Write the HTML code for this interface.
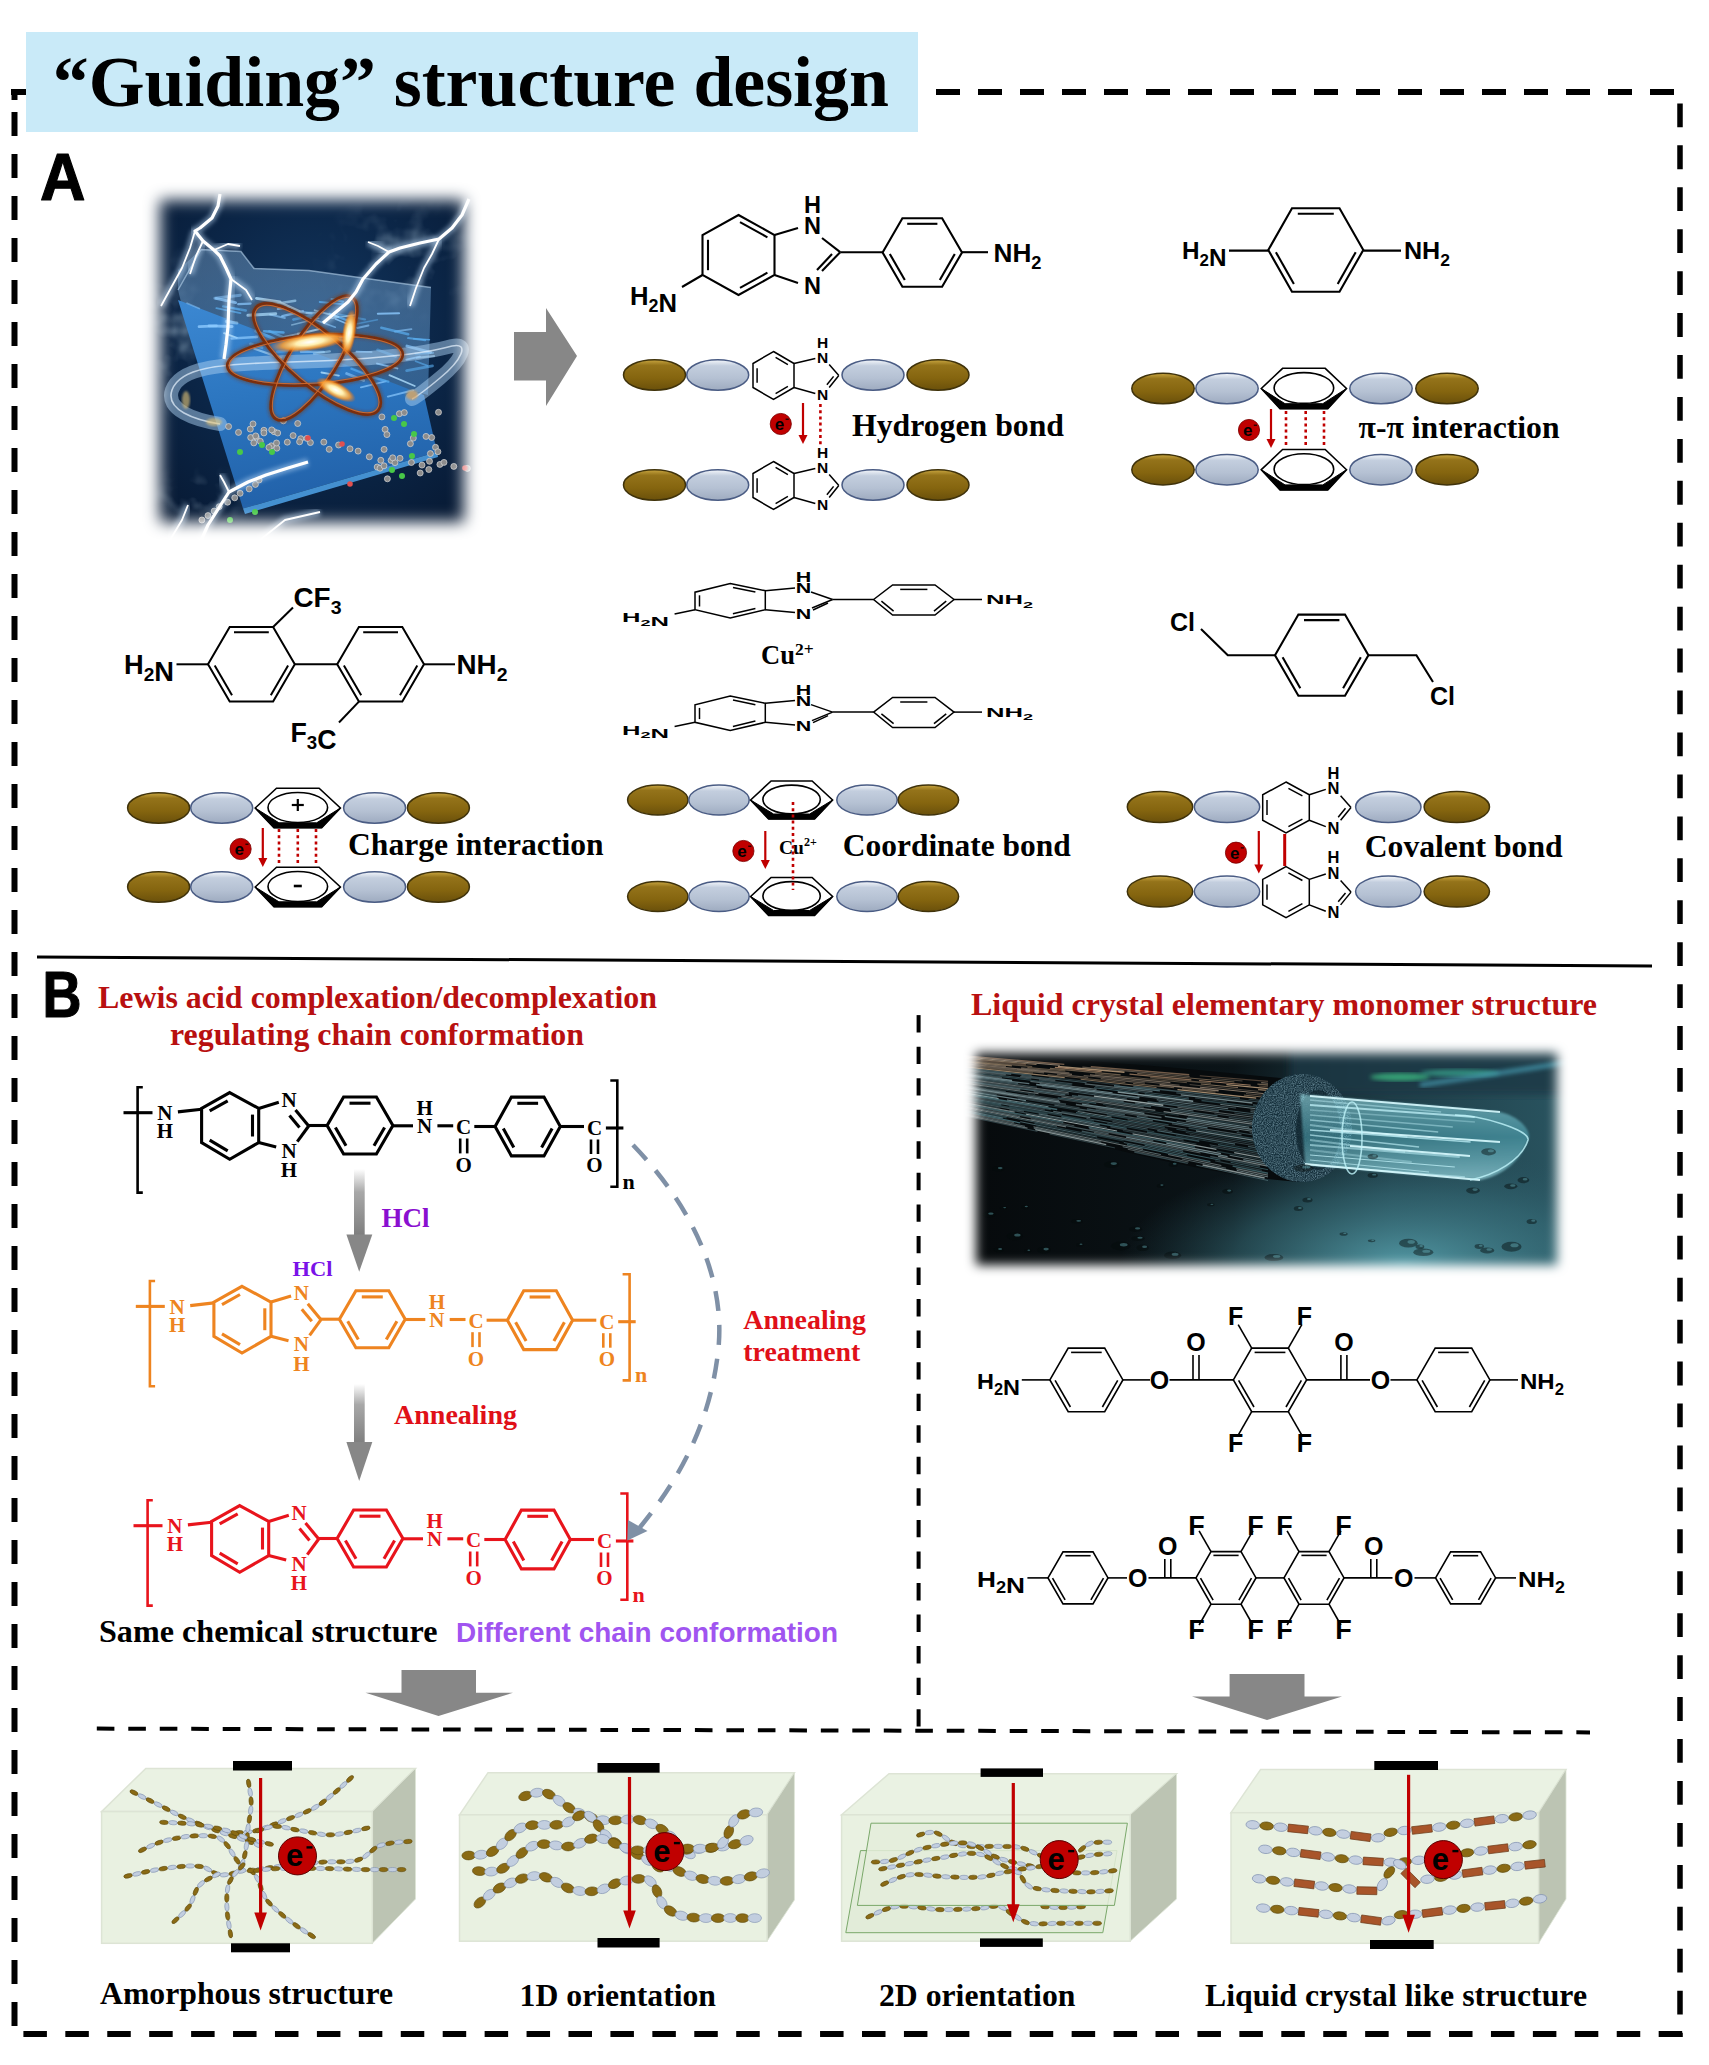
<!DOCTYPE html>
<html><head><meta charset="utf-8"><style>html,body{margin:0;padding:0;background:#fff;}svg{display:block;}</style></head>
<body><svg width="1709" height="2065" viewBox="0 0 1709 2065">
<defs>
<linearGradient id="gGold" x1="0" y1="0" x2="0" y2="1">
 <stop offset="0" stop-color="#c9a640"/><stop offset="0.18" stop-color="#94731a"/><stop offset="0.6" stop-color="#85650f"/><stop offset="1" stop-color="#6a500b"/>
</linearGradient>
<linearGradient id="gBlue" x1="0" y1="0" x2="0" y2="1">
 <stop offset="0" stop-color="#f4f7fb"/><stop offset="0.2" stop-color="#c3cede"/><stop offset="0.6" stop-color="#b5c1d3"/><stop offset="1" stop-color="#9eabc0"/>
</linearGradient>
<linearGradient id="gArrowV" x1="0" y1="0" x2="0" y2="1">
 <stop offset="0" stop-color="#ffffff"/><stop offset="0.35" stop-color="#a8a8a8"/><stop offset="1" stop-color="#7f7f7f"/>
</linearGradient>
<filter id="feather" x="-20%" y="-20%" width="140%" height="140%"><feGaussianBlur stdDeviation="9"/></filter>
<filter id="blur2"><feGaussianBlur stdDeviation="2"/></filter>
<filter id="blur1"><feGaussianBlur stdDeviation="1"/></filter>
<filter id="blur4"><feGaussianBlur stdDeviation="4"/></filter>
<filter id="glow" x="-50%" y="-50%" width="200%" height="200%"><feGaussianBlur stdDeviation="3"/></filter>
</defs>
<rect x="0" y="0" width="1709" height="2065" fill="#fff"/>
<line x1="936" y1="92" x2="1676" y2="92" stroke="#000" stroke-width="6" stroke-dasharray="24 18" stroke-dashoffset="0"/>
<line x1="11" y1="92" x2="27" y2="92" stroke="#000" stroke-width="6" />
<line x1="1680" y1="103.4" x2="1680" y2="2037" stroke="#000" stroke-width="5.5" stroke-dasharray="23.8 18.14"/>
<line x1="14.5" y1="112" x2="14.5" y2="2026" stroke="#000" stroke-width="6" stroke-dasharray="24 18"/>
<line x1="14.5" y1="89" x2="14.5" y2="100" stroke="#000" stroke-width="6" />
<line x1="23.4" y1="2034" x2="1684" y2="2034" stroke="#000" stroke-width="6" stroke-dasharray="23.5 18.43"/>
<rect x="26" y="32" width="892" height="100" fill="#c9eaf8"/>
<text x="52.8" y="106" font-family="'Liberation Serif', serif" font-size="71.5" font-weight="bold" fill="#000" text-anchor="start" textLength="836" lengthAdjust="spacingAndGlyphs" >“Guiding” structure design</text>
<text x="40" y="199.5" font-family="'Liberation Sans', sans-serif" font-size="66" font-weight="bold" fill="#000" text-anchor="start" textLength="45.5" lengthAdjust="spacingAndGlyphs" stroke="#000" stroke-width="1.2" stroke-linejoin="round">A</text>
<text x="42.5" y="1016.8" font-family="'Liberation Sans', sans-serif" font-size="64.5" font-weight="bold" fill="#000" text-anchor="start" textLength="39" lengthAdjust="spacingAndGlyphs" stroke="#000" stroke-width="1.2" stroke-linejoin="round">B</text>
<line x1="37" y1="957" x2="1652" y2="966" stroke="#000" stroke-width="3" />
<line x1="918.6" y1="1015.1" x2="918.6" y2="1727" stroke="#000" stroke-width="4" stroke-dasharray="17.4 14.15"/>
<line x1="96.8" y1="1728.6" x2="1590" y2="1732.4" stroke="#000" stroke-width="4" stroke-dasharray="17.6 13.88"/>
<defs>
<mask id="m1" maskUnits="userSpaceOnUse" x="130" y="170" width="370" height="400">
 <rect x="160" y="200" width="304" height="322" fill="#fff" filter="url(#m1f)"/>
</mask>
<filter id="m1f" x="-10%" y="-10%" width="120%" height="120%"><feGaussianBlur stdDeviation="7.5"/></filter>
<radialGradient id="bg1" cx="0.5" cy="0.4" r="0.75">
 <stop offset="0" stop-color="#133760"/><stop offset="0.5" stop-color="#0b2546"/><stop offset="1" stop-color="#06162e"/>
</radialGradient>
<linearGradient id="sheet1" x1="0" y1="0" x2="0.2" y2="1">
 <stop offset="0" stop-color="#3c88d2"/><stop offset="0.5" stop-color="#2c76c0"/><stop offset="1" stop-color="#2262aa"/>
</linearGradient>
<linearGradient id="back1" x1="0" y1="0" x2="0" y2="1">
 <stop offset="0" stop-color="#7aa4cc" stop-opacity="0.45"/><stop offset="1" stop-color="#4a86c0" stop-opacity="0.6"/>
</linearGradient>
<radialGradient id="hot" cx="0.5" cy="0.5" r="0.5">
 <stop offset="0" stop-color="#ffffff"/><stop offset="0.35" stop-color="#fff0b0"/><stop offset="0.7" stop-color="#ffa030" stop-opacity="0.85"/><stop offset="1" stop-color="#ff6a00" stop-opacity="0"/>
</radialGradient>
<filter id="glow3" x="-50%" y="-50%" width="200%" height="200%"><feGaussianBlur stdDeviation="2.2" result="b"/><feMerge><feMergeNode in="b"/><feMergeNode in="SourceGraphic"/></feMerge></filter>
<filter id="cloud1" x="0" y="0" width="100%" height="100%"><feTurbulence type="fractalNoise" baseFrequency="0.035" numOctaves="3" seed="9"/><feColorMatrix values="0 0 0 0 0.45  0 0 0 0 0.6  0 0 0 0 0.72  0 0 0 2.2 -1.05"/><feComposite in2="SourceGraphic" operator="in"/></filter>
</defs>
<g mask="url(#m1)">
<rect x="140" y="180" width="350" height="370" fill="url(#bg1)"/>
<defs><radialGradient id="cm1" cx="0.5" cy="0.5" r="0.5"><stop offset="0" stop-color="#fff"/><stop offset="1" stop-color="#000"/></radialGradient><mask id="cmask1" maskUnits="userSpaceOnUse" x="140" y="180" width="350" height="370"><rect x="140" y="180" width="350" height="370" fill="#000"/><ellipse cx="400" cy="260" rx="90" ry="70" fill="url(#cm1)"/><ellipse cx="175" cy="330" rx="40" ry="90" fill="url(#cm1)"/><ellipse cx="200" cy="500" rx="60" ry="40" fill="url(#cm1)"/></mask></defs>
<rect x="140" y="180" width="350" height="370" fill="#fff" filter="url(#cloud1)" opacity="0.6" mask="url(#cmask1)"/>
<path d="M178,290 L178,270 L201,249.5 L241,251.6 L254,268.5 L309,270.6 L431,287.4 L428,395 L188,330 Z" fill="url(#back1)"/>
<path d="M178,290 L201,249.5 L241,251.6 L254,268.5 L309,270.6 L431,287.4" fill="none" stroke="#b8d4ec" stroke-width="1.5" opacity="0.6"/>
<path d="M178,300 L424,395 L437,452 L243,508.6 Z" fill="url(#sheet1)"/>
<path d="M243,508.6 L437,452 L438,457 L245,514 Z" fill="#4a9ce0" opacity="0.9"/>
<line x1="406.7" y1="370.7" x2="432.5" y2="365.9" stroke="#5aaef0" stroke-width="2.8" opacity="0.6" stroke-linecap="round"/>
<line x1="209" y1="325.9" x2="232.1" y2="326.5" stroke="#8ccaff" stroke-width="2.9" opacity="0.8" stroke-linecap="round"/>
<line x1="214.8" y1="298.2" x2="240.3" y2="295.2" stroke="#8ccaff" stroke-width="2.9" opacity="0.5" stroke-linecap="round"/>
<line x1="224.1" y1="333.1" x2="236.9" y2="337.8" stroke="#b0e0ff" stroke-width="1.8" opacity="0.8" stroke-linecap="round"/>
<line x1="395" y1="331.5" x2="411.4" y2="329.1" stroke="#8ccaff" stroke-width="1.9" opacity="0.6" stroke-linecap="round"/>
<line x1="377.1" y1="363.6" x2="397.3" y2="368.4" stroke="#8ccaff" stroke-width="2" opacity="0.8" stroke-linecap="round"/>
<line x1="298" y1="333.4" x2="316.1" y2="337.6" stroke="#8ccaff" stroke-width="1.9" opacity="0.8" stroke-linecap="round"/>
<line x1="408.1" y1="338.1" x2="425.2" y2="340.2" stroke="#5aaef0" stroke-width="2" opacity="0.7" stroke-linecap="round"/>
<line x1="187.1" y1="303.2" x2="199.3" y2="308.5" stroke="#8ccaff" stroke-width="1.7" opacity="0.5" stroke-linecap="round"/>
<line x1="377.6" y1="349.8" x2="395.6" y2="356.6" stroke="#5aaef0" stroke-width="2.7" opacity="0.5" stroke-linecap="round"/>
<line x1="360.9" y1="387.3" x2="385.6" y2="381.3" stroke="#8ccaff" stroke-width="1.8" opacity="0.7" stroke-linecap="round"/>
<line x1="270.2" y1="314.6" x2="284.8" y2="318" stroke="#8ccaff" stroke-width="2" opacity="0.6" stroke-linecap="round"/>
<line x1="226.7" y1="306.8" x2="239.1" y2="309.5" stroke="#5aaef0" stroke-width="1.7" opacity="0.5" stroke-linecap="round"/>
<line x1="416.9" y1="357.8" x2="434.1" y2="356.1" stroke="#b0e0ff" stroke-width="2" opacity="0.6" stroke-linecap="round"/>
<line x1="338" y1="314.3" x2="365.1" y2="319.4" stroke="#5aaef0" stroke-width="2" opacity="0.5" stroke-linecap="round"/>
<line x1="415.6" y1="361.2" x2="427.2" y2="365.6" stroke="#5aaef0" stroke-width="1.7" opacity="0.6" stroke-linecap="round"/>
<line x1="254.3" y1="348.8" x2="280.7" y2="357.9" stroke="#b0e0ff" stroke-width="2.2" opacity="0.6" stroke-linecap="round"/>
<line x1="356.4" y1="351.7" x2="371.7" y2="352" stroke="#8ccaff" stroke-width="1.7" opacity="0.8" stroke-linecap="round"/>
<line x1="310" y1="318.1" x2="335.3" y2="327.2" stroke="#8ccaff" stroke-width="1.6" opacity="0.6" stroke-linecap="round"/>
<line x1="367.1" y1="375.8" x2="388.3" y2="381.6" stroke="#5aaef0" stroke-width="2.3" opacity="0.7" stroke-linecap="round"/>
<line x1="381.3" y1="327.7" x2="408.2" y2="334.2" stroke="#5aaef0" stroke-width="2.5" opacity="0.7" stroke-linecap="round"/>
<line x1="389.4" y1="375.1" x2="414.8" y2="386" stroke="#b0e0ff" stroke-width="1.7" opacity="0.8" stroke-linecap="round"/>
<line x1="231.7" y1="338.5" x2="257" y2="336.9" stroke="#8ccaff" stroke-width="2.6" opacity="0.7" stroke-linecap="round"/>
<line x1="321.5" y1="372.5" x2="338.8" y2="375.6" stroke="#b0e0ff" stroke-width="1.9" opacity="0.8" stroke-linecap="round"/>
<line x1="331.7" y1="318.2" x2="355.1" y2="315" stroke="#b0e0ff" stroke-width="1.6" opacity="0.6" stroke-linecap="round"/>
<line x1="238.2" y1="304.1" x2="250.6" y2="303.6" stroke="#8ccaff" stroke-width="2.2" opacity="0.7" stroke-linecap="round"/>
<line x1="282.6" y1="337.3" x2="304.1" y2="332.7" stroke="#8ccaff" stroke-width="1.9" opacity="0.8" stroke-linecap="round"/>
<line x1="250.5" y1="343.9" x2="261.9" y2="347.7" stroke="#5aaef0" stroke-width="2.9" opacity="0.7" stroke-linecap="round"/>
<line x1="255.8" y1="331.1" x2="273.5" y2="338.6" stroke="#5aaef0" stroke-width="2.9" opacity="0.8" stroke-linecap="round"/>
<line x1="335.9" y1="339.4" x2="348.3" y2="341.3" stroke="#b0e0ff" stroke-width="2.2" opacity="0.5" stroke-linecap="round"/>
<line x1="216.3" y1="308.2" x2="240.5" y2="313.1" stroke="#5aaef0" stroke-width="1.7" opacity="0.7" stroke-linecap="round"/>
<line x1="329.6" y1="313.8" x2="349.5" y2="321.3" stroke="#5aaef0" stroke-width="2.1" opacity="0.8" stroke-linecap="round"/>
<line x1="301" y1="351.7" x2="323.7" y2="351.9" stroke="#8ccaff" stroke-width="2.4" opacity="0.6" stroke-linecap="round"/>
<line x1="415.5" y1="353.6" x2="433" y2="352.9" stroke="#5aaef0" stroke-width="2.2" opacity="0.6" stroke-linecap="round"/>
<line x1="297.1" y1="311.7" x2="318.2" y2="312.7" stroke="#5aaef0" stroke-width="1.6" opacity="0.5" stroke-linecap="round"/>
<line x1="277.2" y1="351.8" x2="297.2" y2="350" stroke="#5aaef0" stroke-width="2.7" opacity="0.5" stroke-linecap="round"/>
<line x1="247.9" y1="315.3" x2="275.7" y2="313.7" stroke="#b0e0ff" stroke-width="3" opacity="0.7" stroke-linecap="round"/>
<line x1="387.9" y1="396.6" x2="413.2" y2="390.2" stroke="#8ccaff" stroke-width="2" opacity="0.7" stroke-linecap="round"/>
<line x1="264" y1="331.2" x2="283.5" y2="332.5" stroke="#5aaef0" stroke-width="2.5" opacity="0.8" stroke-linecap="round"/>
<line x1="216.1" y1="298.3" x2="235.6" y2="302.6" stroke="#8ccaff" stroke-width="2.8" opacity="0.7" stroke-linecap="round"/>
<line x1="351.4" y1="368.8" x2="368.8" y2="375.6" stroke="#5aaef0" stroke-width="2.2" opacity="0.7" stroke-linecap="round"/>
<line x1="256.4" y1="298.4" x2="280.1" y2="301.8" stroke="#b0e0ff" stroke-width="2.7" opacity="0.8" stroke-linecap="round"/>
<line x1="314" y1="353.7" x2="329.8" y2="351.3" stroke="#b0e0ff" stroke-width="2.3" opacity="0.5" stroke-linecap="round"/>
<line x1="357.2" y1="327.9" x2="368.4" y2="325.4" stroke="#8ccaff" stroke-width="2" opacity="0.6" stroke-linecap="round"/>
<line x1="299.4" y1="311.8" x2="311.4" y2="313.8" stroke="#8ccaff" stroke-width="2.6" opacity="0.5" stroke-linecap="round"/>
<line x1="282.3" y1="316.1" x2="302.9" y2="311.2" stroke="#8ccaff" stroke-width="2.5" opacity="0.7" stroke-linecap="round"/>
<line x1="331.6" y1="299.1" x2="342.9" y2="301.6" stroke="#5aaef0" stroke-width="2.2" opacity="0.8" stroke-linecap="round"/>
<line x1="272.9" y1="304.2" x2="295.2" y2="300.7" stroke="#b0e0ff" stroke-width="2.5" opacity="0.6" stroke-linecap="round"/>
<line x1="406.4" y1="359.6" x2="420" y2="356.6" stroke="#8ccaff" stroke-width="1.9" opacity="0.8" stroke-linecap="round"/>
<line x1="306.5" y1="313" x2="320.7" y2="312.9" stroke="#b0e0ff" stroke-width="2.1" opacity="0.5" stroke-linecap="round"/>
<line x1="319.7" y1="302" x2="345.1" y2="304.4" stroke="#5aaef0" stroke-width="1.9" opacity="0.8" stroke-linecap="round"/>
<line x1="297.9" y1="334.2" x2="321.5" y2="328.4" stroke="#b0e0ff" stroke-width="2.1" opacity="0.8" stroke-linecap="round"/>
<line x1="407" y1="346.1" x2="430.5" y2="352.4" stroke="#8ccaff" stroke-width="3" opacity="0.7" stroke-linecap="round"/>
<line x1="377.8" y1="313.7" x2="399.1" y2="313.3" stroke="#8ccaff" stroke-width="1.9" opacity="0.8" stroke-linecap="round"/>
<line x1="269.2" y1="331.1" x2="288.8" y2="339.6" stroke="#5aaef0" stroke-width="2.3" opacity="0.7" stroke-linecap="round"/>
<line x1="277.9" y1="308.9" x2="288.5" y2="307.6" stroke="#8ccaff" stroke-width="2.2" opacity="0.8" stroke-linecap="round"/>
<line x1="340.4" y1="337" x2="358.1" y2="336.1" stroke="#b0e0ff" stroke-width="2.9" opacity="0.6" stroke-linecap="round"/>
<line x1="293.5" y1="319.5" x2="314.8" y2="314.9" stroke="#5aaef0" stroke-width="2.8" opacity="0.6" stroke-linecap="round"/>
<line x1="314.7" y1="310.3" x2="338.6" y2="316.8" stroke="#b0e0ff" stroke-width="1.9" opacity="0.6" stroke-linecap="round"/>
<line x1="346.6" y1="373.5" x2="363.7" y2="380.6" stroke="#8ccaff" stroke-width="2.7" opacity="0.6" stroke-linecap="round"/>
<line x1="291.7" y1="324.9" x2="318.8" y2="318.3" stroke="#b0e0ff" stroke-width="1.5" opacity="0.5" stroke-linecap="round"/>
<line x1="413.8" y1="338.8" x2="429.4" y2="339.8" stroke="#5aaef0" stroke-width="1.6" opacity="0.8" stroke-linecap="round"/>
<line x1="226.3" y1="321.4" x2="236.9" y2="323.1" stroke="#b0e0ff" stroke-width="3" opacity="0.5" stroke-linecap="round"/>
<line x1="281.4" y1="303" x2="299.5" y2="311.3" stroke="#b0e0ff" stroke-width="2.3" opacity="0.8" stroke-linecap="round"/>
<line x1="353.4" y1="324.5" x2="377.4" y2="319.7" stroke="#5aaef0" stroke-width="1.6" opacity="0.5" stroke-linecap="round"/>
<line x1="199.1" y1="326.6" x2="216.4" y2="325.8" stroke="#8ccaff" stroke-width="2.8" opacity="0.8" stroke-linecap="round"/>
<line x1="335.5" y1="319.1" x2="348.7" y2="324.4" stroke="#8ccaff" stroke-width="1.6" opacity="0.8" stroke-linecap="round"/>
<line x1="223.1" y1="306.4" x2="245.8" y2="310.5" stroke="#5aaef0" stroke-width="2.3" opacity="0.6" stroke-linecap="round"/>
<path d="M220,424 C195,420 165,410 172,390 C180,368 215,364 290,362 C360,360 420,355 452,346 C470,342 462,360 440,378 C428,388 418,396 412,399" fill="none" stroke="#a8cdf0" stroke-width="14" opacity="0.5" stroke-linecap="round"/>
<path d="M220,424 C195,420 165,410 172,390 C180,368 215,364 290,362 C360,360 420,355 452,346 C470,342 462,360 440,378 C428,388 418,396 412,399" fill="none" stroke="#e8f4ff" stroke-width="1.6" opacity="0.7"/>
<ellipse cx="186" cy="400" rx="4" ry="9" fill="#e8c878" opacity="0.6" filter="url(#blur1)"/>
<ellipse cx="214" cy="422" rx="8" ry="4" fill="#e8c878" opacity="0.6" filter="url(#blur1)"/>
<ellipse cx="412" cy="395" rx="6" ry="5" fill="#e0a050" opacity="0.7" filter="url(#blur1)"/>
<circle cx="228.6" cy="426.5" r="3" fill="#8c8c8c" stroke="#d8d8d8" stroke-width="0.7"/>
<circle cx="238.5" cy="432.4" r="3" fill="#8c8c8c" stroke="#d8d8d8" stroke-width="0.7"/>
<circle cx="250.3" cy="429.1" r="3" fill="#8c8c8c" stroke="#d8d8d8" stroke-width="0.7"/>
<circle cx="256.2" cy="437.1" r="3" fill="#8c8c8c" stroke="#d8d8d8" stroke-width="0.7"/>
<circle cx="263.9" cy="430.3" r="3" fill="#8c8c8c" stroke="#d8d8d8" stroke-width="0.7"/>
<circle cx="274.1" cy="431.7" r="3" fill="#8c8c8c" stroke="#d8d8d8" stroke-width="0.7"/>
<circle cx="287.3" cy="442.2" r="3" fill="#8c8c8c" stroke="#d8d8d8" stroke-width="0.7"/>
<circle cx="293.1" cy="435.6" r="3" fill="#8c8c8c" stroke="#d8d8d8" stroke-width="0.7"/>
<circle cx="300.8" cy="438.7" r="3" fill="#8c8c8c" stroke="#d8d8d8" stroke-width="0.7"/>
<circle cx="310.4" cy="442.6" r="3" fill="#8c8c8c" stroke="#d8d8d8" stroke-width="0.7"/>
<circle cx="323.8" cy="442.1" r="3" fill="#8c8c8c" stroke="#d8d8d8" stroke-width="0.7"/>
<circle cx="329.2" cy="449.3" r="3" fill="#8c8c8c" stroke="#d8d8d8" stroke-width="0.7"/>
<circle cx="338.6" cy="445" r="3" fill="#8c8c8c" stroke="#d8d8d8" stroke-width="0.7"/>
<circle cx="350" cy="448.8" r="3" fill="#8c8c8c" stroke="#d8d8d8" stroke-width="0.7"/>
<circle cx="358.1" cy="451.1" r="3" fill="#8c8c8c" stroke="#d8d8d8" stroke-width="0.7"/>
<circle cx="369.3" cy="456.8" r="3" fill="#8c8c8c" stroke="#d8d8d8" stroke-width="0.7"/>
<circle cx="380.8" cy="460.3" r="3" fill="#8c8c8c" stroke="#d8d8d8" stroke-width="0.7"/>
<circle cx="391.1" cy="460.4" r="3" fill="#8c8c8c" stroke="#d8d8d8" stroke-width="0.7"/>
<circle cx="400" cy="458.3" r="3" fill="#8c8c8c" stroke="#d8d8d8" stroke-width="0.7"/>
<circle cx="411.4" cy="462.5" r="3" fill="#8c8c8c" stroke="#d8d8d8" stroke-width="0.7"/>
<circle cx="422" cy="465.1" r="3" fill="#8c8c8c" stroke="#d8d8d8" stroke-width="0.7"/>
<circle cx="429.5" cy="461.3" r="3" fill="#8c8c8c" stroke="#d8d8d8" stroke-width="0.7"/>
<circle cx="439.9" cy="464.4" r="3" fill="#8c8c8c" stroke="#d8d8d8" stroke-width="0.7"/>
<circle cx="444" cy="462.4" r="3" fill="#8c8c8c" stroke="#d8d8d8" stroke-width="0.7"/>
<circle cx="453.8" cy="466.4" r="3" fill="#8c8c8c" stroke="#d8d8d8" stroke-width="0.7"/>
<circle cx="467.4" cy="468.4" r="3" fill="#8c8c8c" stroke="#d8d8d8" stroke-width="0.7"/>
<circle cx="253.8" cy="442.9" r="3" fill="#8c8c8c" stroke="#d8d8d8" stroke-width="0.7"/>
<circle cx="283.4" cy="420.8" r="3" fill="#8c8c8c" stroke="#d8d8d8" stroke-width="0.7"/>
<circle cx="253" cy="423.9" r="3" fill="#8c8c8c" stroke="#d8d8d8" stroke-width="0.7"/>
<circle cx="271.4" cy="445.8" r="3" fill="#8c8c8c" stroke="#d8d8d8" stroke-width="0.7"/>
<circle cx="307" cy="438.4" r="3" fill="#8c8c8c" stroke="#d8d8d8" stroke-width="0.7"/>
<circle cx="263.9" cy="432.9" r="3" fill="#8c8c8c" stroke="#d8d8d8" stroke-width="0.7"/>
<circle cx="271.7" cy="429.9" r="3" fill="#8c8c8c" stroke="#d8d8d8" stroke-width="0.7"/>
<circle cx="250.7" cy="437.5" r="3" fill="#8c8c8c" stroke="#d8d8d8" stroke-width="0.7"/>
<circle cx="299.6" cy="441.8" r="3" fill="#8c8c8c" stroke="#d8d8d8" stroke-width="0.7"/>
<circle cx="255.7" cy="435.9" r="3" fill="#8c8c8c" stroke="#d8d8d8" stroke-width="0.7"/>
<circle cx="260.3" cy="441.3" r="3" fill="#8c8c8c" stroke="#d8d8d8" stroke-width="0.7"/>
<circle cx="276.8" cy="448.2" r="3" fill="#8c8c8c" stroke="#d8d8d8" stroke-width="0.7"/>
<circle cx="297.7" cy="423.5" r="3" fill="#8c8c8c" stroke="#d8d8d8" stroke-width="0.7"/>
<circle cx="269" cy="447.4" r="3" fill="#8c8c8c" stroke="#d8d8d8" stroke-width="0.7"/>
<circle cx="277.7" cy="433" r="3" fill="#8c8c8c" stroke="#d8d8d8" stroke-width="0.7"/>
<circle cx="276.5" cy="443" r="3" fill="#8c8c8c" stroke="#d8d8d8" stroke-width="0.7"/>
<circle cx="435.5" cy="447.3" r="3" fill="#8c8c8c" stroke="#d8d8d8" stroke-width="0.7"/>
<circle cx="437.9" cy="451.7" r="3" fill="#8c8c8c" stroke="#d8d8d8" stroke-width="0.7"/>
<circle cx="377.2" cy="467" r="3" fill="#8c8c8c" stroke="#d8d8d8" stroke-width="0.7"/>
<circle cx="399.4" cy="413.7" r="3" fill="#8c8c8c" stroke="#d8d8d8" stroke-width="0.7"/>
<circle cx="438.5" cy="412.3" r="3" fill="#8c8c8c" stroke="#d8d8d8" stroke-width="0.7"/>
<circle cx="410.4" cy="443.7" r="3" fill="#8c8c8c" stroke="#d8d8d8" stroke-width="0.7"/>
<circle cx="431.7" cy="437.5" r="3" fill="#8c8c8c" stroke="#d8d8d8" stroke-width="0.7"/>
<circle cx="385.1" cy="429.4" r="3" fill="#8c8c8c" stroke="#d8d8d8" stroke-width="0.7"/>
<circle cx="384.1" cy="449.4" r="3" fill="#8c8c8c" stroke="#d8d8d8" stroke-width="0.7"/>
<circle cx="395" cy="462.6" r="3" fill="#8c8c8c" stroke="#d8d8d8" stroke-width="0.7"/>
<circle cx="386.9" cy="434.6" r="3" fill="#8c8c8c" stroke="#d8d8d8" stroke-width="0.7"/>
<circle cx="387.4" cy="478.8" r="3" fill="#8c8c8c" stroke="#d8d8d8" stroke-width="0.7"/>
<circle cx="428.8" cy="469.5" r="3" fill="#8c8c8c" stroke="#d8d8d8" stroke-width="0.7"/>
<circle cx="413.3" cy="438.1" r="3" fill="#8c8c8c" stroke="#d8d8d8" stroke-width="0.7"/>
<circle cx="380" cy="468.2" r="3" fill="#8c8c8c" stroke="#d8d8d8" stroke-width="0.7"/>
<circle cx="404.3" cy="412.6" r="3" fill="#8c8c8c" stroke="#d8d8d8" stroke-width="0.7"/>
<circle cx="381.9" cy="416.9" r="3" fill="#8c8c8c" stroke="#d8d8d8" stroke-width="0.7"/>
<circle cx="420.2" cy="473" r="3" fill="#8c8c8c" stroke="#d8d8d8" stroke-width="0.7"/>
<circle cx="384" cy="465.8" r="3" fill="#8c8c8c" stroke="#d8d8d8" stroke-width="0.7"/>
<circle cx="392.7" cy="457.8" r="3" fill="#8c8c8c" stroke="#d8d8d8" stroke-width="0.7"/>
<circle cx="430.4" cy="453.6" r="3" fill="#8c8c8c" stroke="#d8d8d8" stroke-width="0.7"/>
<circle cx="426" cy="436.4" r="3" fill="#8c8c8c" stroke="#d8d8d8" stroke-width="0.7"/>
<circle cx="259.1" cy="480" r="3" fill="#8c8c8c" stroke="#d8d8d8" stroke-width="0.7"/>
<circle cx="255.4" cy="484.4" r="3" fill="#8c8c8c" stroke="#d8d8d8" stroke-width="0.7"/>
<circle cx="249.2" cy="488.9" r="3" fill="#8c8c8c" stroke="#d8d8d8" stroke-width="0.7"/>
<circle cx="240.1" cy="493.3" r="3" fill="#8c8c8c" stroke="#d8d8d8" stroke-width="0.7"/>
<circle cx="234.7" cy="497.8" r="3" fill="#8c8c8c" stroke="#d8d8d8" stroke-width="0.7"/>
<circle cx="227.6" cy="502.2" r="3" fill="#8c8c8c" stroke="#d8d8d8" stroke-width="0.7"/>
<circle cx="219.2" cy="506.7" r="3" fill="#8c8c8c" stroke="#d8d8d8" stroke-width="0.7"/>
<circle cx="214.2" cy="511.1" r="3" fill="#8c8c8c" stroke="#d8d8d8" stroke-width="0.7"/>
<circle cx="208" cy="515.6" r="3" fill="#8c8c8c" stroke="#d8d8d8" stroke-width="0.7"/>
<circle cx="201.9" cy="520" r="3" fill="#8c8c8c" stroke="#d8d8d8" stroke-width="0.7"/>
<circle cx="262" cy="445" r="3" fill="#48c848"/>
<circle cx="272" cy="452" r="3" fill="#48c848"/>
<circle cx="394" cy="418" r="3" fill="#48c848"/>
<circle cx="404" cy="424" r="3" fill="#48c848"/>
<circle cx="414" cy="434" r="3" fill="#48c848"/>
<circle cx="392" cy="470" r="3" fill="#48c848"/>
<circle cx="402" cy="476" r="3" fill="#48c848"/>
<circle cx="240" cy="452" r="3" fill="#48c848"/>
<circle cx="412" cy="456" r="3" fill="#48c848"/>
<circle cx="230" cy="520" r="3" fill="#48c848"/>
<circle cx="255" cy="512" r="3" fill="#48c848"/>
<circle cx="308" cy="438" r="2.8" fill="#e05050"/>
<circle cx="342" cy="444" r="2.8" fill="#e05050"/>
<circle cx="350" cy="484" r="2.8" fill="#e05050"/>
<circle cx="465" cy="468" r="2.8" fill="#e05050"/>
<g filter="url(#glow3)" fill="none" stroke="#7a2e0c" stroke-width="2.6">
<ellipse cx="315" cy="360" rx="88" ry="25" transform="rotate(-4 315 360)"/>
<ellipse cx="317" cy="359" rx="80" ry="27" transform="rotate(40 317 359)"/>
<ellipse cx="314" cy="358" rx="72" ry="24" transform="rotate(-58 314 358)"/>
</g>
<g fill="none" stroke="#d86a28" stroke-width="1" opacity="0.9">
<ellipse cx="315" cy="360" rx="86" ry="23" transform="rotate(-4 315 360)"/>
<ellipse cx="317" cy="359" rx="78" ry="25" transform="rotate(40 317 359)"/>
<ellipse cx="314" cy="358" rx="70" ry="22" transform="rotate(-58 314 358)"/>
</g>
<ellipse cx="310" cy="342" rx="40" ry="9" fill="url(#hot)" transform="rotate(-8 310 342)"/>
<ellipse cx="349" cy="333" rx="7" ry="24" fill="url(#hot)" transform="rotate(8 349 333)"/>
<ellipse cx="336" cy="390" rx="22" ry="8" fill="url(#hot)" transform="rotate(28 336 390)"/>
<polyline points="220,194 218,206 212,218 200,228 195,231 203,241 214,250 220,256 226,268 231,279 229,300 228,327 226,345 224,359" fill="none" stroke="#c8e4ff" stroke-width="8" opacity="0.45" filter="url(#blur2)"/>
<polyline points="195,231 190,248 182,268 172,286 161,306" fill="none" stroke="#c8e4ff" stroke-width="8" opacity="0.45" filter="url(#blur2)"/>
<polyline points="203,241 196,256 190,274" fill="none" stroke="#c8e4ff" stroke-width="8" opacity="0.45" filter="url(#blur2)"/>
<polyline points="214,250 228,244 240,246" fill="none" stroke="#c8e4ff" stroke-width="8" opacity="0.45" filter="url(#blur2)"/>
<polyline points="231,279 246,290 252,300" fill="none" stroke="#c8e4ff" stroke-width="8" opacity="0.45" filter="url(#blur2)"/>
<polyline points="469,199 462,215 452,228 439,239 420,243 400,248 389,252 376,264 363,279 356,292 348,302 336,312 323,323" fill="none" stroke="#c8e4ff" stroke-width="8" opacity="0.45" filter="url(#blur2)"/>
<polyline points="439,239 432,254 424,268 416,288 410,306" fill="none" stroke="#c8e4ff" stroke-width="8" opacity="0.45" filter="url(#blur2)"/>
<polyline points="389,252 378,246 368,242" fill="none" stroke="#c8e4ff" stroke-width="8" opacity="0.45" filter="url(#blur2)"/>
<polyline points="199,545 208,525 220,506 229,492 248,482 266,475 288,468 308,462" fill="none" stroke="#c8e4ff" stroke-width="8" opacity="0.45" filter="url(#blur2)"/>
<polyline points="229,492 224,482 220,475" fill="none" stroke="#c8e4ff" stroke-width="8" opacity="0.45" filter="url(#blur2)"/>
<polyline points="170,540 182,520 188,505" fill="none" stroke="#c8e4ff" stroke-width="8" opacity="0.45" filter="url(#blur2)"/>
<polyline points="260,540 285,520 320,512" fill="none" stroke="#c8e4ff" stroke-width="8" opacity="0.45" filter="url(#blur2)"/>
<polyline points="220,194 218,206 212,218 200,228 195,231 203,241 214,250 220,256 226,268 231,279 229,300 228,327 226,345 224,359" fill="none" stroke="#ffffff" stroke-width="3.2" stroke-linejoin="round"/>
<polyline points="195,231 190,248 182,268 172,286 161,306" fill="none" stroke="#ffffff" stroke-width="1.8" stroke-linejoin="round"/>
<polyline points="203,241 196,256 190,274" fill="none" stroke="#ffffff" stroke-width="1.8" stroke-linejoin="round"/>
<polyline points="214,250 228,244 240,246" fill="none" stroke="#ffffff" stroke-width="1.8" stroke-linejoin="round"/>
<polyline points="231,279 246,290 252,300" fill="none" stroke="#ffffff" stroke-width="1.8" stroke-linejoin="round"/>
<polyline points="469,199 462,215 452,228 439,239 420,243 400,248 389,252 376,264 363,279 356,292 348,302 336,312 323,323" fill="none" stroke="#ffffff" stroke-width="3.2" stroke-linejoin="round"/>
<polyline points="439,239 432,254 424,268 416,288 410,306" fill="none" stroke="#ffffff" stroke-width="1.8" stroke-linejoin="round"/>
<polyline points="389,252 378,246 368,242" fill="none" stroke="#ffffff" stroke-width="1.8" stroke-linejoin="round"/>
<polyline points="199,545 208,525 220,506 229,492 248,482 266,475 288,468 308,462" fill="none" stroke="#ffffff" stroke-width="3.2" stroke-linejoin="round"/>
<polyline points="229,492 224,482 220,475" fill="none" stroke="#ffffff" stroke-width="1.8" stroke-linejoin="round"/>
<polyline points="170,540 182,520 188,505" fill="none" stroke="#ffffff" stroke-width="1.8" stroke-linejoin="round"/>
<polyline points="260,540 285,520 320,512" fill="none" stroke="#ffffff" stroke-width="1.8" stroke-linejoin="round"/>
</g>
<polygon points="514,332 546,332 546,308 577,356 546,406 546,380.5 514,380.5" fill="#878787" stroke="none" stroke-width="0" stroke-linejoin="miter" />
<polygon points="738.5,215 774.5,235 774.5,275 738.5,295 702.5,275 702.5,235" fill="none" stroke="#000" stroke-width="2.1" stroke-linejoin="miter" />
<line x1="740" y1="222.1" x2="767.4" y2="237.3" stroke="#000" stroke-width="2.1" />
<line x1="767.4" y1="272.7" x2="740" y2="287.9" stroke="#000" stroke-width="2.1" />
<line x1="708" y1="270.2" x2="708" y2="239.8" stroke="#000" stroke-width="2.1" />
<line x1="774.5" y1="235" x2="798" y2="228" stroke="#000" stroke-width="2.1" />
<line x1="774.5" y1="275" x2="798" y2="283" stroke="#000" stroke-width="2.1" />
<line x1="822" y1="238" x2="840.2" y2="252.2" stroke="#000" stroke-width="2.1" />
<line x1="840.2" y1="252.2" x2="822" y2="271" stroke="#000" stroke-width="2.1" />
<line x1="832" y1="254" x2="817" y2="270" stroke="#000" stroke-width="2.1" />
<text x="812.5" y="234" font-family="'Liberation Sans', sans-serif" font-size="23.5" font-weight="bold" fill="#000" text-anchor="middle" >N</text>
<text x="812.5" y="294" font-family="'Liberation Sans', sans-serif" font-size="23.5" font-weight="bold" fill="#000" text-anchor="middle" >N</text>
<text x="812.5" y="212.5" font-family="'Liberation Sans', sans-serif" font-size="23.5" font-weight="bold" fill="#000" text-anchor="middle" >H</text>
<line x1="840.2" y1="252.2" x2="882.7" y2="252.2" stroke="#000" stroke-width="2.1" />
<polygon points="882.6,252.5 902.4,218.3 942.1,218.3 962,252.5 942.1,286.7 902.4,286.7" fill="none" stroke="#000" stroke-width="2.1" stroke-linejoin="miter" />
<line x1="907.2" y1="223.8" x2="937.4" y2="223.8" stroke="#000" stroke-width="2.1" />
<line x1="954.8" y1="253.9" x2="939.8" y2="279.9" stroke="#000" stroke-width="2.1" />
<line x1="904.8" y1="279.9" x2="889.8" y2="253.9" stroke="#000" stroke-width="2.1" />
<line x1="962" y1="252.2" x2="988" y2="252.2" stroke="#000" stroke-width="2.1" />
<text x="993.5" y="262" font-family="'Liberation Sans', sans-serif" font-size="25.5" font-weight="bold" fill="#000" text-anchor="start" textLength="48" lengthAdjust="spacingAndGlyphs" ><tspan>NH</tspan><tspan font-size="17.8" dy="7.1">2</tspan><tspan dy="-7.1"></tspan></text>
<line x1="682" y1="287" x2="702.5" y2="275" stroke="#000" stroke-width="2.1" />
<text x="630" y="304.5" font-family="'Liberation Sans', sans-serif" font-size="25.5" font-weight="bold" fill="#000" text-anchor="start" textLength="47" lengthAdjust="spacingAndGlyphs" ><tspan>H</tspan><tspan font-size="17.8" dy="7.1">2</tspan><tspan dy="-7.1"></tspan><tspan>N</tspan></text>
<polygon points="1268.3,250 1292,208.2 1339.5,208.2 1363.3,250 1339.5,291.8 1292,291.8" fill="none" stroke="#000" stroke-width="2.1" stroke-linejoin="miter" />
<line x1="1297.8" y1="213.7" x2="1333.8" y2="213.7" stroke="#000" stroke-width="2.1" />
<line x1="1355.7" y1="252.2" x2="1337.7" y2="284" stroke="#000" stroke-width="2.1" />
<line x1="1293.9" y1="284" x2="1275.9" y2="252.2" stroke="#000" stroke-width="2.1" />
<line x1="1229" y1="250.6" x2="1268.3" y2="250.6" stroke="#000" stroke-width="2.1" />
<line x1="1363.3" y1="250.6" x2="1401" y2="250.6" stroke="#000" stroke-width="2.1" />
<text x="1182" y="259" font-family="'Liberation Sans', sans-serif" font-size="24.5" font-weight="bold" fill="#000" text-anchor="start" textLength="44.5" lengthAdjust="spacingAndGlyphs" ><tspan>H</tspan><tspan font-size="17.1" dy="6.9">2</tspan><tspan dy="-6.9"></tspan><tspan>N</tspan></text>
<text x="1404" y="259" font-family="'Liberation Sans', sans-serif" font-size="24.5" font-weight="bold" fill="#000" text-anchor="start" textLength="46" lengthAdjust="spacingAndGlyphs" ><tspan>NH</tspan><tspan font-size="17.1" dy="6.9">2</tspan><tspan dy="-6.9"></tspan></text>
<ellipse cx="654.5" cy="375" rx="31" ry="15.2" fill="url(#gGold)" stroke="#3f320a" stroke-width="1.5"/>
<ellipse cx="717.7" cy="375" rx="31" ry="15.2" fill="url(#gBlue)" stroke="#4a5c84" stroke-width="1.5"/>
<ellipse cx="873" cy="375" rx="31" ry="15.2" fill="url(#gBlue)" stroke="#4a5c84" stroke-width="1.5"/>
<ellipse cx="938" cy="375" rx="31" ry="15.2" fill="url(#gGold)" stroke="#3f320a" stroke-width="1.5"/>
<polygon points="773.5,351.5 794,363.5 794,387.5 773.5,399.5 753,387.5 753,363.5" fill="none" stroke="#000" stroke-width="1.5" stroke-linejoin="miter" />
<line x1="775.6" y1="357.4" x2="787.9" y2="364.6" stroke="#000" stroke-width="1.5" />
<line x1="787.9" y1="386.4" x2="775.6" y2="393.6" stroke="#000" stroke-width="1.5" />
<line x1="757.1" y1="382.7" x2="757.1" y2="368.3" stroke="#000" stroke-width="1.5" />
<line x1="794" y1="363.5" x2="815.3" y2="358.5" stroke="#000" stroke-width="1.5" />
<line x1="794" y1="387.5" x2="815.3" y2="393.5" stroke="#000" stroke-width="1.5" />
<line x1="829.2" y1="364.5" x2="838.8" y2="375.5" stroke="#000" stroke-width="1.5" />
<line x1="838.8" y1="375.5" x2="829.2" y2="387.5" stroke="#000" stroke-width="1.5" />
<line x1="833.6" y1="376.4" x2="826.9" y2="384.8" stroke="#000" stroke-width="1.5" />
<text x="822.5" y="362.8" font-family="'Liberation Sans', sans-serif" font-size="15.5" font-weight="bold" fill="#000" text-anchor="middle" >N</text>
<text x="822.5" y="400.3" font-family="'Liberation Sans', sans-serif" font-size="15.5" font-weight="bold" fill="#000" text-anchor="middle" >N</text>
<text x="822.5" y="348.3" font-family="'Liberation Sans', sans-serif" font-size="15.5" font-weight="bold" fill="#000" text-anchor="middle" >H</text>
<ellipse cx="654.5" cy="485" rx="31" ry="15.2" fill="url(#gGold)" stroke="#3f320a" stroke-width="1.5"/>
<ellipse cx="717.7" cy="485" rx="31" ry="15.2" fill="url(#gBlue)" stroke="#4a5c84" stroke-width="1.5"/>
<ellipse cx="873" cy="485" rx="31" ry="15.2" fill="url(#gBlue)" stroke="#4a5c84" stroke-width="1.5"/>
<ellipse cx="938" cy="485" rx="31" ry="15.2" fill="url(#gGold)" stroke="#3f320a" stroke-width="1.5"/>
<polygon points="773.5,461.5 794,473.5 794,497.5 773.5,509.5 753,497.5 753,473.5" fill="none" stroke="#000" stroke-width="1.5" stroke-linejoin="miter" />
<line x1="775.6" y1="467.4" x2="787.9" y2="474.6" stroke="#000" stroke-width="1.5" />
<line x1="787.9" y1="496.4" x2="775.6" y2="503.6" stroke="#000" stroke-width="1.5" />
<line x1="757.1" y1="492.7" x2="757.1" y2="478.3" stroke="#000" stroke-width="1.5" />
<line x1="794" y1="473.5" x2="815.3" y2="468.5" stroke="#000" stroke-width="1.5" />
<line x1="794" y1="497.5" x2="815.3" y2="503.5" stroke="#000" stroke-width="1.5" />
<line x1="829.2" y1="474.5" x2="838.8" y2="485.5" stroke="#000" stroke-width="1.5" />
<line x1="838.8" y1="485.5" x2="829.2" y2="497.5" stroke="#000" stroke-width="1.5" />
<line x1="833.6" y1="486.4" x2="826.9" y2="494.8" stroke="#000" stroke-width="1.5" />
<text x="822.5" y="472.8" font-family="'Liberation Sans', sans-serif" font-size="15.5" font-weight="bold" fill="#000" text-anchor="middle" >N</text>
<text x="822.5" y="510.3" font-family="'Liberation Sans', sans-serif" font-size="15.5" font-weight="bold" fill="#000" text-anchor="middle" >N</text>
<text x="822.5" y="458.3" font-family="'Liberation Sans', sans-serif" font-size="15.5" font-weight="bold" fill="#000" text-anchor="middle" >H</text>
<circle cx="780.8" cy="424" r="10.6" fill="#c00000" stroke="#7a0000" stroke-width="0.8"/>
<text x="779.5" y="429.9" font-family="'Liberation Sans', sans-serif" font-size="17" font-weight="bold" fill="#000" text-anchor="middle" >e</text>
<line x1="785.6" y1="419.2" x2="788.8" y2="419.2" stroke="#000" stroke-width="1.1" />
<line x1="803" y1="403" x2="803" y2="436" stroke="#c00000" stroke-width="2.2" />
<polygon points="798.5,435 807.5,435 803,444" fill="#c00000" stroke="none" stroke-width="0" stroke-linejoin="miter" />
<line x1="820.4" y1="404" x2="820.4" y2="446" stroke="#c00000" stroke-width="2.6" stroke-dasharray="3 3.2"/>
<text x="852" y="436" font-family="'Liberation Serif', serif" font-size="31.6" font-weight="bold" fill="#000" text-anchor="start" textLength="212" lengthAdjust="spacingAndGlyphs" >Hydrogen bond</text>
<ellipse cx="1163" cy="388.5" rx="31.2" ry="15.2" fill="url(#gGold)" stroke="#3f320a" stroke-width="1.5"/>
<ellipse cx="1227" cy="388.5" rx="31.2" ry="15.2" fill="url(#gBlue)" stroke="#4a5c84" stroke-width="1.5"/>
<ellipse cx="1381" cy="388.5" rx="31.2" ry="15.2" fill="url(#gBlue)" stroke="#4a5c84" stroke-width="1.5"/>
<ellipse cx="1447" cy="388.5" rx="31.2" ry="15.2" fill="url(#gGold)" stroke="#3f320a" stroke-width="1.5"/>
<polygon points="1261.3,388.5 1282.6,368.3 1325.2,368.3 1346.5,388.5 1327.8,408.7 1280,408.7" fill="#fff" stroke="#000" stroke-width="1.6" stroke-linejoin="miter" />
<polygon points="1261.3,388.5 1280,408.7 1327.8,408.7 1346.5,388.5 1322.8,403.7 1285,403.7" fill="#000" stroke="#000" stroke-width="1" stroke-linejoin="miter" />
<ellipse cx="1303.9" cy="388" rx="29.8" ry="15.4" fill="#fff" stroke="#000" stroke-width="1.6"/>
<ellipse cx="1163" cy="469.7" rx="31.2" ry="15.2" fill="url(#gGold)" stroke="#3f320a" stroke-width="1.5"/>
<ellipse cx="1227" cy="469.7" rx="31.2" ry="15.2" fill="url(#gBlue)" stroke="#4a5c84" stroke-width="1.5"/>
<ellipse cx="1381" cy="469.7" rx="31.2" ry="15.2" fill="url(#gBlue)" stroke="#4a5c84" stroke-width="1.5"/>
<ellipse cx="1447" cy="469.7" rx="31.2" ry="15.2" fill="url(#gGold)" stroke="#3f320a" stroke-width="1.5"/>
<polygon points="1261.3,469.7 1282.6,449.5 1325.2,449.5 1346.5,469.7 1327.8,489.9 1280,489.9" fill="#fff" stroke="#000" stroke-width="1.6" stroke-linejoin="miter" />
<polygon points="1261.3,469.7 1280,489.9 1327.8,489.9 1346.5,469.7 1322.8,484.9 1285,484.9" fill="#000" stroke="#000" stroke-width="1" stroke-linejoin="miter" />
<ellipse cx="1303.9" cy="469.2" rx="29.8" ry="15.4" fill="#fff" stroke="#000" stroke-width="1.6"/>
<circle cx="1249" cy="430" r="10.6" fill="#c00000" stroke="#7a0000" stroke-width="0.8"/>
<text x="1247.7" y="435.9" font-family="'Liberation Sans', sans-serif" font-size="17" font-weight="bold" fill="#000" text-anchor="middle" >e</text>
<line x1="1253.8" y1="425.2" x2="1257" y2="425.2" stroke="#000" stroke-width="1.1" />
<line x1="1271" y1="409" x2="1271" y2="440" stroke="#c00000" stroke-width="2.2" />
<polygon points="1266.5,439 1275.5,439 1271,448" fill="#c00000" stroke="none" stroke-width="0" stroke-linejoin="miter" />
<line x1="1286" y1="411" x2="1286" y2="446" stroke="#c00000" stroke-width="2.6" stroke-dasharray="3 3.2"/>
<line x1="1305.7" y1="411" x2="1305.7" y2="446" stroke="#c00000" stroke-width="2.6" stroke-dasharray="3 3.2"/>
<line x1="1324" y1="411" x2="1324" y2="446" stroke="#c00000" stroke-width="2.6" stroke-dasharray="3 3.2"/>
<text x="1358.6" y="437.8" font-family="'Liberation Serif', serif" font-size="31.6" font-weight="bold" fill="#000" text-anchor="start" textLength="201" lengthAdjust="spacingAndGlyphs" >π-π interaction</text>
<polygon points="208,664.3 229.7,627 273.1,627 294.8,664.3 273.1,701.6 229.7,701.6" fill="none" stroke="#000" stroke-width="2" stroke-linejoin="miter" />
<line x1="234" y1="632.2" x2="268.8" y2="632.2" stroke="#000" stroke-width="2" />
<line x1="288.1" y1="665.4" x2="270.8" y2="695.3" stroke="#000" stroke-width="2" />
<line x1="232" y1="695.3" x2="214.7" y2="665.4" stroke="#000" stroke-width="2" />
<polygon points="337.2,664.3 358.9,627 402.3,627 424,664.3 402.3,701.6 358.9,701.6" fill="none" stroke="#000" stroke-width="2" stroke-linejoin="miter" />
<line x1="363.2" y1="632.2" x2="398" y2="632.2" stroke="#000" stroke-width="2" />
<line x1="417.3" y1="665.4" x2="400" y2="695.3" stroke="#000" stroke-width="2" />
<line x1="361.2" y1="695.3" x2="343.9" y2="665.4" stroke="#000" stroke-width="2" />
<line x1="294.8" y1="664.3" x2="337.2" y2="664.3" stroke="#000" stroke-width="2" />
<line x1="273.1" y1="627" x2="293" y2="607.5" stroke="#000" stroke-width="2" />
<line x1="358.9" y1="701.6" x2="339" y2="722.5" stroke="#000" stroke-width="2" />
<line x1="176.5" y1="664.3" x2="208" y2="664.3" stroke="#000" stroke-width="2" />
<line x1="424" y1="664.3" x2="455" y2="664.3" stroke="#000" stroke-width="2" />
<text x="293.5" y="606.5" font-family="'Liberation Sans', sans-serif" font-size="27" font-weight="bold" fill="#000" text-anchor="start" textLength="48" lengthAdjust="spacingAndGlyphs" ><tspan>CF</tspan><tspan font-size="18.9" dy="7.6">3</tspan><tspan dy="-7.6"></tspan></text>
<text x="290.5" y="741.5" font-family="'Liberation Sans', sans-serif" font-size="27" font-weight="bold" fill="#000" text-anchor="start" textLength="46" lengthAdjust="spacingAndGlyphs" ><tspan>F</tspan><tspan font-size="18.9" dy="7.6">3</tspan><tspan dy="-7.6"></tspan><tspan>C</tspan></text>
<text x="124" y="673.5" font-family="'Liberation Sans', sans-serif" font-size="27" font-weight="bold" fill="#000" text-anchor="start" textLength="50" lengthAdjust="spacingAndGlyphs" ><tspan>H</tspan><tspan font-size="18.9" dy="7.6">2</tspan><tspan dy="-7.6"></tspan><tspan>N</tspan></text>
<text x="456.5" y="673.5" font-family="'Liberation Sans', sans-serif" font-size="27" font-weight="bold" fill="#000" text-anchor="start" textLength="51" lengthAdjust="spacingAndGlyphs" ><tspan>NH</tspan><tspan font-size="18.9" dy="7.6">2</tspan><tspan dy="-7.6"></tspan></text>
<ellipse cx="158.6" cy="808" rx="31" ry="15.2" fill="url(#gGold)" stroke="#3f320a" stroke-width="1.5"/>
<ellipse cx="221.7" cy="808" rx="31" ry="15.2" fill="url(#gBlue)" stroke="#4a5c84" stroke-width="1.5"/>
<ellipse cx="374.6" cy="808" rx="31" ry="15.2" fill="url(#gBlue)" stroke="#4a5c84" stroke-width="1.5"/>
<ellipse cx="438.4" cy="808" rx="31" ry="15.2" fill="url(#gGold)" stroke="#3f320a" stroke-width="1.5"/>
<polygon points="255.2,808 276.5,788.2 319.1,788.2 340.4,808 321.7,827.8 273.9,827.8" fill="#fff" stroke="#000" stroke-width="1.6" stroke-linejoin="miter" />
<polygon points="255.2,808 273.9,827.8 321.7,827.8 340.4,808 316.7,822.8 278.9,822.8" fill="#000" stroke="#000" stroke-width="1" stroke-linejoin="miter" />
<ellipse cx="297.8" cy="807.5" rx="29.8" ry="15" fill="#fff" stroke="#000" stroke-width="1.6"/>
<line x1="291.8" y1="805" x2="303.8" y2="805" stroke="#000" stroke-width="2.2" />
<line x1="297.8" y1="799" x2="297.8" y2="811" stroke="#000" stroke-width="2.2" />
<ellipse cx="158.6" cy="887" rx="31" ry="15.2" fill="url(#gGold)" stroke="#3f320a" stroke-width="1.5"/>
<ellipse cx="221.7" cy="887" rx="31" ry="15.2" fill="url(#gBlue)" stroke="#4a5c84" stroke-width="1.5"/>
<ellipse cx="374.6" cy="887" rx="31" ry="15.2" fill="url(#gBlue)" stroke="#4a5c84" stroke-width="1.5"/>
<ellipse cx="438.4" cy="887" rx="31" ry="15.2" fill="url(#gGold)" stroke="#3f320a" stroke-width="1.5"/>
<polygon points="255.2,887 276.5,867.2 319.1,867.2 340.4,887 321.7,906.8 273.9,906.8" fill="#fff" stroke="#000" stroke-width="1.6" stroke-linejoin="miter" />
<polygon points="255.2,887 273.9,906.8 321.7,906.8 340.4,887 316.7,901.8 278.9,901.8" fill="#000" stroke="#000" stroke-width="1" stroke-linejoin="miter" />
<ellipse cx="297.8" cy="886.5" rx="29.8" ry="15" fill="#fff" stroke="#000" stroke-width="1.6"/>
<line x1="293.8" y1="886" x2="301.8" y2="886" stroke="#000" stroke-width="2.6" />
<circle cx="240.6" cy="849" r="10.6" fill="#c00000" stroke="#7a0000" stroke-width="0.8"/>
<text x="239.3" y="854.9" font-family="'Liberation Sans', sans-serif" font-size="17" font-weight="bold" fill="#000" text-anchor="middle" >e</text>
<line x1="245.4" y1="844.2" x2="248.5" y2="844.2" stroke="#000" stroke-width="1.1" />
<line x1="262.8" y1="828" x2="262.8" y2="859" stroke="#c00000" stroke-width="2.2" />
<polygon points="258.3,858 267.3,858 262.8,867" fill="#c00000" stroke="none" stroke-width="0" stroke-linejoin="miter" />
<line x1="279" y1="829" x2="279" y2="864" stroke="#c00000" stroke-width="2.6" stroke-dasharray="3 3.2"/>
<line x1="297.8" y1="829" x2="297.8" y2="864" stroke="#c00000" stroke-width="2.6" stroke-dasharray="3 3.2"/>
<line x1="316" y1="829" x2="316" y2="864" stroke="#c00000" stroke-width="2.6" stroke-dasharray="3 3.2"/>
<text x="348" y="855" font-family="'Liberation Serif', serif" font-size="31.6" font-weight="bold" fill="#000" text-anchor="start" textLength="255.6" lengthAdjust="spacingAndGlyphs" >Charge interaction</text>
<polygon points="730.2,583.4 765.3,590.7 765.3,609.7 730.2,618 695,609.7 695,592.2" fill="none" stroke="#000" stroke-width="1.5" stroke-linejoin="miter" />
<line x1="733" y1="587.5" x2="755.4" y2="592.1" stroke="#000" stroke-width="1.5" />
<line x1="755.4" y1="608.5" x2="732.9" y2="613.8" stroke="#000" stroke-width="1.5" />
<line x1="699.5" y1="606.5" x2="699.5" y2="595.3" stroke="#000" stroke-width="1.5" />
<line x1="765.3" y1="590.7" x2="795" y2="588" stroke="#000" stroke-width="1.5" />
<line x1="765.3" y1="609.7" x2="795" y2="612.5" stroke="#000" stroke-width="1.5" />
<line x1="811" y1="592" x2="832.6" y2="599.5" stroke="#000" stroke-width="1.5" />
<line x1="832.6" y1="599.5" x2="812" y2="608" stroke="#000" stroke-width="1.5" />
<line x1="828" y1="603" x2="813" y2="610" stroke="#000" stroke-width="1.5" />
<text x="803.4" y="593" font-family="'Liberation Sans', sans-serif" font-size="14" font-weight="bold" fill="#000" text-anchor="middle" textLength="15.5" lengthAdjust="spacingAndGlyphs" >N</text>
<text x="803.4" y="582" font-family="'Liberation Sans', sans-serif" font-size="14" font-weight="bold" fill="#000" text-anchor="middle" textLength="15.5" lengthAdjust="spacingAndGlyphs" >H</text>
<text x="803.4" y="618.5" font-family="'Liberation Sans', sans-serif" font-size="14" font-weight="bold" fill="#000" text-anchor="middle" textLength="15.5" lengthAdjust="spacingAndGlyphs" >N</text>
<line x1="832.6" y1="599.5" x2="873.6" y2="599.5" stroke="#000" stroke-width="1.5" />
<polygon points="873.6,599.5 892.6,584.9 935,584.9 954,599.5 935,615 892.6,615" fill="none" stroke="#000" stroke-width="1.5" stroke-linejoin="miter" />
<line x1="900.2" y1="589.4" x2="927.4" y2="589.4" stroke="#000" stroke-width="1.5" />
<line x1="946.2" y1="601.2" x2="934" y2="611.1" stroke="#000" stroke-width="1.5" />
<line x1="893.6" y1="611.1" x2="881.4" y2="601.2" stroke="#000" stroke-width="1.5" />
<line x1="954" y1="599.5" x2="982" y2="599.5" stroke="#000" stroke-width="1.5" />
<text x="986" y="604" font-family="'Liberation Sans', sans-serif" font-size="12.5" font-weight="bold" fill="#000" text-anchor="start" textLength="47" lengthAdjust="spacingAndGlyphs" ><tspan>NH</tspan><tspan font-size="8.8" dy="3.5">2</tspan><tspan dy="-3.5"></tspan></text>
<line x1="674.6" y1="614" x2="695" y2="609.7" stroke="#000" stroke-width="1.5" />
<text x="622" y="622" font-family="'Liberation Sans', sans-serif" font-size="12.5" font-weight="bold" fill="#000" text-anchor="start" textLength="47" lengthAdjust="spacingAndGlyphs" ><tspan>H</tspan><tspan font-size="8.8" dy="3.5">2</tspan><tspan dy="-3.5"></tspan><tspan>N</tspan></text>
<polygon points="730.2,696 765.3,703.3 765.3,722.3 730.2,730.6 695,722.3 695,704.8" fill="none" stroke="#000" stroke-width="1.5" stroke-linejoin="miter" />
<line x1="733" y1="700.1" x2="755.4" y2="704.7" stroke="#000" stroke-width="1.5" />
<line x1="755.4" y1="721.1" x2="732.9" y2="726.4" stroke="#000" stroke-width="1.5" />
<line x1="699.5" y1="719.1" x2="699.5" y2="707.9" stroke="#000" stroke-width="1.5" />
<line x1="765.3" y1="703.3" x2="795" y2="700.6" stroke="#000" stroke-width="1.5" />
<line x1="765.3" y1="722.3" x2="795" y2="725.1" stroke="#000" stroke-width="1.5" />
<line x1="811" y1="704.6" x2="832.6" y2="712.1" stroke="#000" stroke-width="1.5" />
<line x1="832.6" y1="712.1" x2="812" y2="720.6" stroke="#000" stroke-width="1.5" />
<line x1="828" y1="715.6" x2="813" y2="722.6" stroke="#000" stroke-width="1.5" />
<text x="803.4" y="705.6" font-family="'Liberation Sans', sans-serif" font-size="14" font-weight="bold" fill="#000" text-anchor="middle" textLength="15.5" lengthAdjust="spacingAndGlyphs" >N</text>
<text x="803.4" y="694.6" font-family="'Liberation Sans', sans-serif" font-size="14" font-weight="bold" fill="#000" text-anchor="middle" textLength="15.5" lengthAdjust="spacingAndGlyphs" >H</text>
<text x="803.4" y="731.1" font-family="'Liberation Sans', sans-serif" font-size="14" font-weight="bold" fill="#000" text-anchor="middle" textLength="15.5" lengthAdjust="spacingAndGlyphs" >N</text>
<line x1="832.6" y1="712.1" x2="873.6" y2="712.1" stroke="#000" stroke-width="1.5" />
<polygon points="873.6,712.1 892.6,697.5 935,697.5 954,712.1 935,727.6 892.6,727.6" fill="none" stroke="#000" stroke-width="1.5" stroke-linejoin="miter" />
<line x1="900.2" y1="702" x2="927.4" y2="702" stroke="#000" stroke-width="1.5" />
<line x1="946.2" y1="713.8" x2="934" y2="723.7" stroke="#000" stroke-width="1.5" />
<line x1="893.6" y1="723.7" x2="881.4" y2="713.8" stroke="#000" stroke-width="1.5" />
<line x1="954" y1="712.1" x2="982" y2="712.1" stroke="#000" stroke-width="1.5" />
<text x="986" y="716.6" font-family="'Liberation Sans', sans-serif" font-size="12.5" font-weight="bold" fill="#000" text-anchor="start" textLength="47" lengthAdjust="spacingAndGlyphs" ><tspan>NH</tspan><tspan font-size="8.8" dy="3.5">2</tspan><tspan dy="-3.5"></tspan></text>
<line x1="674.6" y1="726.6" x2="695" y2="722.3" stroke="#000" stroke-width="1.5" />
<text x="622" y="734.6" font-family="'Liberation Sans', sans-serif" font-size="12.5" font-weight="bold" fill="#000" text-anchor="start" textLength="47" lengthAdjust="spacingAndGlyphs" ><tspan>H</tspan><tspan font-size="8.8" dy="3.5">2</tspan><tspan dy="-3.5"></tspan><tspan>N</tspan></text>
<text x="761" y="663.5" font-family="'Liberation Serif', serif" font-size="26.5" font-weight="bold" fill="#000" text-anchor="start" >Cu<tspan font-size="17.5" dy="-9">2+</tspan></text>
<ellipse cx="657.8" cy="800" rx="30.2" ry="15" fill="url(#gGold)" stroke="#3f320a" stroke-width="1.5"/>
<ellipse cx="719" cy="800" rx="30.2" ry="15" fill="url(#gBlue)" stroke="#4a5c84" stroke-width="1.5"/>
<ellipse cx="867" cy="800" rx="30.2" ry="15" fill="url(#gBlue)" stroke="#4a5c84" stroke-width="1.5"/>
<ellipse cx="928.4" cy="800" rx="30.2" ry="15" fill="url(#gGold)" stroke="#3f320a" stroke-width="1.5"/>
<polygon points="750.6,800 771.1,781 812.1,781 832.6,800 814.6,819 768.6,819" fill="#fff" stroke="#000" stroke-width="1.6" stroke-linejoin="miter" />
<polygon points="750.6,800 768.6,819 814.6,819 832.6,800 809.6,814 773.6,814" fill="#000" stroke="#000" stroke-width="1" stroke-linejoin="miter" />
<ellipse cx="791.6" cy="799.5" rx="28.7" ry="14.4" fill="#fff" stroke="#000" stroke-width="1.6"/>
<ellipse cx="657.8" cy="896.5" rx="30.2" ry="15" fill="url(#gGold)" stroke="#3f320a" stroke-width="1.5"/>
<ellipse cx="719" cy="896.5" rx="30.2" ry="15" fill="url(#gBlue)" stroke="#4a5c84" stroke-width="1.5"/>
<ellipse cx="867" cy="896.5" rx="30.2" ry="15" fill="url(#gBlue)" stroke="#4a5c84" stroke-width="1.5"/>
<ellipse cx="928.4" cy="896.5" rx="30.2" ry="15" fill="url(#gGold)" stroke="#3f320a" stroke-width="1.5"/>
<polygon points="750.6,896.5 771.1,877.5 812.1,877.5 832.6,896.5 814.6,915.5 768.6,915.5" fill="#fff" stroke="#000" stroke-width="1.6" stroke-linejoin="miter" />
<polygon points="750.6,896.5 768.6,915.5 814.6,915.5 832.6,896.5 809.6,910.5 773.6,910.5" fill="#000" stroke="#000" stroke-width="1" stroke-linejoin="miter" />
<ellipse cx="791.6" cy="896" rx="28.7" ry="14.4" fill="#fff" stroke="#000" stroke-width="1.6"/>
<line x1="793" y1="802" x2="793" y2="890" stroke="#c00000" stroke-width="2.6" stroke-dasharray="3 3.2"/>
<circle cx="743.4" cy="851" r="10.6" fill="#c00000" stroke="#7a0000" stroke-width="0.8"/>
<text x="742.1" y="856.9" font-family="'Liberation Sans', sans-serif" font-size="17" font-weight="bold" fill="#000" text-anchor="middle" >e</text>
<line x1="748.2" y1="846.2" x2="751.4" y2="846.2" stroke="#000" stroke-width="1.1" />
<line x1="765.3" y1="831" x2="765.3" y2="861" stroke="#c00000" stroke-width="2.2" />
<polygon points="760.8,860 769.8,860 765.3,869" fill="#c00000" stroke="none" stroke-width="0" stroke-linejoin="miter" />
<text x="779" y="854" font-family="'Liberation Serif', serif" font-size="19.5" font-weight="bold" fill="#000" text-anchor="start" >Cu<tspan font-size="12" dy="-8">2+</tspan></text>
<text x="842.8" y="855.5" font-family="'Liberation Serif', serif" font-size="31.6" font-weight="bold" fill="#000" text-anchor="start" textLength="228" lengthAdjust="spacingAndGlyphs" >Coordinate bond</text>
<polygon points="1275,655.2 1298.4,614.6 1345,614.6 1368.4,655.2 1345,695.8 1298.4,695.8" fill="none" stroke="#000" stroke-width="2.1" stroke-linejoin="miter" />
<line x1="1304" y1="620.1" x2="1339.4" y2="620.1" stroke="#000" stroke-width="2.1" />
<line x1="1360.8" y1="657.3" x2="1343.1" y2="688.2" stroke="#000" stroke-width="2.1" />
<line x1="1300.3" y1="688.2" x2="1282.6" y2="657.3" stroke="#000" stroke-width="2.1" />
<polyline points="1275,655.2 1227.8,655.2 1201,629" fill="none" stroke="#000" stroke-width="2.1"/>
<polyline points="1368.4,655.2 1416.4,655.2 1433,682" fill="none" stroke="#000" stroke-width="2.1"/>
<text x="1170" y="631" font-family="'Liberation Sans', sans-serif" font-size="25" font-weight="bold" fill="#000" text-anchor="start" >Cl</text>
<text x="1430" y="705" font-family="'Liberation Sans', sans-serif" font-size="25" font-weight="bold" fill="#000" text-anchor="start" >Cl</text>
<ellipse cx="1160" cy="807" rx="32.7" ry="15.5" fill="url(#gGold)" stroke="#3f320a" stroke-width="1.5"/>
<ellipse cx="1227" cy="807" rx="32.7" ry="15.5" fill="url(#gBlue)" stroke="#4a5c84" stroke-width="1.5"/>
<ellipse cx="1388.3" cy="807" rx="32.7" ry="15.5" fill="url(#gBlue)" stroke="#4a5c84" stroke-width="1.5"/>
<ellipse cx="1456.8" cy="807" rx="32.7" ry="15.5" fill="url(#gGold)" stroke="#3f320a" stroke-width="1.5"/>
<polygon points="1286,782 1309.3,794.8 1309.3,820.2 1286,833 1262.7,820.2 1262.7,794.8" fill="none" stroke="#000" stroke-width="1.5" stroke-linejoin="miter" />
<line x1="1288.4" y1="788.3" x2="1302.4" y2="795.9" stroke="#000" stroke-width="1.5" />
<line x1="1302.4" y1="819.1" x2="1288.4" y2="826.7" stroke="#000" stroke-width="1.5" />
<line x1="1267" y1="815.1" x2="1267" y2="799.9" stroke="#000" stroke-width="1.5" />
<line x1="1309.3" y1="794.8" x2="1325.8" y2="789.4" stroke="#000" stroke-width="1.5" />
<line x1="1309.3" y1="820.2" x2="1325.8" y2="826.6" stroke="#000" stroke-width="1.5" />
<line x1="1340.6" y1="795.8" x2="1351" y2="807.5" stroke="#000" stroke-width="1.5" />
<line x1="1351" y1="807.5" x2="1340.6" y2="820.2" stroke="#000" stroke-width="1.5" />
<line x1="1345.5" y1="808.3" x2="1338.2" y2="817.2" stroke="#000" stroke-width="1.5" />
<text x="1333.4" y="794.1" font-family="'Liberation Sans', sans-serif" font-size="16.5" font-weight="bold" fill="#000" text-anchor="middle" >N</text>
<text x="1333.4" y="833.8" font-family="'Liberation Sans', sans-serif" font-size="16.5" font-weight="bold" fill="#000" text-anchor="middle" >N</text>
<text x="1333.4" y="778.5" font-family="'Liberation Sans', sans-serif" font-size="16.5" font-weight="bold" fill="#000" text-anchor="middle" >H</text>
<ellipse cx="1160" cy="891.6" rx="32.7" ry="15.5" fill="url(#gGold)" stroke="#3f320a" stroke-width="1.5"/>
<ellipse cx="1227" cy="891.6" rx="32.7" ry="15.5" fill="url(#gBlue)" stroke="#4a5c84" stroke-width="1.5"/>
<ellipse cx="1388.3" cy="891.6" rx="32.7" ry="15.5" fill="url(#gBlue)" stroke="#4a5c84" stroke-width="1.5"/>
<ellipse cx="1456.8" cy="891.6" rx="32.7" ry="15.5" fill="url(#gGold)" stroke="#3f320a" stroke-width="1.5"/>
<polygon points="1286,866.6 1309.3,879.4 1309.3,904.9 1286,917.6 1262.7,904.9 1262.7,879.4" fill="none" stroke="#000" stroke-width="1.5" stroke-linejoin="miter" />
<line x1="1288.4" y1="872.9" x2="1302.4" y2="880.5" stroke="#000" stroke-width="1.5" />
<line x1="1302.4" y1="903.7" x2="1288.4" y2="911.3" stroke="#000" stroke-width="1.5" />
<line x1="1267" y1="899.8" x2="1267" y2="884.5" stroke="#000" stroke-width="1.5" />
<line x1="1309.3" y1="879.4" x2="1325.8" y2="874" stroke="#000" stroke-width="1.5" />
<line x1="1309.3" y1="904.9" x2="1325.8" y2="911.2" stroke="#000" stroke-width="1.5" />
<line x1="1340.6" y1="880.4" x2="1351" y2="892.1" stroke="#000" stroke-width="1.5" />
<line x1="1351" y1="892.1" x2="1340.6" y2="904.9" stroke="#000" stroke-width="1.5" />
<line x1="1345.5" y1="892.9" x2="1338.2" y2="901.8" stroke="#000" stroke-width="1.5" />
<text x="1333.4" y="878.7" font-family="'Liberation Sans', sans-serif" font-size="16.5" font-weight="bold" fill="#000" text-anchor="middle" >N</text>
<text x="1333.4" y="918.4" font-family="'Liberation Sans', sans-serif" font-size="16.5" font-weight="bold" fill="#000" text-anchor="middle" >N</text>
<text x="1333.4" y="863.1" font-family="'Liberation Sans', sans-serif" font-size="16.5" font-weight="bold" fill="#000" text-anchor="middle" >H</text>
<line x1="1284.7" y1="834" x2="1284.7" y2="866" stroke="#c00000" stroke-width="3" />
<circle cx="1236" cy="852.7" r="10.6" fill="#c00000" stroke="#7a0000" stroke-width="0.8"/>
<text x="1234.7" y="858.6" font-family="'Liberation Sans', sans-serif" font-size="17" font-weight="bold" fill="#000" text-anchor="middle" >e</text>
<line x1="1240.8" y1="847.9" x2="1244" y2="847.9" stroke="#000" stroke-width="1.1" />
<line x1="1258.8" y1="831" x2="1258.8" y2="865.4" stroke="#c00000" stroke-width="2.2" />
<polygon points="1254.3,864.4 1263.3,864.4 1258.8,873.4" fill="#c00000" stroke="none" stroke-width="0" stroke-linejoin="miter" />
<text x="1364.7" y="856.7" font-family="'Liberation Serif', serif" font-size="31.6" font-weight="bold" fill="#000" text-anchor="start" textLength="198" lengthAdjust="spacingAndGlyphs" >Covalent bond</text>
<polyline points="142.8,1087.3 137.6,1087.3 137.6,1192.6 142.8,1192.6" fill="none" stroke="#000" stroke-width="2.6"/>
<line x1="123.5" y1="1112.7" x2="152.5" y2="1112.7" stroke="#000" stroke-width="3.1" />
<text x="164.8" y="1119.8" font-family="'Liberation Serif', serif" font-size="21" font-weight="bold" fill="#000" text-anchor="middle" >N</text>
<text x="164.8" y="1138.2" font-family="'Liberation Serif', serif" font-size="21" font-weight="bold" fill="#000" text-anchor="middle" >H</text>
<line x1="177.9" y1="1111.9" x2="201.6" y2="1109.2" stroke="#000" stroke-width="3.1" />
<polygon points="229.7,1092.6 258.7,1108.4 258.7,1142.6 229.7,1159.3 201.6,1142.6 201.6,1108.4" fill="none" stroke="#000" stroke-width="3.1" stroke-linejoin="miter" />
<line x1="252.5" y1="1114.6" x2="252.5" y2="1136.5" stroke="#000" stroke-width="3.1" />
<line x1="227.7" y1="1150.9" x2="209.7" y2="1140.2" stroke="#000" stroke-width="3.1" />
<line x1="209.7" y1="1110.9" x2="227.7" y2="1100.8" stroke="#000" stroke-width="3.1" />
<line x1="258.7" y1="1108.4" x2="278.8" y2="1102.2" stroke="#000" stroke-width="3.1" />
<line x1="258.7" y1="1142.6" x2="276.2" y2="1147" stroke="#000" stroke-width="3.1" />
<text x="289" y="1106.6" font-family="'Liberation Serif', serif" font-size="21" font-weight="bold" fill="#000" text-anchor="middle" >N</text>
<text x="289" y="1157.5" font-family="'Liberation Serif', serif" font-size="21" font-weight="bold" fill="#000" text-anchor="middle" >N</text>
<text x="289" y="1176.8" font-family="'Liberation Serif', serif" font-size="21" font-weight="bold" fill="#000" text-anchor="middle" >H</text>
<line x1="295.5" y1="1110" x2="308.7" y2="1126" stroke="#000" stroke-width="3.1" />
<line x1="308.7" y1="1126" x2="297.3" y2="1141.7" stroke="#000" stroke-width="3.1" />
<line x1="289.5" y1="1115.5" x2="299.5" y2="1127.5" stroke="#000" stroke-width="3.1" />
<line x1="308.7" y1="1125.5" x2="327.1" y2="1125.5" stroke="#000" stroke-width="3.1" />
<polygon points="327.1,1125.5 343.6,1097 376.4,1097 392.9,1125.5 376.4,1154 343.6,1154" fill="none" stroke="#000" stroke-width="3.1" stroke-linejoin="miter" />
<line x1="349.5" y1="1103.2" x2="370.5" y2="1103.2" stroke="#000" stroke-width="3.1" />
<line x1="384.6" y1="1127.5" x2="374" y2="1145.8" stroke="#000" stroke-width="3.1" />
<line x1="346" y1="1145.8" x2="335.4" y2="1127.5" stroke="#000" stroke-width="3.1" />
<line x1="392.9" y1="1125.8" x2="413" y2="1125.8" stroke="#000" stroke-width="3.1" />
<text x="424.6" y="1133.2" font-family="'Liberation Serif', serif" font-size="21" font-weight="bold" fill="#000" text-anchor="middle" >N</text>
<text x="424.6" y="1114.8" font-family="'Liberation Serif', serif" font-size="21" font-weight="bold" fill="#000" text-anchor="middle" >H</text>
<line x1="437.4" y1="1125.8" x2="453.2" y2="1125.8" stroke="#000" stroke-width="3.1" />
<text x="463.7" y="1134" font-family="'Liberation Serif', serif" font-size="21" font-weight="bold" fill="#000" text-anchor="middle" >C</text>
<text x="463.7" y="1171.8" font-family="'Liberation Serif', serif" font-size="21" font-weight="bold" fill="#000" text-anchor="middle" >O</text>
<line x1="460.2" y1="1138.5" x2="460.2" y2="1153.4" stroke="#000" stroke-width="2.6" />
<line x1="467.2" y1="1138.5" x2="467.2" y2="1153.4" stroke="#000" stroke-width="2.6" />
<line x1="474.3" y1="1126.5" x2="495.3" y2="1126.5" stroke="#000" stroke-width="3.1" />
<polygon points="495.1,1126.5 511.4,1097.1 544,1097.1 560.3,1126.5 544,1155.9 511.4,1155.9" fill="none" stroke="#000" stroke-width="3.1" stroke-linejoin="miter" />
<line x1="517.3" y1="1103.3" x2="538.1" y2="1103.3" stroke="#000" stroke-width="3.1" />
<line x1="552.1" y1="1128.6" x2="541.6" y2="1147.4" stroke="#000" stroke-width="3.1" />
<line x1="513.8" y1="1147.4" x2="503.3" y2="1128.6" stroke="#000" stroke-width="3.1" />
<line x1="560.2" y1="1126.5" x2="584" y2="1126.5" stroke="#000" stroke-width="3.1" />
<text x="594.5" y="1135" font-family="'Liberation Serif', serif" font-size="21" font-weight="bold" fill="#000" text-anchor="middle" >C</text>
<text x="594.5" y="1171.8" font-family="'Liberation Serif', serif" font-size="21" font-weight="bold" fill="#000" text-anchor="middle" >O</text>
<line x1="591" y1="1139.5" x2="591" y2="1154" stroke="#000" stroke-width="2.6" />
<line x1="598" y1="1139.5" x2="598" y2="1154" stroke="#000" stroke-width="2.6" />
<line x1="605.9" y1="1128" x2="623.4" y2="1128" stroke="#000" stroke-width="3.1" />
<polyline points="610.3,1080.5 617.3,1080.5 617.3,1186.7 610.3,1186.7" fill="none" stroke="#000" stroke-width="2.6"/>
<text x="622.6" y="1188.5" font-family="'Liberation Serif', serif" font-size="22" font-weight="bold" fill="#000" text-anchor="start" >n</text>
<polyline points="155.1,1281 149.9,1281 149.9,1386.3 155.1,1386.3" fill="none" stroke="#ee8420" stroke-width="2.6"/>
<line x1="135.8" y1="1306.4" x2="164.8" y2="1306.4" stroke="#ee8420" stroke-width="3.1" />
<text x="177.1" y="1313.5" font-family="'Liberation Serif', serif" font-size="21" font-weight="bold" fill="#ee8420" text-anchor="middle" >N</text>
<text x="177.1" y="1331.9" font-family="'Liberation Serif', serif" font-size="21" font-weight="bold" fill="#ee8420" text-anchor="middle" >H</text>
<line x1="190.2" y1="1305.6" x2="213.9" y2="1302.9" stroke="#ee8420" stroke-width="3.1" />
<polygon points="242,1286.3 271,1302.1 271,1336.3 242,1353 213.9,1336.3 213.9,1302.1" fill="none" stroke="#ee8420" stroke-width="3.1" stroke-linejoin="miter" />
<line x1="264.8" y1="1308.3" x2="264.8" y2="1330.2" stroke="#ee8420" stroke-width="3.1" />
<line x1="240" y1="1344.6" x2="222" y2="1333.9" stroke="#ee8420" stroke-width="3.1" />
<line x1="222" y1="1304.6" x2="240" y2="1294.5" stroke="#ee8420" stroke-width="3.1" />
<line x1="271" y1="1302.1" x2="291.1" y2="1295.9" stroke="#ee8420" stroke-width="3.1" />
<line x1="271" y1="1336.3" x2="288.5" y2="1340.7" stroke="#ee8420" stroke-width="3.1" />
<text x="301.3" y="1300.3" font-family="'Liberation Serif', serif" font-size="21" font-weight="bold" fill="#ee8420" text-anchor="middle" >N</text>
<text x="301.3" y="1351.2" font-family="'Liberation Serif', serif" font-size="21" font-weight="bold" fill="#ee8420" text-anchor="middle" >N</text>
<text x="301.3" y="1370.5" font-family="'Liberation Serif', serif" font-size="21" font-weight="bold" fill="#ee8420" text-anchor="middle" >H</text>
<line x1="307.8" y1="1303.7" x2="321" y2="1319.7" stroke="#ee8420" stroke-width="3.1" />
<line x1="321" y1="1319.7" x2="309.6" y2="1335.4" stroke="#ee8420" stroke-width="3.1" />
<line x1="301.8" y1="1309.2" x2="311.8" y2="1321.2" stroke="#ee8420" stroke-width="3.1" />
<line x1="321" y1="1319.2" x2="339.4" y2="1319.2" stroke="#ee8420" stroke-width="3.1" />
<polygon points="339.4,1319.2 355.9,1290.7 388.8,1290.7 405.2,1319.2 388.8,1347.7 355.9,1347.7" fill="none" stroke="#ee8420" stroke-width="3.1" stroke-linejoin="miter" />
<line x1="361.8" y1="1296.9" x2="382.8" y2="1296.9" stroke="#ee8420" stroke-width="3.1" />
<line x1="396.9" y1="1321.2" x2="386.3" y2="1339.5" stroke="#ee8420" stroke-width="3.1" />
<line x1="358.3" y1="1339.5" x2="347.7" y2="1321.2" stroke="#ee8420" stroke-width="3.1" />
<line x1="405.2" y1="1319.5" x2="425.3" y2="1319.5" stroke="#ee8420" stroke-width="3.1" />
<text x="436.9" y="1326.9" font-family="'Liberation Serif', serif" font-size="21" font-weight="bold" fill="#ee8420" text-anchor="middle" >N</text>
<text x="436.9" y="1308.5" font-family="'Liberation Serif', serif" font-size="21" font-weight="bold" fill="#ee8420" text-anchor="middle" >H</text>
<line x1="449.7" y1="1319.5" x2="465.5" y2="1319.5" stroke="#ee8420" stroke-width="3.1" />
<text x="476" y="1327.7" font-family="'Liberation Serif', serif" font-size="21" font-weight="bold" fill="#ee8420" text-anchor="middle" >C</text>
<text x="476" y="1365.5" font-family="'Liberation Serif', serif" font-size="21" font-weight="bold" fill="#ee8420" text-anchor="middle" >O</text>
<line x1="472.5" y1="1332.2" x2="472.5" y2="1347.1" stroke="#ee8420" stroke-width="2.6" />
<line x1="479.5" y1="1332.2" x2="479.5" y2="1347.1" stroke="#ee8420" stroke-width="2.6" />
<line x1="486.6" y1="1320.2" x2="507.6" y2="1320.2" stroke="#ee8420" stroke-width="3.1" />
<polygon points="507.4,1320.2 523.7,1290.8 556.3,1290.8 572.6,1320.2 556.3,1349.6 523.7,1349.6" fill="none" stroke="#ee8420" stroke-width="3.1" stroke-linejoin="miter" />
<line x1="529.6" y1="1297" x2="550.4" y2="1297" stroke="#ee8420" stroke-width="3.1" />
<line x1="564.4" y1="1322.3" x2="553.9" y2="1341.1" stroke="#ee8420" stroke-width="3.1" />
<line x1="526.1" y1="1341.1" x2="515.6" y2="1322.3" stroke="#ee8420" stroke-width="3.1" />
<line x1="572.5" y1="1320.2" x2="596.3" y2="1320.2" stroke="#ee8420" stroke-width="3.1" />
<text x="606.8" y="1328.7" font-family="'Liberation Serif', serif" font-size="21" font-weight="bold" fill="#ee8420" text-anchor="middle" >C</text>
<text x="606.8" y="1365.5" font-family="'Liberation Serif', serif" font-size="21" font-weight="bold" fill="#ee8420" text-anchor="middle" >O</text>
<line x1="603.3" y1="1333.2" x2="603.3" y2="1347.7" stroke="#ee8420" stroke-width="2.6" />
<line x1="610.3" y1="1333.2" x2="610.3" y2="1347.7" stroke="#ee8420" stroke-width="2.6" />
<line x1="618.2" y1="1321.7" x2="635.7" y2="1321.7" stroke="#ee8420" stroke-width="3.1" />
<polyline points="622.6,1274.2 629.6,1274.2 629.6,1380.4 622.6,1380.4" fill="none" stroke="#ee8420" stroke-width="2.6"/>
<text x="634.9" y="1382.2" font-family="'Liberation Serif', serif" font-size="22" font-weight="bold" fill="#ee8420" text-anchor="start" >n</text>
<polyline points="152.8,1500.3 147.6,1500.3 147.6,1605.6 152.8,1605.6" fill="none" stroke="#e8141c" stroke-width="2.6"/>
<line x1="133.5" y1="1525.7" x2="162.5" y2="1525.7" stroke="#e8141c" stroke-width="3.1" />
<text x="174.8" y="1532.8" font-family="'Liberation Serif', serif" font-size="21" font-weight="bold" fill="#e8141c" text-anchor="middle" >N</text>
<text x="174.8" y="1551.2" font-family="'Liberation Serif', serif" font-size="21" font-weight="bold" fill="#e8141c" text-anchor="middle" >H</text>
<line x1="187.9" y1="1524.9" x2="211.6" y2="1522.2" stroke="#e8141c" stroke-width="3.1" />
<polygon points="239.7,1505.6 268.7,1521.4 268.7,1555.6 239.7,1572.3 211.6,1555.6 211.6,1521.4" fill="none" stroke="#e8141c" stroke-width="3.1" stroke-linejoin="miter" />
<line x1="262.5" y1="1527.6" x2="262.5" y2="1549.5" stroke="#e8141c" stroke-width="3.1" />
<line x1="237.7" y1="1563.9" x2="219.7" y2="1553.2" stroke="#e8141c" stroke-width="3.1" />
<line x1="219.7" y1="1523.9" x2="237.7" y2="1513.8" stroke="#e8141c" stroke-width="3.1" />
<line x1="268.7" y1="1521.4" x2="288.8" y2="1515.2" stroke="#e8141c" stroke-width="3.1" />
<line x1="268.7" y1="1555.6" x2="286.2" y2="1560" stroke="#e8141c" stroke-width="3.1" />
<text x="299" y="1519.6" font-family="'Liberation Serif', serif" font-size="21" font-weight="bold" fill="#e8141c" text-anchor="middle" >N</text>
<text x="299" y="1570.5" font-family="'Liberation Serif', serif" font-size="21" font-weight="bold" fill="#e8141c" text-anchor="middle" >N</text>
<text x="299" y="1589.8" font-family="'Liberation Serif', serif" font-size="21" font-weight="bold" fill="#e8141c" text-anchor="middle" >H</text>
<line x1="305.5" y1="1523" x2="318.7" y2="1539" stroke="#e8141c" stroke-width="3.1" />
<line x1="318.7" y1="1539" x2="307.3" y2="1554.7" stroke="#e8141c" stroke-width="3.1" />
<line x1="299.5" y1="1528.5" x2="309.5" y2="1540.5" stroke="#e8141c" stroke-width="3.1" />
<line x1="318.7" y1="1538.5" x2="337.1" y2="1538.5" stroke="#e8141c" stroke-width="3.1" />
<polygon points="337.1,1538.5 353.6,1510 386.4,1510 402.9,1538.5 386.4,1567 353.6,1567" fill="none" stroke="#e8141c" stroke-width="3.1" stroke-linejoin="miter" />
<line x1="359.5" y1="1516.2" x2="380.5" y2="1516.2" stroke="#e8141c" stroke-width="3.1" />
<line x1="394.6" y1="1540.5" x2="384" y2="1558.8" stroke="#e8141c" stroke-width="3.1" />
<line x1="356" y1="1558.8" x2="345.4" y2="1540.5" stroke="#e8141c" stroke-width="3.1" />
<line x1="402.9" y1="1538.8" x2="423" y2="1538.8" stroke="#e8141c" stroke-width="3.1" />
<text x="434.6" y="1546.2" font-family="'Liberation Serif', serif" font-size="21" font-weight="bold" fill="#e8141c" text-anchor="middle" >N</text>
<text x="434.6" y="1527.8" font-family="'Liberation Serif', serif" font-size="21" font-weight="bold" fill="#e8141c" text-anchor="middle" >H</text>
<line x1="447.4" y1="1538.8" x2="463.2" y2="1538.8" stroke="#e8141c" stroke-width="3.1" />
<text x="473.7" y="1547" font-family="'Liberation Serif', serif" font-size="21" font-weight="bold" fill="#e8141c" text-anchor="middle" >C</text>
<text x="473.7" y="1584.8" font-family="'Liberation Serif', serif" font-size="21" font-weight="bold" fill="#e8141c" text-anchor="middle" >O</text>
<line x1="470.2" y1="1551.5" x2="470.2" y2="1566.4" stroke="#e8141c" stroke-width="2.6" />
<line x1="477.2" y1="1551.5" x2="477.2" y2="1566.4" stroke="#e8141c" stroke-width="2.6" />
<line x1="484.3" y1="1539.5" x2="505.3" y2="1539.5" stroke="#e8141c" stroke-width="3.1" />
<polygon points="505.1,1539.5 521.4,1510.1 554,1510.1 570.3,1539.5 554,1568.9 521.4,1568.9" fill="none" stroke="#e8141c" stroke-width="3.1" stroke-linejoin="miter" />
<line x1="527.3" y1="1516.3" x2="548.1" y2="1516.3" stroke="#e8141c" stroke-width="3.1" />
<line x1="562.1" y1="1541.6" x2="551.6" y2="1560.4" stroke="#e8141c" stroke-width="3.1" />
<line x1="523.8" y1="1560.4" x2="513.3" y2="1541.6" stroke="#e8141c" stroke-width="3.1" />
<line x1="570.2" y1="1539.5" x2="594" y2="1539.5" stroke="#e8141c" stroke-width="3.1" />
<text x="604.5" y="1548" font-family="'Liberation Serif', serif" font-size="21" font-weight="bold" fill="#e8141c" text-anchor="middle" >C</text>
<text x="604.5" y="1584.8" font-family="'Liberation Serif', serif" font-size="21" font-weight="bold" fill="#e8141c" text-anchor="middle" >O</text>
<line x1="601" y1="1552.5" x2="601" y2="1567" stroke="#e8141c" stroke-width="2.6" />
<line x1="608" y1="1552.5" x2="608" y2="1567" stroke="#e8141c" stroke-width="2.6" />
<line x1="615.9" y1="1541" x2="633.4" y2="1541" stroke="#e8141c" stroke-width="3.1" />
<polyline points="620.3,1493.5 627.3,1493.5 627.3,1599.7 620.3,1599.7" fill="none" stroke="#e8141c" stroke-width="2.6"/>
<text x="632.6" y="1601.5" font-family="'Liberation Serif', serif" font-size="22" font-weight="bold" fill="#e8141c" text-anchor="start" >n</text>
<text x="98" y="1008" font-family="'Liberation Serif', serif" font-size="32" font-weight="bold" fill="#b81010" text-anchor="start" textLength="559" lengthAdjust="spacingAndGlyphs" >Lewis acid complexation/decomplexation</text>
<text x="170" y="1045" font-family="'Liberation Serif', serif" font-size="32" font-weight="bold" fill="#b81010" text-anchor="start" textLength="414" lengthAdjust="spacingAndGlyphs" >regulating chain conformation</text>
<text x="971" y="1015" font-family="'Liberation Serif', serif" font-size="32" font-weight="bold" fill="#b81010" text-anchor="start" textLength="626" lengthAdjust="spacingAndGlyphs" >Liquid crystal elementary monomer structure</text>
<rect x="354" y="1169" width="10.7" height="66" fill="url(#gArrowV)"/>
<polygon points="346.4,1234.5 372.3,1234.5 359.2,1271.8" fill="#878787" stroke="none" stroke-width="0" stroke-linejoin="miter" />
<rect x="354" y="1384" width="10.7" height="59" fill="url(#gArrowV)"/>
<polygon points="346.4,1442 372.3,1442 359.2,1481" fill="#878787" stroke="none" stroke-width="0" stroke-linejoin="miter" />
<text x="381.4" y="1227" font-family="'Liberation Serif', serif" font-size="27.6" font-weight="bold" fill="#8a0fd0" text-anchor="start" textLength="48" lengthAdjust="spacingAndGlyphs" >HCl</text>
<text x="292.6" y="1275.6" font-family="'Liberation Serif', serif" font-size="22" font-weight="bold" fill="#7a12e8" text-anchor="start" textLength="40" lengthAdjust="spacingAndGlyphs" >HCl</text>
<text x="394" y="1423.5" font-family="'Liberation Serif', serif" font-size="28" font-weight="bold" fill="#e01018" text-anchor="start" textLength="123" lengthAdjust="spacingAndGlyphs" >Annealing</text>
<text x="743.3" y="1328.7" font-family="'Liberation Serif', serif" font-size="28" font-weight="bold" fill="#e01018" text-anchor="start" textLength="122.7" lengthAdjust="spacingAndGlyphs" >Annealing</text>
<text x="743.3" y="1361" font-family="'Liberation Serif', serif" font-size="28" font-weight="bold" fill="#e01018" text-anchor="start" textLength="117" lengthAdjust="spacingAndGlyphs" >treatment</text>
<path d="M633,1145 C 700,1215 728,1290 717,1360 C 708,1425 680,1480 636,1532" fill="none" stroke="#7f90a6" stroke-width="4.5" stroke-dasharray="20 14"/>
<polygon points="627.3,1540.5 628,1520 647.5,1531" fill="#7f90a6" stroke="none" stroke-width="0" stroke-linejoin="miter" />
<text x="99" y="1641.5" font-family="'Liberation Serif', serif" font-size="32" font-weight="bold" fill="#000" text-anchor="start" textLength="338.5" lengthAdjust="spacingAndGlyphs" >Same chemical structure</text>
<text x="456" y="1641.7" font-family="'Liberation Sans', sans-serif" font-size="27" font-weight="bold" fill="#a054f0" text-anchor="start" textLength="382" lengthAdjust="spacingAndGlyphs" >Different chain conformation</text>
<polygon points="401.5,1670 476,1670 476,1692.7 513,1692.7 438.5,1716 365.5,1692.7 401.5,1692.7" fill="#878787" stroke="none" stroke-width="0" stroke-linejoin="miter" />
<polygon points="1229.6,1674 1304.5,1674 1304.5,1696.6 1342,1696.6 1267,1720 1192,1696.6 1229.6,1696.6" fill="#878787" stroke="none" stroke-width="0" stroke-linejoin="miter" />
<text x="977" y="1388.5" font-family="'Liberation Sans', sans-serif" font-size="22.5" font-weight="bold" fill="#000" text-anchor="start" textLength="43" lengthAdjust="spacingAndGlyphs" ><tspan>H</tspan><tspan font-size="15.7" dy="6.3">2</tspan><tspan dy="-6.3"></tspan><tspan>N</tspan></text>
<line x1="1021.8" y1="1379.9" x2="1049.9" y2="1379.9" stroke="#000" stroke-width="1.6" />
<polygon points="1049.9,1379.9 1068.2,1348.1 1104.7,1348.1 1122.9,1379.9 1104.7,1411.7 1068.2,1411.7" fill="none" stroke="#000" stroke-width="1.6" stroke-linejoin="miter" />
<line x1="1071.1" y1="1352.4" x2="1101.7" y2="1352.4" stroke="#000" stroke-width="1.6" />
<line x1="1117.7" y1="1380.3" x2="1102.4" y2="1407" stroke="#000" stroke-width="1.6" />
<line x1="1070.4" y1="1407" x2="1055.1" y2="1380.3" stroke="#000" stroke-width="1.6" />
<line x1="1122.9" y1="1379.9" x2="1150" y2="1379.9" stroke="#000" stroke-width="1.6" />
<text x="1159.5" y="1388.8" font-family="'Liberation Sans', sans-serif" font-size="25" font-weight="bold" fill="#000" text-anchor="middle" >O</text>
<line x1="1169.5" y1="1379.9" x2="1233.4" y2="1379.9" stroke="#000" stroke-width="1.6" />
<line x1="1193" y1="1379.9" x2="1193" y2="1355" stroke="#000" stroke-width="1.6" />
<line x1="1199" y1="1379.9" x2="1199" y2="1355" stroke="#000" stroke-width="1.6" />
<text x="1196" y="1350.7" font-family="'Liberation Sans', sans-serif" font-size="25" font-weight="bold" fill="#000" text-anchor="middle" >O</text>
<polygon points="1233.4,1379.9 1251.7,1348.1 1288.3,1348.1 1306.6,1379.9 1288.3,1411.7 1251.7,1411.7" fill="none" stroke="#000" stroke-width="1.6" stroke-linejoin="miter" />
<line x1="1254.6" y1="1352.4" x2="1285.4" y2="1352.4" stroke="#000" stroke-width="1.6" />
<line x1="1301.4" y1="1380.3" x2="1286" y2="1407" stroke="#000" stroke-width="1.6" />
<line x1="1254" y1="1407" x2="1238.6" y2="1380.3" stroke="#000" stroke-width="1.6" />
<line x1="1251.7" y1="1348.1" x2="1238.2" y2="1324.7" stroke="#000" stroke-width="1.6" />
<text x="1235.7" y="1325" font-family="'Liberation Sans', sans-serif" font-size="25" font-weight="bold" fill="#000" text-anchor="middle" >F</text>
<line x1="1288.3" y1="1348.1" x2="1301.8" y2="1324.7" stroke="#000" stroke-width="1.6" />
<text x="1304.3" y="1325" font-family="'Liberation Sans', sans-serif" font-size="25" font-weight="bold" fill="#000" text-anchor="middle" >F</text>
<line x1="1251.7" y1="1411.7" x2="1238.2" y2="1435.1" stroke="#000" stroke-width="1.6" />
<text x="1235.7" y="1452" font-family="'Liberation Sans', sans-serif" font-size="25" font-weight="bold" fill="#000" text-anchor="middle" >F</text>
<line x1="1288.3" y1="1411.7" x2="1301.8" y2="1435.1" stroke="#000" stroke-width="1.6" />
<text x="1304.3" y="1452" font-family="'Liberation Sans', sans-serif" font-size="25" font-weight="bold" fill="#000" text-anchor="middle" >F</text>
<line x1="1306.4" y1="1379.9" x2="1370" y2="1379.9" stroke="#000" stroke-width="1.6" />
<line x1="1340.9" y1="1379.9" x2="1340.9" y2="1355" stroke="#000" stroke-width="1.6" />
<line x1="1346.9" y1="1379.9" x2="1346.9" y2="1355" stroke="#000" stroke-width="1.6" />
<text x="1343.9" y="1350.7" font-family="'Liberation Sans', sans-serif" font-size="25" font-weight="bold" fill="#000" text-anchor="middle" >O</text>
<text x="1380.4" y="1388.8" font-family="'Liberation Sans', sans-serif" font-size="25" font-weight="bold" fill="#000" text-anchor="middle" >O</text>
<line x1="1390.5" y1="1379.9" x2="1416.9" y2="1379.9" stroke="#000" stroke-width="1.6" />
<polygon points="1416.9,1379.9 1435.2,1348.1 1471.7,1348.1 1489.9,1379.9 1471.7,1411.7 1435.2,1411.7" fill="none" stroke="#000" stroke-width="1.6" stroke-linejoin="miter" />
<line x1="1438.1" y1="1352.4" x2="1468.7" y2="1352.4" stroke="#000" stroke-width="1.6" />
<line x1="1484.7" y1="1380.3" x2="1469.4" y2="1407" stroke="#000" stroke-width="1.6" />
<line x1="1437.4" y1="1407" x2="1422.1" y2="1380.3" stroke="#000" stroke-width="1.6" />
<line x1="1489.9" y1="1379.9" x2="1518" y2="1379.9" stroke="#000" stroke-width="1.6" />
<text x="1520" y="1388.5" font-family="'Liberation Sans', sans-serif" font-size="22.5" font-weight="bold" fill="#000" text-anchor="start" textLength="44" lengthAdjust="spacingAndGlyphs" ><tspan>NH</tspan><tspan font-size="15.7" dy="6.3">2</tspan><tspan dy="-6.3"></tspan></text>
<text x="977" y="1586.5" font-family="'Liberation Sans', sans-serif" font-size="22.5" font-weight="bold" fill="#000" text-anchor="start" textLength="48" lengthAdjust="spacingAndGlyphs" ><tspan>H</tspan><tspan font-size="15.7" dy="6.3">2</tspan><tspan dy="-6.3"></tspan><tspan>N</tspan></text>
<line x1="1027.4" y1="1577.9" x2="1048" y2="1577.9" stroke="#000" stroke-width="1.6" />
<polygon points="1048,1577.9 1063,1551.9 1093,1551.9 1108,1577.9 1093,1603.9 1063,1603.9" fill="none" stroke="#000" stroke-width="1.6" stroke-linejoin="miter" />
<line x1="1065.4" y1="1555.7" x2="1090.6" y2="1555.7" stroke="#000" stroke-width="1.6" />
<line x1="1103.5" y1="1578.1" x2="1090.9" y2="1599.9" stroke="#000" stroke-width="1.6" />
<line x1="1065.1" y1="1599.9" x2="1052.5" y2="1578.1" stroke="#000" stroke-width="1.6" />
<line x1="1108" y1="1577.9" x2="1127" y2="1577.9" stroke="#000" stroke-width="1.6" />
<text x="1137.8" y="1586.8" font-family="'Liberation Sans', sans-serif" font-size="25" font-weight="bold" fill="#000" text-anchor="middle" >O</text>
<line x1="1148.5" y1="1577.9" x2="1196" y2="1577.9" stroke="#000" stroke-width="1.6" />
<line x1="1164.8" y1="1577.9" x2="1164.8" y2="1559" stroke="#000" stroke-width="1.6" />
<line x1="1170.8" y1="1577.9" x2="1170.8" y2="1559" stroke="#000" stroke-width="1.6" />
<text x="1167.8" y="1555.4" font-family="'Liberation Sans', sans-serif" font-size="25" font-weight="bold" fill="#000" text-anchor="middle" >O</text>
<polygon points="1196,1577.9 1211,1551.6 1241,1551.6 1256,1577.9 1241,1604.2 1211,1604.2" fill="none" stroke="#000" stroke-width="1.6" stroke-linejoin="miter" />
<line x1="1213.4" y1="1555.4" x2="1238.6" y2="1555.4" stroke="#000" stroke-width="1.6" />
<line x1="1251.5" y1="1578.1" x2="1238.9" y2="1600.2" stroke="#000" stroke-width="1.6" />
<line x1="1213.1" y1="1600.2" x2="1200.5" y2="1578.1" stroke="#000" stroke-width="1.6" />
<polygon points="1284,1577.9 1299,1551.6 1329,1551.6 1344,1577.9 1329,1604.2 1299,1604.2" fill="none" stroke="#000" stroke-width="1.6" stroke-linejoin="miter" />
<line x1="1301.4" y1="1555.4" x2="1326.6" y2="1555.4" stroke="#000" stroke-width="1.6" />
<line x1="1339.5" y1="1578.1" x2="1326.9" y2="1600.2" stroke="#000" stroke-width="1.6" />
<line x1="1301.1" y1="1600.2" x2="1288.5" y2="1578.1" stroke="#000" stroke-width="1.6" />
<line x1="1256" y1="1577.9" x2="1284" y2="1577.9" stroke="#000" stroke-width="1.6" />
<line x1="1211" y1="1551.6" x2="1199.1" y2="1530.8" stroke="#000" stroke-width="1.6" />
<text x="1196.6" y="1534.7" font-family="'Liberation Sans', sans-serif" font-size="27" font-weight="bold" fill="#000" text-anchor="middle" >F</text>
<line x1="1241" y1="1551.6" x2="1252.9" y2="1530.8" stroke="#000" stroke-width="1.6" />
<text x="1255.4" y="1534.7" font-family="'Liberation Sans', sans-serif" font-size="27" font-weight="bold" fill="#000" text-anchor="middle" >F</text>
<line x1="1211" y1="1604.2" x2="1199.1" y2="1625" stroke="#000" stroke-width="1.6" />
<text x="1196.6" y="1638.5" font-family="'Liberation Sans', sans-serif" font-size="27" font-weight="bold" fill="#000" text-anchor="middle" >F</text>
<line x1="1241" y1="1604.2" x2="1252.9" y2="1625" stroke="#000" stroke-width="1.6" />
<text x="1255.4" y="1638.5" font-family="'Liberation Sans', sans-serif" font-size="27" font-weight="bold" fill="#000" text-anchor="middle" >F</text>
<line x1="1299" y1="1551.6" x2="1287.1" y2="1530.8" stroke="#000" stroke-width="1.6" />
<text x="1284.6" y="1534.7" font-family="'Liberation Sans', sans-serif" font-size="27" font-weight="bold" fill="#000" text-anchor="middle" >F</text>
<line x1="1329" y1="1551.6" x2="1340.9" y2="1530.8" stroke="#000" stroke-width="1.6" />
<text x="1343.4" y="1534.7" font-family="'Liberation Sans', sans-serif" font-size="27" font-weight="bold" fill="#000" text-anchor="middle" >F</text>
<line x1="1299" y1="1604.2" x2="1287.1" y2="1625" stroke="#000" stroke-width="1.6" />
<text x="1284.6" y="1638.5" font-family="'Liberation Sans', sans-serif" font-size="27" font-weight="bold" fill="#000" text-anchor="middle" >F</text>
<line x1="1329" y1="1604.2" x2="1340.9" y2="1625" stroke="#000" stroke-width="1.6" />
<text x="1343.4" y="1638.5" font-family="'Liberation Sans', sans-serif" font-size="27" font-weight="bold" fill="#000" text-anchor="middle" >F</text>
<line x1="1343.9" y1="1577.9" x2="1392.5" y2="1577.9" stroke="#000" stroke-width="1.6" />
<line x1="1370.8" y1="1577.9" x2="1370.8" y2="1559" stroke="#000" stroke-width="1.6" />
<line x1="1376.8" y1="1577.9" x2="1376.8" y2="1559" stroke="#000" stroke-width="1.6" />
<text x="1373.8" y="1555.4" font-family="'Liberation Sans', sans-serif" font-size="25" font-weight="bold" fill="#000" text-anchor="middle" >O</text>
<text x="1403.7" y="1586.8" font-family="'Liberation Sans', sans-serif" font-size="25" font-weight="bold" fill="#000" text-anchor="middle" >O</text>
<line x1="1414.5" y1="1577.9" x2="1435.6" y2="1577.9" stroke="#000" stroke-width="1.6" />
<polygon points="1435.6,1577.9 1450.6,1551.9 1480.6,1551.9 1495.6,1577.9 1480.6,1603.9 1450.6,1603.9" fill="none" stroke="#000" stroke-width="1.6" stroke-linejoin="miter" />
<line x1="1453" y1="1555.7" x2="1478.2" y2="1555.7" stroke="#000" stroke-width="1.6" />
<line x1="1491.1" y1="1578.1" x2="1478.5" y2="1599.9" stroke="#000" stroke-width="1.6" />
<line x1="1452.7" y1="1599.9" x2="1440.1" y2="1578.1" stroke="#000" stroke-width="1.6" />
<line x1="1495.5" y1="1577.9" x2="1516" y2="1577.9" stroke="#000" stroke-width="1.6" />
<text x="1518" y="1586.5" font-family="'Liberation Sans', sans-serif" font-size="22.5" font-weight="bold" fill="#000" text-anchor="start" textLength="47" lengthAdjust="spacingAndGlyphs" ><tspan>NH</tspan><tspan font-size="15.7" dy="6.3">2</tspan><tspan dy="-6.3"></tspan></text>
<defs>
<mask id="m2" maskUnits="userSpaceOnUse" x="940" y="1020" width="650" height="280">
 <rect x="976" y="1053" width="581" height="212" fill="#fff" filter="url(#m2f)"/>
</mask>
<filter id="m2f" x="-10%" y="-20%" width="120%" height="140%"><feGaussianBlur stdDeviation="5.5"/></filter>
<linearGradient id="bg2h" x1="0" y1="0" x2="1" y2="0">
 <stop offset="0" stop-color="#06090b"/><stop offset="0.45" stop-color="#0b1418"/><stop offset="0.7" stop-color="#1f3e48"/><stop offset="1" stop-color="#2a5662"/>
</linearGradient>
<radialGradient id="floor2" cx="0.72" cy="0.9" r="0.45">
 <stop offset="0" stop-color="#5aa6b2" stop-opacity="0.85"/><stop offset="0.6" stop-color="#3a7480" stop-opacity="0.5"/><stop offset="1" stop-color="#2a5662" stop-opacity="0"/>
</radialGradient>
<linearGradient id="tube2" x1="0" y1="0" x2="0" y2="1">
 <stop offset="0" stop-color="#a8f0f8" stop-opacity="0.8"/><stop offset="0.5" stop-color="#60c8d8" stop-opacity="0.6"/><stop offset="1" stop-color="#b0f0f8" stop-opacity="0.85"/>
</linearGradient>
<filter id="speck"><feTurbulence type="fractalNoise" baseFrequency="0.9" numOctaves="2" seed="4"/><feColorMatrix values="0 0 0 0 0.25  0 0 0 0 0.42  0 0 0 0 0.5  0 0 0 1.6 -0.5"/><feComposite in2="SourceGraphic" operator="in"/></filter>
</defs>
<g mask="url(#m2)">
<rect x="950" y="1030" width="630" height="260" fill="url(#bg2h)"/>
<rect x="950" y="1030" width="630" height="260" fill="url(#floor2)"/>
<rect x="1290" y="1045" width="290" height="50" fill="#1c3844" opacity="0.8" filter="url(#blur4)"/>
<ellipse cx="1400" cy="1077" rx="30" ry="4" fill="#40c888" opacity="0.7" filter="url(#blur2)"/>
<ellipse cx="1460" cy="1073" rx="40" ry="3.5" fill="#40c0a0" opacity="0.6" filter="url(#blur2)"/>
<path d="M1420,1085 C1470,1078 1520,1070 1570,1062" stroke="#4fb0c8" stroke-width="5" fill="none" opacity="0.6" filter="url(#blur2)"/>
<path d="M965,1055 C1080,1058 1200,1070 1300,1080 L1300,1182 C1200,1175 1080,1140 965,1112 Z" fill="#070b0d"/>
<line x1="965" y1="1056" x2="1064.3" y2="1064.3" stroke="#b89070" stroke-width="1.3" opacity="0.6"/>
<line x1="1090.8" y1="1066.6" x2="1189.2" y2="1074.8" stroke="#b89070" stroke-width="1.4" opacity="0.6"/>
<line x1="1199.8" y1="1075.7" x2="1268" y2="1081.4" stroke="#b89070" stroke-width="1.1" opacity="0.4"/>
<line x1="965" y1="1057.1" x2="1059.8" y2="1065.3" stroke="#d8bca0" stroke-width="0.8" opacity="0.8"/>
<line x1="1082.4" y1="1067.2" x2="1189.6" y2="1076.5" stroke="#d8bca0" stroke-width="1.2" opacity="0.4"/>
<line x1="1211.3" y1="1078.3" x2="1242.5" y2="1081" stroke="#d8bca0" stroke-width="0.8" opacity="0.4"/>
<line x1="1261.2" y1="1082.6" x2="1268" y2="1083.2" stroke="#d8bca0" stroke-width="1.1" opacity="0.5"/>
<line x1="965" y1="1058.2" x2="1036.5" y2="1064.5" stroke="#c9a985" stroke-width="1.1" opacity="0.6"/>
<line x1="1057.9" y1="1066.4" x2="1124.5" y2="1072.3" stroke="#c9a985" stroke-width="1.5" opacity="0.8"/>
<line x1="1137.2" y1="1073.4" x2="1234.4" y2="1082" stroke="#c9a985" stroke-width="1" opacity="0.5"/>
<line x1="1257.4" y1="1084.1" x2="1268" y2="1085" stroke="#c9a985" stroke-width="1.3" opacity="0.5"/>
<line x1="965" y1="1059.3" x2="1025.9" y2="1064.8" stroke="#b89070" stroke-width="1.4" opacity="0.4"/>
<line x1="1054.9" y1="1067.4" x2="1101.7" y2="1071.7" stroke="#b89070" stroke-width="1.1" opacity="0.8"/>
<line x1="1129.5" y1="1074.2" x2="1191.3" y2="1079.8" stroke="#b89070" stroke-width="1.2" opacity="0.7"/>
<line x1="1199.1" y1="1080.6" x2="1250.7" y2="1085.2" stroke="#b89070" stroke-width="1" opacity="0.8"/>
<line x1="1258.8" y1="1086" x2="1268" y2="1086.8" stroke="#b89070" stroke-width="1" opacity="0.4"/>
<line x1="965" y1="1060.4" x2="1032.2" y2="1066.6" stroke="#c9a985" stroke-width="1.3" opacity="0.4"/>
<line x1="1049.9" y1="1068.3" x2="1120.6" y2="1074.9" stroke="#c9a985" stroke-width="1.3" opacity="0.5"/>
<line x1="1150.2" y1="1077.6" x2="1210.9" y2="1083.3" stroke="#c9a985" stroke-width="1.5" opacity="0.4"/>
<line x1="1226.4" y1="1084.7" x2="1268" y2="1088.6" stroke="#c9a985" stroke-width="1.2" opacity="0.8"/>
<line x1="965" y1="1061.5" x2="1011.9" y2="1065.9" stroke="#c9a985" stroke-width="1.4" opacity="0.6"/>
<line x1="1027.3" y1="1067.4" x2="1065.3" y2="1071" stroke="#c9a985" stroke-width="0.9" opacity="0.5"/>
<line x1="1095.1" y1="1073.9" x2="1186.9" y2="1082.7" stroke="#c9a985" stroke-width="1" opacity="0.4"/>
<line x1="1200.8" y1="1084" x2="1238" y2="1087.6" stroke="#c9a985" stroke-width="1" opacity="0.6"/>
<line x1="1258" y1="1089.5" x2="1268" y2="1090.4" stroke="#c9a985" stroke-width="1.5" opacity="0.6"/>
<line x1="965" y1="1062.5" x2="1005.9" y2="1066.5" stroke="#d8bca0" stroke-width="1.2" opacity="0.5"/>
<line x1="1021.1" y1="1068" x2="1069.4" y2="1072.8" stroke="#d8bca0" stroke-width="1.3" opacity="0.4"/>
<line x1="1090" y1="1074.8" x2="1170.4" y2="1082.7" stroke="#d8bca0" stroke-width="1.3" opacity="0.5"/>
<line x1="1189.7" y1="1084.6" x2="1258.3" y2="1091.3" stroke="#d8bca0" stroke-width="0.8" opacity="0.4"/>
<line x1="965" y1="1063.6" x2="1072" y2="1074.4" stroke="#d8bca0" stroke-width="1.3" opacity="0.5"/>
<line x1="1083.7" y1="1075.5" x2="1179.6" y2="1085.2" stroke="#d8bca0" stroke-width="1" opacity="0.4"/>
<line x1="1199.9" y1="1087.2" x2="1268" y2="1094" stroke="#d8bca0" stroke-width="1" opacity="0.6"/>
<line x1="965" y1="1064.7" x2="1044.1" y2="1072.9" stroke="#d8bca0" stroke-width="1.4" opacity="0.4"/>
<line x1="1056.9" y1="1074.2" x2="1088.2" y2="1077.4" stroke="#d8bca0" stroke-width="1.1" opacity="0.4"/>
<line x1="1100.7" y1="1078.7" x2="1144.8" y2="1083.2" stroke="#d8bca0" stroke-width="1.2" opacity="0.4"/>
<line x1="1159.6" y1="1084.7" x2="1218.6" y2="1090.8" stroke="#d8bca0" stroke-width="1.5" opacity="0.6"/>
<line x1="1246" y1="1093.6" x2="1268" y2="1095.8" stroke="#d8bca0" stroke-width="0.9" opacity="0.4"/>
<line x1="965" y1="1065.8" x2="1033" y2="1073" stroke="#c9a985" stroke-width="1" opacity="0.4"/>
<line x1="1047.6" y1="1074.5" x2="1125.4" y2="1082.7" stroke="#c9a985" stroke-width="0.8" opacity="0.5"/>
<line x1="1133.2" y1="1083.5" x2="1174.2" y2="1087.8" stroke="#c9a985" stroke-width="1.1" opacity="0.5"/>
<line x1="1181.9" y1="1088.6" x2="1215.5" y2="1092.1" stroke="#c9a985" stroke-width="1.3" opacity="0.4"/>
<line x1="1243.9" y1="1095.1" x2="1268" y2="1097.6" stroke="#c9a985" stroke-width="0.9" opacity="0.6"/>
<line x1="965" y1="1066.9" x2="1064.7" y2="1077.6" stroke="#c9a985" stroke-width="1.4" opacity="0.7"/>
<line x1="1080.7" y1="1079.3" x2="1156.5" y2="1087.5" stroke="#c9a985" stroke-width="1.1" opacity="0.6"/>
<line x1="1177.5" y1="1089.7" x2="1256.2" y2="1098.2" stroke="#c9a985" stroke-width="1.2" opacity="0.8"/>
<line x1="1264.2" y1="1099" x2="1268" y2="1099.4" stroke="#c9a985" stroke-width="1.1" opacity="0.7"/>
<line x1="965" y1="1068" x2="1031.6" y2="1075.3" stroke="#5f8088" stroke-width="1.2" opacity="0.6"/>
<line x1="1048.7" y1="1077.2" x2="1119.9" y2="1085" stroke="#5f8088" stroke-width="0.9" opacity="0.4"/>
<line x1="1133.3" y1="1086.5" x2="1239.9" y2="1098.2" stroke="#5f8088" stroke-width="1.3" opacity="0.6"/>
<line x1="1248.6" y1="1099.1" x2="1268" y2="1101.2" stroke="#5f8088" stroke-width="1.1" opacity="0.4"/>
<line x1="965" y1="1069.1" x2="1011.2" y2="1074.3" stroke="#5f8088" stroke-width="1.4" opacity="0.6"/>
<line x1="1021.3" y1="1075.4" x2="1086.6" y2="1082.7" stroke="#5f8088" stroke-width="1" opacity="0.6"/>
<line x1="1114" y1="1085.8" x2="1159.9" y2="1090.9" stroke="#5f8088" stroke-width="1.4" opacity="0.8"/>
<line x1="1176.3" y1="1092.8" x2="1268" y2="1103" stroke="#5f8088" stroke-width="1.2" opacity="0.5"/>
<line x1="965" y1="1070.2" x2="1005.8" y2="1074.8" stroke="#9ab4b8" stroke-width="1.4" opacity="0.4"/>
<line x1="1020.2" y1="1076.5" x2="1055.3" y2="1080.5" stroke="#9ab4b8" stroke-width="1.4" opacity="0.4"/>
<line x1="1084.8" y1="1083.9" x2="1152.5" y2="1091.6" stroke="#9ab4b8" stroke-width="1.4" opacity="0.5"/>
<line x1="1180.8" y1="1094.9" x2="1252.4" y2="1103" stroke="#9ab4b8" stroke-width="1.3" opacity="0.7"/>
<line x1="965" y1="1071.3" x2="1031.2" y2="1079" stroke="#5f8088" stroke-width="0.8" opacity="0.7"/>
<line x1="1039" y1="1079.9" x2="1072.3" y2="1083.8" stroke="#5f8088" stroke-width="1.2" opacity="0.5"/>
<line x1="1095.3" y1="1086.5" x2="1188.6" y2="1097.4" stroke="#5f8088" stroke-width="0.9" opacity="0.6"/>
<line x1="1195.1" y1="1098.1" x2="1227.1" y2="1101.9" stroke="#5f8088" stroke-width="1" opacity="0.4"/>
<line x1="1253" y1="1104.9" x2="1268" y2="1106.6" stroke="#5f8088" stroke-width="1.1" opacity="0.6"/>
<line x1="965" y1="1072.4" x2="1071.7" y2="1085.1" stroke="#4f7a82" stroke-width="0.9" opacity="0.6"/>
<line x1="1094.1" y1="1087.7" x2="1138.4" y2="1093" stroke="#4f7a82" stroke-width="1.1" opacity="0.7"/>
<line x1="1144.7" y1="1093.8" x2="1189" y2="1099" stroke="#4f7a82" stroke-width="1" opacity="0.7"/>
<line x1="1201.5" y1="1100.5" x2="1268" y2="1108.4" stroke="#4f7a82" stroke-width="1.3" opacity="0.5"/>
<line x1="965" y1="1073.5" x2="1002" y2="1077.9" stroke="#9ab4b8" stroke-width="1.3" opacity="0.4"/>
<line x1="1030.4" y1="1081.4" x2="1096.6" y2="1089.4" stroke="#9ab4b8" stroke-width="1.4" opacity="0.5"/>
<line x1="1117.7" y1="1092" x2="1193.2" y2="1101.2" stroke="#9ab4b8" stroke-width="1.4" opacity="0.8"/>
<line x1="1220.3" y1="1104.4" x2="1268" y2="1110.2" stroke="#9ab4b8" stroke-width="0.9" opacity="0.7"/>
<line x1="965" y1="1074.5" x2="1012.1" y2="1080.4" stroke="#7d9aa0" stroke-width="1.5" opacity="0.8"/>
<line x1="1039.7" y1="1083.8" x2="1112.6" y2="1092.8" stroke="#7d9aa0" stroke-width="1" opacity="0.8"/>
<line x1="1137.6" y1="1095.9" x2="1236.1" y2="1108.1" stroke="#7d9aa0" stroke-width="0.9" opacity="0.5"/>
<line x1="1250.4" y1="1109.9" x2="1268" y2="1112" stroke="#7d9aa0" stroke-width="1.1" opacity="0.4"/>
<line x1="965" y1="1075.6" x2="1029.3" y2="1083.7" stroke="#7d9aa0" stroke-width="1.2" opacity="0.7"/>
<line x1="1036.2" y1="1084.6" x2="1139.4" y2="1097.6" stroke="#7d9aa0" stroke-width="1.5" opacity="0.8"/>
<line x1="1156.7" y1="1099.8" x2="1228.2" y2="1108.8" stroke="#7d9aa0" stroke-width="1.1" opacity="0.7"/>
<line x1="1250.5" y1="1111.6" x2="1268" y2="1113.8" stroke="#7d9aa0" stroke-width="1.3" opacity="0.5"/>
<line x1="965" y1="1076.7" x2="1018.2" y2="1083.6" stroke="#5f8088" stroke-width="1.2" opacity="0.6"/>
<line x1="1041.7" y1="1086.6" x2="1139.2" y2="1099.1" stroke="#5f8088" stroke-width="1" opacity="0.5"/>
<line x1="1158.6" y1="1101.6" x2="1256.3" y2="1114.1" stroke="#5f8088" stroke-width="0.9" opacity="0.7"/>
<line x1="965" y1="1077.8" x2="1036.9" y2="1087.2" stroke="#5f8088" stroke-width="0.9" opacity="0.6"/>
<line x1="1056.7" y1="1089.8" x2="1126.9" y2="1099" stroke="#5f8088" stroke-width="0.8" opacity="0.8"/>
<line x1="1147.5" y1="1101.7" x2="1218.8" y2="1111" stroke="#5f8088" stroke-width="1.4" opacity="0.6"/>
<line x1="1234.4" y1="1113" x2="1268" y2="1117.4" stroke="#5f8088" stroke-width="0.8" opacity="0.6"/>
<line x1="965" y1="1078.9" x2="1068.7" y2="1092.7" stroke="#b8c8c8" stroke-width="1.1" opacity="0.5"/>
<line x1="1093.9" y1="1096.1" x2="1163.3" y2="1105.3" stroke="#b8c8c8" stroke-width="1.4" opacity="0.8"/>
<line x1="1177.5" y1="1107.2" x2="1268" y2="1119.2" stroke="#b8c8c8" stroke-width="0.9" opacity="0.5"/>
<line x1="965" y1="1080" x2="1069" y2="1094.1" stroke="#7d9aa0" stroke-width="1.3" opacity="0.4"/>
<line x1="1078.1" y1="1095.3" x2="1123.7" y2="1101.5" stroke="#7d9aa0" stroke-width="1.3" opacity="0.5"/>
<line x1="1135.1" y1="1103" x2="1193.5" y2="1111" stroke="#7d9aa0" stroke-width="0.9" opacity="0.7"/>
<line x1="1214.4" y1="1113.8" x2="1254.2" y2="1119.2" stroke="#7d9aa0" stroke-width="1" opacity="0.4"/>
<line x1="965" y1="1081.1" x2="1065.3" y2="1094.9" stroke="#5f8088" stroke-width="1.2" opacity="0.7"/>
<line x1="1071.9" y1="1095.8" x2="1151.1" y2="1106.7" stroke="#5f8088" stroke-width="1.4" opacity="0.6"/>
<line x1="1170" y1="1109.4" x2="1217.5" y2="1115.9" stroke="#5f8088" stroke-width="1.2" opacity="0.6"/>
<line x1="1228.7" y1="1117.4" x2="1268" y2="1122.9" stroke="#5f8088" stroke-width="1.2" opacity="0.5"/>
<line x1="965" y1="1082.2" x2="1020.3" y2="1089.9" stroke="#9ab4b8" stroke-width="1.4" opacity="0.4"/>
<line x1="1033.8" y1="1091.8" x2="1143.7" y2="1107.2" stroke="#9ab4b8" stroke-width="0.9" opacity="0.5"/>
<line x1="1171" y1="1111.1" x2="1259.1" y2="1123.4" stroke="#9ab4b8" stroke-width="0.9" opacity="0.7"/>
<line x1="965" y1="1083.3" x2="1038.5" y2="1093.7" stroke="#b8c8c8" stroke-width="0.9" opacity="0.6"/>
<line x1="1061.4" y1="1097" x2="1155.3" y2="1110.4" stroke="#b8c8c8" stroke-width="1.2" opacity="0.5"/>
<line x1="1163.6" y1="1111.6" x2="1259.3" y2="1125.2" stroke="#b8c8c8" stroke-width="1.3" opacity="0.6"/>
<line x1="965" y1="1084.4" x2="1035.2" y2="1094.5" stroke="#4f7a82" stroke-width="0.9" opacity="0.4"/>
<line x1="1057.7" y1="1097.8" x2="1096.2" y2="1103.4" stroke="#4f7a82" stroke-width="1.2" opacity="0.6"/>
<line x1="1103.1" y1="1104.4" x2="1178.6" y2="1115.3" stroke="#4f7a82" stroke-width="0.9" opacity="0.4"/>
<line x1="1188.1" y1="1116.7" x2="1268" y2="1128.3" stroke="#4f7a82" stroke-width="1.4" opacity="0.4"/>
<line x1="965" y1="1085.5" x2="1005.8" y2="1091.5" stroke="#7d9aa0" stroke-width="0.9" opacity="0.4"/>
<line x1="1028.1" y1="1094.7" x2="1089.4" y2="1103.8" stroke="#7d9aa0" stroke-width="1" opacity="0.4"/>
<line x1="1105.6" y1="1106.2" x2="1165.5" y2="1115" stroke="#7d9aa0" stroke-width="0.8" opacity="0.4"/>
<line x1="1186.7" y1="1118.1" x2="1249.3" y2="1127.3" stroke="#7d9aa0" stroke-width="1.1" opacity="0.8"/>
<line x1="1263.9" y1="1129.5" x2="1268" y2="1130.1" stroke="#7d9aa0" stroke-width="1.4" opacity="0.5"/>
<line x1="965" y1="1086.5" x2="1059.1" y2="1100.6" stroke="#7d9aa0" stroke-width="1.4" opacity="0.6"/>
<line x1="1082" y1="1104.1" x2="1144.4" y2="1113.4" stroke="#7d9aa0" stroke-width="1.2" opacity="0.8"/>
<line x1="1164.8" y1="1116.4" x2="1259.2" y2="1130.5" stroke="#7d9aa0" stroke-width="1.4" opacity="0.7"/>
<line x1="965" y1="1087.6" x2="1060.2" y2="1102.1" stroke="#9ab4b8" stroke-width="1.4" opacity="0.7"/>
<line x1="1075.9" y1="1104.5" x2="1161.5" y2="1117.5" stroke="#9ab4b8" stroke-width="1.3" opacity="0.5"/>
<line x1="1185.9" y1="1121.2" x2="1268" y2="1133.7" stroke="#9ab4b8" stroke-width="1" opacity="0.6"/>
<line x1="965" y1="1088.7" x2="1066" y2="1104.3" stroke="#7d9aa0" stroke-width="1.4" opacity="0.4"/>
<line x1="1095.8" y1="1108.9" x2="1147.7" y2="1116.9" stroke="#7d9aa0" stroke-width="1" opacity="0.4"/>
<line x1="1176.7" y1="1121.4" x2="1239.2" y2="1131" stroke="#7d9aa0" stroke-width="0.9" opacity="0.6"/>
<line x1="1249.6" y1="1132.6" x2="1268" y2="1135.5" stroke="#7d9aa0" stroke-width="0.9" opacity="0.5"/>
<line x1="965" y1="1089.8" x2="996.8" y2="1094.8" stroke="#5f8088" stroke-width="1.3" opacity="0.5"/>
<line x1="1017.6" y1="1098.1" x2="1079.7" y2="1107.8" stroke="#5f8088" stroke-width="0.9" opacity="0.5"/>
<line x1="1086.9" y1="1108.9" x2="1124.8" y2="1114.8" stroke="#5f8088" stroke-width="1.4" opacity="0.6"/>
<line x1="1136.8" y1="1116.7" x2="1207.5" y2="1127.8" stroke="#5f8088" stroke-width="1.2" opacity="0.8"/>
<line x1="1236.7" y1="1132.4" x2="1268" y2="1137.3" stroke="#5f8088" stroke-width="0.9" opacity="0.6"/>
<line x1="965" y1="1090.9" x2="1025.9" y2="1100.6" stroke="#7d9aa0" stroke-width="1.1" opacity="0.8"/>
<line x1="1054.4" y1="1105.1" x2="1152.9" y2="1120.8" stroke="#7d9aa0" stroke-width="1.2" opacity="0.5"/>
<line x1="1171.9" y1="1123.8" x2="1241.5" y2="1134.9" stroke="#7d9aa0" stroke-width="1.1" opacity="0.5"/>
<line x1="1254.3" y1="1136.9" x2="1268" y2="1139.1" stroke="#7d9aa0" stroke-width="1" opacity="0.8"/>
<line x1="965" y1="1092" x2="997.1" y2="1097.2" stroke="#4f7a82" stroke-width="1.2" opacity="0.6"/>
<line x1="1021.7" y1="1101.1" x2="1084.4" y2="1111.3" stroke="#4f7a82" stroke-width="0.8" opacity="0.5"/>
<line x1="1106.8" y1="1114.9" x2="1168.6" y2="1124.8" stroke="#4f7a82" stroke-width="1.3" opacity="0.5"/>
<line x1="1188.6" y1="1128.1" x2="1268" y2="1140.9" stroke="#4f7a82" stroke-width="1.3" opacity="0.5"/>
<line x1="965" y1="1093.1" x2="998.6" y2="1098.6" stroke="#9ab4b8" stroke-width="1.4" opacity="0.8"/>
<line x1="1007" y1="1100" x2="1048.5" y2="1106.8" stroke="#9ab4b8" stroke-width="1" opacity="0.7"/>
<line x1="1077.6" y1="1111.5" x2="1111.6" y2="1117.1" stroke="#9ab4b8" stroke-width="0.9" opacity="0.7"/>
<line x1="1127.6" y1="1119.7" x2="1186.2" y2="1129.3" stroke="#9ab4b8" stroke-width="1.1" opacity="0.4"/>
<line x1="1195.9" y1="1130.9" x2="1259.2" y2="1141.2" stroke="#9ab4b8" stroke-width="1.2" opacity="0.7"/>
<line x1="965" y1="1094.2" x2="1057.2" y2="1109.5" stroke="#4f7a82" stroke-width="1.5" opacity="0.8"/>
<line x1="1076" y1="1112.6" x2="1164.7" y2="1127.3" stroke="#4f7a82" stroke-width="0.9" opacity="0.8"/>
<line x1="1176.4" y1="1129.3" x2="1268" y2="1144.5" stroke="#4f7a82" stroke-width="1.1" opacity="0.5"/>
<line x1="965" y1="1095.3" x2="1050.9" y2="1109.7" stroke="#5f8088" stroke-width="1" opacity="0.5"/>
<line x1="1061.5" y1="1111.5" x2="1167.6" y2="1129.4" stroke="#5f8088" stroke-width="1.3" opacity="0.4"/>
<line x1="1185.7" y1="1132.4" x2="1268" y2="1146.3" stroke="#5f8088" stroke-width="0.8" opacity="0.5"/>
<line x1="965" y1="1096.4" x2="1044.9" y2="1110" stroke="#7d9aa0" stroke-width="1.2" opacity="0.4"/>
<line x1="1053.3" y1="1111.4" x2="1090.2" y2="1117.7" stroke="#7d9aa0" stroke-width="1.2" opacity="0.6"/>
<line x1="1112.5" y1="1121.5" x2="1172.3" y2="1131.7" stroke="#7d9aa0" stroke-width="0.9" opacity="0.5"/>
<line x1="1189.8" y1="1134.7" x2="1268" y2="1148.1" stroke="#7d9aa0" stroke-width="0.9" opacity="0.4"/>
<line x1="965" y1="1097.5" x2="1062" y2="1114.2" stroke="#5f8088" stroke-width="1.1" opacity="0.7"/>
<line x1="1086.5" y1="1118.5" x2="1147.7" y2="1129.1" stroke="#5f8088" stroke-width="0.9" opacity="0.7"/>
<line x1="1157.3" y1="1130.7" x2="1235.1" y2="1144.2" stroke="#5f8088" stroke-width="1.3" opacity="0.7"/>
<line x1="1248" y1="1146.4" x2="1268" y2="1149.9" stroke="#5f8088" stroke-width="1.2" opacity="0.6"/>
<line x1="965" y1="1098.5" x2="1001.3" y2="1104.9" stroke="#4f7a82" stroke-width="1.2" opacity="0.6"/>
<line x1="1009.3" y1="1106.3" x2="1094.1" y2="1121.2" stroke="#4f7a82" stroke-width="1.3" opacity="0.4"/>
<line x1="1107.3" y1="1123.5" x2="1154.3" y2="1131.7" stroke="#4f7a82" stroke-width="0.9" opacity="0.5"/>
<line x1="1176.2" y1="1135.6" x2="1264.2" y2="1151" stroke="#4f7a82" stroke-width="1" opacity="0.4"/>
<line x1="965" y1="1099.6" x2="1047.6" y2="1114.3" stroke="#4f7a82" stroke-width="1.4" opacity="0.5"/>
<line x1="1061.4" y1="1116.8" x2="1126.7" y2="1128.4" stroke="#4f7a82" stroke-width="1.4" opacity="0.7"/>
<line x1="1147" y1="1132" x2="1199.3" y2="1141.3" stroke="#4f7a82" stroke-width="1.5" opacity="0.6"/>
<line x1="1218" y1="1144.6" x2="1265.7" y2="1153.1" stroke="#4f7a82" stroke-width="1.3" opacity="0.6"/>
<line x1="965" y1="1100.7" x2="1023.9" y2="1111.3" stroke="#7d9aa0" stroke-width="1.1" opacity="0.5"/>
<line x1="1038.7" y1="1114" x2="1099.7" y2="1125" stroke="#7d9aa0" stroke-width="1.2" opacity="0.7"/>
<line x1="1110.4" y1="1126.9" x2="1183.6" y2="1140.1" stroke="#7d9aa0" stroke-width="1.2" opacity="0.4"/>
<line x1="1209.7" y1="1144.8" x2="1268" y2="1155.3" stroke="#7d9aa0" stroke-width="1" opacity="0.4"/>
<line x1="965" y1="1101.8" x2="999.6" y2="1108.1" stroke="#5f8088" stroke-width="1" opacity="0.4"/>
<line x1="1009.4" y1="1109.9" x2="1106.8" y2="1127.7" stroke="#5f8088" stroke-width="1.2" opacity="0.5"/>
<line x1="1122.9" y1="1130.6" x2="1196.5" y2="1144.1" stroke="#5f8088" stroke-width="1" opacity="0.4"/>
<line x1="1210.6" y1="1146.6" x2="1265.7" y2="1156.7" stroke="#5f8088" stroke-width="1.3" opacity="0.4"/>
<line x1="965" y1="1102.9" x2="1014.6" y2="1112.1" stroke="#b8c8c8" stroke-width="1.3" opacity="0.6"/>
<line x1="1025.9" y1="1114.2" x2="1117.1" y2="1131" stroke="#b8c8c8" stroke-width="1" opacity="0.8"/>
<line x1="1132.6" y1="1133.9" x2="1216.4" y2="1149.3" stroke="#b8c8c8" stroke-width="1.2" opacity="0.7"/>
<line x1="1234.2" y1="1152.6" x2="1268" y2="1158.9" stroke="#b8c8c8" stroke-width="1.1" opacity="0.7"/>
<line x1="965" y1="1104" x2="1063.3" y2="1122.4" stroke="#4f7a82" stroke-width="1.4" opacity="0.7"/>
<line x1="1088.6" y1="1127.1" x2="1195.2" y2="1147.1" stroke="#4f7a82" stroke-width="1.2" opacity="0.7"/>
<line x1="1216.6" y1="1151.1" x2="1268" y2="1160.7" stroke="#4f7a82" stroke-width="1.1" opacity="0.4"/>
<line x1="965" y1="1105.1" x2="1074.3" y2="1125.8" stroke="#9ab4b8" stroke-width="0.9" opacity="0.4"/>
<line x1="1089.3" y1="1128.6" x2="1153.3" y2="1140.8" stroke="#9ab4b8" stroke-width="1.5" opacity="0.4"/>
<line x1="1166.3" y1="1143.2" x2="1221" y2="1153.6" stroke="#9ab4b8" stroke-width="1.3" opacity="0.7"/>
<line x1="1229.7" y1="1155.2" x2="1268" y2="1162.5" stroke="#9ab4b8" stroke-width="1.1" opacity="0.6"/>
<line x1="965" y1="1106.2" x2="1020" y2="1116.7" stroke="#7d9aa0" stroke-width="1.1" opacity="0.6"/>
<line x1="1030.7" y1="1118.8" x2="1108.7" y2="1133.8" stroke="#7d9aa0" stroke-width="1.2" opacity="0.5"/>
<line x1="1126.1" y1="1137.1" x2="1227.6" y2="1156.6" stroke="#7d9aa0" stroke-width="1.4" opacity="0.8"/>
<line x1="1243.3" y1="1159.6" x2="1268" y2="1164.3" stroke="#7d9aa0" stroke-width="1.2" opacity="0.7"/>
<line x1="965" y1="1107.3" x2="1066" y2="1126.9" stroke="#b8c8c8" stroke-width="1" opacity="0.6"/>
<line x1="1093.9" y1="1132.3" x2="1200.5" y2="1153" stroke="#b8c8c8" stroke-width="1" opacity="0.4"/>
<line x1="1218.1" y1="1156.4" x2="1268" y2="1166.1" stroke="#b8c8c8" stroke-width="1.1" opacity="0.6"/>
<line x1="965" y1="1108.4" x2="1056.9" y2="1126.4" stroke="#5f8088" stroke-width="0.8" opacity="0.8"/>
<line x1="1081.8" y1="1131.3" x2="1183.2" y2="1151.2" stroke="#5f8088" stroke-width="1.4" opacity="0.6"/>
<line x1="1210.2" y1="1156.5" x2="1259.9" y2="1166.3" stroke="#5f8088" stroke-width="1.4" opacity="0.5"/>
<line x1="965" y1="1109.5" x2="1006.6" y2="1117.7" stroke="#4f7a82" stroke-width="1.4" opacity="0.4"/>
<line x1="1034.4" y1="1123.2" x2="1123.7" y2="1141" stroke="#4f7a82" stroke-width="1.2" opacity="0.4"/>
<line x1="1144.6" y1="1145.2" x2="1220.3" y2="1160.2" stroke="#4f7a82" stroke-width="0.9" opacity="0.8"/>
<line x1="1230.6" y1="1162.3" x2="1268" y2="1169.7" stroke="#4f7a82" stroke-width="1" opacity="0.6"/>
<line x1="965" y1="1110.5" x2="1002.8" y2="1118.1" stroke="#5f8088" stroke-width="1.1" opacity="0.8"/>
<line x1="1020.3" y1="1121.7" x2="1097.2" y2="1137.1" stroke="#5f8088" stroke-width="1" opacity="0.7"/>
<line x1="1123.8" y1="1142.5" x2="1187.2" y2="1155.2" stroke="#5f8088" stroke-width="0.9" opacity="0.7"/>
<line x1="1215.2" y1="1160.9" x2="1261.8" y2="1170.3" stroke="#5f8088" stroke-width="1.2" opacity="0.4"/>
<line x1="965" y1="1111.6" x2="1020.3" y2="1122.9" stroke="#4f7a82" stroke-width="1.2" opacity="0.8"/>
<line x1="1036" y1="1126.1" x2="1119.4" y2="1143.1" stroke="#4f7a82" stroke-width="0.9" opacity="0.4"/>
<line x1="1127" y1="1144.6" x2="1210.4" y2="1161.6" stroke="#4f7a82" stroke-width="1.3" opacity="0.7"/>
<line x1="1232.6" y1="1166.1" x2="1268" y2="1173.3" stroke="#4f7a82" stroke-width="1.4" opacity="0.7"/>
<line x1="965" y1="1112.7" x2="1014" y2="1122.8" stroke="#b8c8c8" stroke-width="1.1" opacity="0.4"/>
<line x1="1033.5" y1="1126.8" x2="1142.9" y2="1149.3" stroke="#b8c8c8" stroke-width="0.9" opacity="0.6"/>
<line x1="1168.1" y1="1154.5" x2="1221.3" y2="1165.5" stroke="#b8c8c8" stroke-width="1.2" opacity="0.5"/>
<line x1="1236.3" y1="1168.6" x2="1268" y2="1175.1" stroke="#b8c8c8" stroke-width="1.3" opacity="0.5"/>
<line x1="965" y1="1113.8" x2="1025.1" y2="1126.3" stroke="#9ab4b8" stroke-width="1" opacity="0.5"/>
<line x1="1033.8" y1="1128.1" x2="1101.3" y2="1142.2" stroke="#9ab4b8" stroke-width="1.1" opacity="0.5"/>
<line x1="1122.7" y1="1146.7" x2="1160.9" y2="1154.6" stroke="#9ab4b8" stroke-width="0.9" opacity="0.6"/>
<line x1="1181.8" y1="1159" x2="1226.1" y2="1168.2" stroke="#9ab4b8" stroke-width="0.8" opacity="0.6"/>
<line x1="1236.8" y1="1170.4" x2="1268" y2="1176.9" stroke="#9ab4b8" stroke-width="0.8" opacity="0.8"/>
<line x1="965" y1="1114.9" x2="1027.5" y2="1128.1" stroke="#b8c8c8" stroke-width="1.4" opacity="0.5"/>
<line x1="1035.3" y1="1129.7" x2="1106.2" y2="1144.6" stroke="#b8c8c8" stroke-width="1.3" opacity="0.7"/>
<line x1="1127.8" y1="1149.2" x2="1188.6" y2="1162" stroke="#b8c8c8" stroke-width="1.1" opacity="0.4"/>
<line x1="1202.6" y1="1164.9" x2="1264.6" y2="1178" stroke="#b8c8c8" stroke-width="1.5" opacity="0.7"/>
<line x1="965" y1="1116" x2="1037.4" y2="1131.4" stroke="#5f8088" stroke-width="0.9" opacity="0.5"/>
<line x1="1049.6" y1="1134" x2="1114.9" y2="1147.9" stroke="#5f8088" stroke-width="0.9" opacity="0.5"/>
<line x1="1134.3" y1="1152" x2="1187.8" y2="1163.4" stroke="#5f8088" stroke-width="1.3" opacity="0.5"/>
<line x1="1196.3" y1="1165.2" x2="1268" y2="1180.5" stroke="#5f8088" stroke-width="1" opacity="0.6"/>
<ellipse cx="1302" cy="1128" rx="50" ry="54" fill="#16303c"/>
<ellipse cx="1302" cy="1128" rx="50" ry="54" fill="#fff" filter="url(#speck)" opacity="0.75"/>
<ellipse cx="1318" cy="1130" rx="22" ry="40" fill="#102630" opacity="0.8"/>
<path d="M1300,1094 L1500,1112 C1525,1118 1532,1135 1528,1140 C1520,1160 1505,1175 1480,1180 L1305,1165 Z" fill="url(#tube2)" opacity="0.7" filter="url(#blur1)"/>
<line x1="1310" y1="1100" x2="1441.1" y2="1112" stroke="#c8f8ff" stroke-width="1.5" opacity="0.4"/>
<line x1="1310" y1="1105" x2="1474.7" y2="1117" stroke="#c8f8ff" stroke-width="2" opacity="0.7"/>
<line x1="1310" y1="1110" x2="1474.9" y2="1122" stroke="#c8f8ff" stroke-width="1.5" opacity="0.3"/>
<line x1="1310" y1="1115" x2="1452.8" y2="1127" stroke="#c8f8ff" stroke-width="1.7" opacity="0.4"/>
<line x1="1310" y1="1120" x2="1438.2" y2="1132" stroke="#c8f8ff" stroke-width="1.3" opacity="0.5"/>
<line x1="1310" y1="1125" x2="1407.3" y2="1137" stroke="#c8f8ff" stroke-width="1.8" opacity="0.4"/>
<line x1="1310" y1="1130" x2="1470.6" y2="1142" stroke="#c8f8ff" stroke-width="1.3" opacity="0.7"/>
<line x1="1310" y1="1135" x2="1419.1" y2="1147" stroke="#c8f8ff" stroke-width="1.5" opacity="0.6"/>
<line x1="1310" y1="1140" x2="1405.1" y2="1152" stroke="#c8f8ff" stroke-width="1.9" opacity="0.4"/>
<line x1="1310" y1="1145" x2="1459.7" y2="1157" stroke="#c8f8ff" stroke-width="1.9" opacity="0.5"/>
<line x1="1310" y1="1150" x2="1411.7" y2="1162" stroke="#c8f8ff" stroke-width="1.9" opacity="0.3"/>
<line x1="1310" y1="1155" x2="1454.8" y2="1167" stroke="#c8f8ff" stroke-width="1.2" opacity="0.7"/>
<line x1="1310" y1="1160" x2="1429" y2="1172" stroke="#c8f8ff" stroke-width="1" opacity="0.6"/>
<line x1="1310" y1="1165" x2="1464.9" y2="1177" stroke="#c8f8ff" stroke-width="1.3" opacity="0.5"/>
<g/>
<path d="M1310,1096 L1500,1112 M1305,1164 L1480,1180 M1330,1130 L1500,1142 M1350,1146 L1470,1156" stroke="#d8fbff" stroke-width="2.2" fill="none" opacity="0.9"/>
<ellipse cx="1352" cy="1138" rx="10" ry="36" fill="none" stroke="#bff4fa" stroke-width="1.6" opacity="0.8"/>
<path d="M1455,1115 C1480,1115 1530,1130 1528,1140 C1522,1160 1495,1175 1470,1180" fill="none" stroke="#bff4fa" stroke-width="1.6" opacity="0.8"/>
<ellipse cx="1423.3" cy="1252.3" rx="10" ry="3.8" fill="#050a0c" opacity="0.45"/>
<ellipse cx="1426.3" cy="1251.2" rx="4" ry="1.5" fill="#7ad0dc" opacity="0.35"/>
<ellipse cx="1408.4" cy="1243.2" rx="9.3" ry="4.4" fill="#050a0c" opacity="0.45"/>
<ellipse cx="1411.2" cy="1241.9" rx="3.7" ry="1.8" fill="#7ad0dc" opacity="0.35"/>
<ellipse cx="1343.6" cy="1234" rx="4.1" ry="1.8" fill="#050a0c" opacity="0.45"/>
<ellipse cx="1344.8" cy="1233.4" rx="1.6" ry="0.7" fill="#7ad0dc" opacity="0.35"/>
<ellipse cx="1003.5" cy="1208.1" rx="3.8" ry="1.7" fill="#050a0c" opacity="0.45"/>
<ellipse cx="1004.7" cy="1207.6" rx="1.5" ry="0.7" fill="#7ad0dc" opacity="0.35"/>
<ellipse cx="1173.3" cy="1164.5" rx="4.7" ry="2.5" fill="#050a0c" opacity="0.45"/>
<ellipse cx="1174.7" cy="1163.7" rx="1.9" ry="1" fill="#7ad0dc" opacity="0.35"/>
<ellipse cx="1014.9" cy="1236.2" rx="8.1" ry="4.1" fill="#050a0c" opacity="0.45"/>
<ellipse cx="1017.4" cy="1235" rx="3.2" ry="1.6" fill="#7ad0dc" opacity="0.35"/>
<ellipse cx="1210.8" cy="1204.7" rx="3.7" ry="1.6" fill="#050a0c" opacity="0.45"/>
<ellipse cx="1211.9" cy="1204.3" rx="1.5" ry="0.6" fill="#7ad0dc" opacity="0.35"/>
<ellipse cx="1487.2" cy="1250.4" rx="7" ry="3" fill="#050a0c" opacity="0.45"/>
<ellipse cx="1489.2" cy="1249.5" rx="2.8" ry="1.2" fill="#7ad0dc" opacity="0.35"/>
<ellipse cx="1142.7" cy="1247.8" rx="6.2" ry="3.3" fill="#050a0c" opacity="0.45"/>
<ellipse cx="1144.6" cy="1246.8" rx="2.5" ry="1.3" fill="#7ad0dc" opacity="0.35"/>
<ellipse cx="1371.6" cy="1240.8" rx="3.8" ry="1.4" fill="#050a0c" opacity="0.45"/>
<ellipse cx="1372.7" cy="1240.3" rx="1.5" ry="0.6" fill="#7ad0dc" opacity="0.35"/>
<ellipse cx="1510.8" cy="1186.3" rx="6.6" ry="2.9" fill="#050a0c" opacity="0.45"/>
<ellipse cx="1512.8" cy="1185.5" rx="2.7" ry="1.2" fill="#7ad0dc" opacity="0.35"/>
<ellipse cx="998.6" cy="1249.8" rx="5.1" ry="2.4" fill="#050a0c" opacity="0.45"/>
<ellipse cx="1000.1" cy="1249.1" rx="2" ry="1" fill="#7ad0dc" opacity="0.35"/>
<ellipse cx="1227.6" cy="1191.4" rx="5.3" ry="2.7" fill="#050a0c" opacity="0.45"/>
<ellipse cx="1229.2" cy="1190.6" rx="2.1" ry="1.1" fill="#7ad0dc" opacity="0.35"/>
<ellipse cx="1479.3" cy="1246.5" rx="4.7" ry="2.4" fill="#050a0c" opacity="0.45"/>
<ellipse cx="1480.7" cy="1245.7" rx="1.9" ry="1" fill="#7ad0dc" opacity="0.35"/>
<ellipse cx="1120.7" cy="1246" rx="9.8" ry="4.4" fill="#050a0c" opacity="0.45"/>
<ellipse cx="1123.7" cy="1244.7" rx="3.9" ry="1.7" fill="#7ad0dc" opacity="0.35"/>
<ellipse cx="1044" cy="1250.1" rx="6.8" ry="3.3" fill="#050a0c" opacity="0.45"/>
<ellipse cx="1046.1" cy="1249.1" rx="2.7" ry="1.3" fill="#7ad0dc" opacity="0.35"/>
<ellipse cx="1511.5" cy="1246.8" rx="10" ry="5" fill="#050a0c" opacity="0.45"/>
<ellipse cx="1514.5" cy="1245.3" rx="4" ry="2" fill="#7ad0dc" opacity="0.35"/>
<ellipse cx="1473" cy="1190.6" rx="6.8" ry="3.2" fill="#050a0c" opacity="0.45"/>
<ellipse cx="1475.1" cy="1189.6" rx="2.7" ry="1.3" fill="#7ad0dc" opacity="0.35"/>
<ellipse cx="1076.9" cy="1221.4" rx="6" ry="2.2" fill="#050a0c" opacity="0.45"/>
<ellipse cx="1078.7" cy="1220.8" rx="2.4" ry="0.9" fill="#7ad0dc" opacity="0.35"/>
<ellipse cx="1025.2" cy="1207.2" rx="3.9" ry="2.1" fill="#050a0c" opacity="0.45"/>
<ellipse cx="1026.3" cy="1206.5" rx="1.6" ry="0.8" fill="#7ad0dc" opacity="0.35"/>
<ellipse cx="1307.5" cy="1199.9" rx="5.1" ry="2.5" fill="#050a0c" opacity="0.45"/>
<ellipse cx="1309" cy="1199.1" rx="2" ry="1" fill="#7ad0dc" opacity="0.35"/>
<ellipse cx="998.4" cy="1168.9" rx="6.1" ry="2.7" fill="#050a0c" opacity="0.45"/>
<ellipse cx="1000.2" cy="1168.1" rx="2.4" ry="1.1" fill="#7ad0dc" opacity="0.35"/>
<ellipse cx="1372.7" cy="1175.4" rx="5.1" ry="2.3" fill="#050a0c" opacity="0.45"/>
<ellipse cx="1374.2" cy="1174.7" rx="2.1" ry="0.9" fill="#7ad0dc" opacity="0.35"/>
<ellipse cx="1160.7" cy="1185.7" rx="4" ry="2" fill="#050a0c" opacity="0.45"/>
<ellipse cx="1161.9" cy="1185.1" rx="1.6" ry="0.8" fill="#7ad0dc" opacity="0.35"/>
<ellipse cx="1419.9" cy="1246.7" rx="4.4" ry="2.3" fill="#050a0c" opacity="0.45"/>
<ellipse cx="1421.2" cy="1246" rx="1.8" ry="0.9" fill="#7ad0dc" opacity="0.35"/>
<ellipse cx="1372.8" cy="1156.5" rx="5.2" ry="2.7" fill="#050a0c" opacity="0.45"/>
<ellipse cx="1374.4" cy="1155.7" rx="2.1" ry="1.1" fill="#7ad0dc" opacity="0.35"/>
<ellipse cx="1488.6" cy="1151.8" rx="7.4" ry="3.6" fill="#050a0c" opacity="0.45"/>
<ellipse cx="1490.9" cy="1150.7" rx="3" ry="1.5" fill="#7ad0dc" opacity="0.35"/>
<ellipse cx="1298.5" cy="1208.6" rx="4.7" ry="2.5" fill="#050a0c" opacity="0.45"/>
<ellipse cx="1299.9" cy="1207.9" rx="1.9" ry="1" fill="#7ad0dc" opacity="0.35"/>
<ellipse cx="1531.7" cy="1221.5" rx="5.1" ry="2.6" fill="#050a0c" opacity="0.45"/>
<ellipse cx="1533.3" cy="1220.7" rx="2.1" ry="1.1" fill="#7ad0dc" opacity="0.35"/>
<ellipse cx="1523.4" cy="1180.1" rx="5.9" ry="3.1" fill="#050a0c" opacity="0.45"/>
<ellipse cx="1525.1" cy="1179.2" rx="2.4" ry="1.2" fill="#7ad0dc" opacity="0.35"/>
<ellipse cx="1172.6" cy="1255.3" rx="8.5" ry="3.7" fill="#050a0c" opacity="0.45"/>
<ellipse cx="1175.1" cy="1254.2" rx="3.4" ry="1.5" fill="#7ad0dc" opacity="0.35"/>
<ellipse cx="1079.9" cy="1244.8" rx="3.8" ry="1.9" fill="#050a0c" opacity="0.45"/>
<ellipse cx="1081" cy="1244.2" rx="1.5" ry="0.8" fill="#7ad0dc" opacity="0.35"/>
<ellipse cx="1135.6" cy="1229.2" rx="6.5" ry="2.7" fill="#050a0c" opacity="0.45"/>
<ellipse cx="1137.6" cy="1228.4" rx="2.6" ry="1.1" fill="#7ad0dc" opacity="0.35"/>
<ellipse cx="1138" cy="1238.4" rx="6.7" ry="2.5" fill="#050a0c" opacity="0.45"/>
<ellipse cx="1140" cy="1237.7" rx="2.7" ry="1" fill="#7ad0dc" opacity="0.35"/>
<ellipse cx="1273.9" cy="1257.5" rx="9.3" ry="3.6" fill="#050a0c" opacity="0.45"/>
<ellipse cx="1276.7" cy="1256.4" rx="3.7" ry="1.4" fill="#7ad0dc" opacity="0.35"/>
<ellipse cx="1111.5" cy="1164.6" rx="7.7" ry="3.4" fill="#050a0c" opacity="0.45"/>
<ellipse cx="1113.8" cy="1163.6" rx="3.1" ry="1.4" fill="#7ad0dc" opacity="0.35"/>
<ellipse cx="1027.7" cy="1250.9" rx="3.5" ry="1.9" fill="#050a0c" opacity="0.45"/>
<ellipse cx="1028.8" cy="1250.3" rx="1.4" ry="0.7" fill="#7ad0dc" opacity="0.35"/>
<ellipse cx="988.9" cy="1214.5" rx="6.8" ry="2.9" fill="#050a0c" opacity="0.45"/>
<ellipse cx="990.9" cy="1213.6" rx="2.7" ry="1.2" fill="#7ad0dc" opacity="0.35"/>
<ellipse cx="1303.4" cy="1168.1" rx="9.9" ry="3.8" fill="#050a0c" opacity="0.45"/>
<ellipse cx="1306.4" cy="1166.9" rx="4" ry="1.5" fill="#7ad0dc" opacity="0.35"/>
</g>
<polygon points="101.6,1811.6 145.8,1768.4 415.5,1768.4 372.3,1811.6" fill="#eaf2e3" stroke="#dde4d5" stroke-width="1.5"/>
<polygon points="372.3,1811.6 415.5,1768.4 415.5,1899 372.3,1943.3" fill="#bcc4b3" stroke="#dde4d5" stroke-width="0.8"/>
<rect x="101.6" y="1811.6" width="270.7" height="131.7" fill="#e9f1e1" stroke="#dde4d5" stroke-width="1.5"/>
<ellipse cx="134" cy="1792.6" rx="4.4" ry="2.1" fill="#8a6a14" stroke="#5e4a0e" stroke-width="0.6" transform="rotate(26.6 134 1792.6)"/>
<ellipse cx="142.1" cy="1796.6" rx="4.4" ry="2.1" fill="#c2cedf" stroke="#7f90b0" stroke-width="0.6" transform="rotate(26.6 142.1 1796.6)"/>
<ellipse cx="150.1" cy="1800.6" rx="4.4" ry="2.1" fill="#8a6a14" stroke="#5e4a0e" stroke-width="0.6" transform="rotate(26.6 150.1 1800.6)"/>
<ellipse cx="158.2" cy="1804.6" rx="4.4" ry="2.1" fill="#c2cedf" stroke="#7f90b0" stroke-width="0.6" transform="rotate(26.6 158.2 1804.6)"/>
<ellipse cx="166.2" cy="1808.7" rx="4.4" ry="2.1" fill="#8a6a14" stroke="#5e4a0e" stroke-width="0.6" transform="rotate(27.5 166.2 1808.7)"/>
<ellipse cx="174.2" cy="1812.9" rx="4.4" ry="2.1" fill="#c2cedf" stroke="#7f90b0" stroke-width="0.6" transform="rotate(27.1 174.2 1812.9)"/>
<ellipse cx="182.3" cy="1816.8" rx="4.4" ry="2.1" fill="#8a6a14" stroke="#5e4a0e" stroke-width="0.6" transform="rotate(24.4 182.3 1816.8)"/>
<ellipse cx="190.5" cy="1820.4" rx="4.4" ry="2.1" fill="#c2cedf" stroke="#7f90b0" stroke-width="0.6" transform="rotate(23.1 190.5 1820.4)"/>
<ellipse cx="198.9" cy="1823.8" rx="4.4" ry="2.1" fill="#8a6a14" stroke="#5e4a0e" stroke-width="0.6" transform="rotate(21.8 198.9 1823.8)"/>
<ellipse cx="207.2" cy="1827.1" rx="4.4" ry="2.1" fill="#c2cedf" stroke="#7f90b0" stroke-width="0.6" transform="rotate(20.9 207.2 1827.1)"/>
<ellipse cx="215.7" cy="1830.3" rx="4.4" ry="2.1" fill="#8a6a14" stroke="#5e4a0e" stroke-width="0.6" transform="rotate(20.4 215.7 1830.3)"/>
<ellipse cx="224.2" cy="1833.3" rx="4.4" ry="2.1" fill="#c2cedf" stroke="#7f90b0" stroke-width="0.6" transform="rotate(18.6 224.2 1833.3)"/>
<ellipse cx="232.7" cy="1836.1" rx="4.4" ry="2.1" fill="#8a6a14" stroke="#5e4a0e" stroke-width="0.6" transform="rotate(17.7 232.7 1836.1)"/>
<ellipse cx="241.3" cy="1838.9" rx="4.4" ry="2.1" fill="#c2cedf" stroke="#7f90b0" stroke-width="0.6" transform="rotate(18.9 241.3 1838.9)"/>
<ellipse cx="249.7" cy="1842" rx="4.4" ry="2.1" fill="#8a6a14" stroke="#5e4a0e" stroke-width="0.6" transform="rotate(20.6 249.7 1842)"/>
<ellipse cx="258.1" cy="1845.2" rx="4.4" ry="2.1" fill="#c2cedf" stroke="#7f90b0" stroke-width="0.6" transform="rotate(20.8 258.1 1845.2)"/>
<ellipse cx="350" cy="1778.9" rx="4.4" ry="2.1" fill="#8a6a14" stroke="#5e4a0e" stroke-width="0.6" transform="rotate(136.9 350 1778.9)"/>
<ellipse cx="343.4" cy="1785" rx="4.4" ry="2.1" fill="#c2cedf" stroke="#7f90b0" stroke-width="0.6" transform="rotate(137.5 343.4 1785)"/>
<ellipse cx="336.7" cy="1791" rx="4.4" ry="2.1" fill="#8a6a14" stroke="#5e4a0e" stroke-width="0.6" transform="rotate(139.4 336.7 1791)"/>
<ellipse cx="329.8" cy="1796.7" rx="4.4" ry="2.1" fill="#c2cedf" stroke="#7f90b0" stroke-width="0.6" transform="rotate(141.2 329.8 1796.7)"/>
<ellipse cx="322.7" cy="1802.3" rx="4.4" ry="2.1" fill="#8a6a14" stroke="#5e4a0e" stroke-width="0.6" transform="rotate(143.1 322.7 1802.3)"/>
<ellipse cx="315.2" cy="1807.3" rx="4.4" ry="2.1" fill="#c2cedf" stroke="#7f90b0" stroke-width="0.6" transform="rotate(149.7 315.2 1807.3)"/>
<ellipse cx="307.2" cy="1811.4" rx="4.4" ry="2.1" fill="#8a6a14" stroke="#5e4a0e" stroke-width="0.6" transform="rotate(155.6 307.2 1811.4)"/>
<ellipse cx="298.9" cy="1814.9" rx="4.4" ry="2.1" fill="#c2cedf" stroke="#7f90b0" stroke-width="0.6" transform="rotate(158.1 298.9 1814.9)"/>
<ellipse cx="290.5" cy="1818.1" rx="4.4" ry="2.1" fill="#8a6a14" stroke="#5e4a0e" stroke-width="0.6" transform="rotate(159.7 290.5 1818.1)"/>
<ellipse cx="282.1" cy="1821.2" rx="4.4" ry="2.1" fill="#c2cedf" stroke="#7f90b0" stroke-width="0.6" transform="rotate(159.3 282.1 1821.2)"/>
<ellipse cx="273.7" cy="1824.5" rx="4.4" ry="2.1" fill="#8a6a14" stroke="#5e4a0e" stroke-width="0.6" transform="rotate(158.3 273.7 1824.5)"/>
<ellipse cx="265.3" cy="1827.7" rx="4.4" ry="2.1" fill="#c2cedf" stroke="#7f90b0" stroke-width="0.6" transform="rotate(159.4 265.3 1827.7)"/>
<ellipse cx="256.7" cy="1830.5" rx="4.4" ry="2.1" fill="#8a6a14" stroke="#5e4a0e" stroke-width="0.6" transform="rotate(164.9 256.7 1830.5)"/>
<ellipse cx="247.9" cy="1832" rx="4.4" ry="2.1" fill="#c2cedf" stroke="#7f90b0" stroke-width="0.6" transform="rotate(173.9 247.9 1832)"/>
<ellipse cx="238.9" cy="1832.6" rx="4.4" ry="2.1" fill="#8a6a14" stroke="#5e4a0e" stroke-width="0.6" transform="rotate(176.4 238.9 1832.6)"/>
<ellipse cx="248.7" cy="1783.4" rx="4.4" ry="2.1" fill="#8a6a14" stroke="#5e4a0e" stroke-width="0.6" transform="rotate(80 248.7 1783.4)"/>
<ellipse cx="250.2" cy="1792.3" rx="4.4" ry="2.1" fill="#c2cedf" stroke="#7f90b0" stroke-width="0.6" transform="rotate(82.4 250.2 1792.3)"/>
<ellipse cx="251.1" cy="1801.2" rx="4.4" ry="2.1" fill="#8a6a14" stroke="#5e4a0e" stroke-width="0.6" transform="rotate(88.3 251.1 1801.2)"/>
<ellipse cx="250.7" cy="1810.2" rx="4.4" ry="2.1" fill="#c2cedf" stroke="#7f90b0" stroke-width="0.6" transform="rotate(96 250.7 1810.2)"/>
<ellipse cx="249.4" cy="1819.1" rx="4.4" ry="2.1" fill="#8a6a14" stroke="#5e4a0e" stroke-width="0.6" transform="rotate(99.4 249.4 1819.1)"/>
<ellipse cx="248" cy="1828" rx="4.4" ry="2.1" fill="#c2cedf" stroke="#7f90b0" stroke-width="0.6" transform="rotate(97.3 248 1828)"/>
<ellipse cx="247.2" cy="1837" rx="4.4" ry="2.1" fill="#8a6a14" stroke="#5e4a0e" stroke-width="0.6" transform="rotate(94.6 247.2 1837)"/>
<ellipse cx="246.4" cy="1845.9" rx="4.4" ry="2.1" fill="#c2cedf" stroke="#7f90b0" stroke-width="0.6" transform="rotate(97.2 246.4 1845.9)"/>
<ellipse cx="244.8" cy="1854.8" rx="4.4" ry="2.1" fill="#8a6a14" stroke="#5e4a0e" stroke-width="0.6" transform="rotate(103.2 244.8 1854.8)"/>
<ellipse cx="242.5" cy="1863.5" rx="4.4" ry="2.1" fill="#c2cedf" stroke="#7f90b0" stroke-width="0.6" transform="rotate(105.8 242.5 1863.5)"/>
<ellipse cx="164" cy="1822.4" rx="4.4" ry="2.1" fill="#8a6a14" stroke="#5e4a0e" stroke-width="0.6" transform="rotate(2.3 164 1822.4)"/>
<ellipse cx="173" cy="1822.7" rx="4.4" ry="2.1" fill="#c2cedf" stroke="#7f90b0" stroke-width="0.6" transform="rotate(2.4 173 1822.7)"/>
<ellipse cx="182" cy="1823.2" rx="4.4" ry="2.1" fill="#8a6a14" stroke="#5e4a0e" stroke-width="0.6" transform="rotate(3.3 182 1823.2)"/>
<ellipse cx="191" cy="1823.8" rx="4.4" ry="2.1" fill="#c2cedf" stroke="#7f90b0" stroke-width="0.6" transform="rotate(4.9 191 1823.8)"/>
<ellipse cx="199.9" cy="1824.9" rx="4.4" ry="2.1" fill="#8a6a14" stroke="#5e4a0e" stroke-width="0.6" transform="rotate(8.6 199.9 1824.9)"/>
<ellipse cx="208.8" cy="1826.4" rx="4.4" ry="2.1" fill="#c2cedf" stroke="#7f90b0" stroke-width="0.6" transform="rotate(11.2 208.8 1826.4)"/>
<ellipse cx="217.6" cy="1828.3" rx="4.4" ry="2.1" fill="#8a6a14" stroke="#5e4a0e" stroke-width="0.6" transform="rotate(12.7 217.6 1828.3)"/>
<ellipse cx="226.3" cy="1830.4" rx="4.4" ry="2.1" fill="#c2cedf" stroke="#7f90b0" stroke-width="0.6" transform="rotate(14.7 226.3 1830.4)"/>
<ellipse cx="234.9" cy="1833.2" rx="4.4" ry="2.1" fill="#8a6a14" stroke="#5e4a0e" stroke-width="0.6" transform="rotate(21.2 234.9 1833.2)"/>
<ellipse cx="243.2" cy="1836.6" rx="4.4" ry="2.1" fill="#c2cedf" stroke="#7f90b0" stroke-width="0.6" transform="rotate(22 243.2 1836.6)"/>
<ellipse cx="251.7" cy="1839.5" rx="4.4" ry="2.1" fill="#8a6a14" stroke="#5e4a0e" stroke-width="0.6" transform="rotate(16.3 251.7 1839.5)"/>
<ellipse cx="260.4" cy="1841.8" rx="4.4" ry="2.1" fill="#c2cedf" stroke="#7f90b0" stroke-width="0.6" transform="rotate(14 260.4 1841.8)"/>
<ellipse cx="269.2" cy="1843.9" rx="4.4" ry="2.1" fill="#8a6a14" stroke="#5e4a0e" stroke-width="0.6" transform="rotate(13.1 269.2 1843.9)"/>
<ellipse cx="142.5" cy="1849.8" rx="4.4" ry="2.1" fill="#8a6a14" stroke="#5e4a0e" stroke-width="0.6" transform="rotate(-25.3 142.5 1849.8)"/>
<ellipse cx="150.7" cy="1846" rx="4.4" ry="2.1" fill="#c2cedf" stroke="#7f90b0" stroke-width="0.6" transform="rotate(-23.9 150.7 1846)"/>
<ellipse cx="159.1" cy="1842.6" rx="4.4" ry="2.1" fill="#8a6a14" stroke="#5e4a0e" stroke-width="0.6" transform="rotate(-19.5 159.1 1842.6)"/>
<ellipse cx="167.7" cy="1840.1" rx="4.4" ry="2.1" fill="#c2cedf" stroke="#7f90b0" stroke-width="0.6" transform="rotate(-13.6 167.7 1840.1)"/>
<ellipse cx="176.5" cy="1838.2" rx="4.4" ry="2.1" fill="#8a6a14" stroke="#5e4a0e" stroke-width="0.6" transform="rotate(-10.2 176.5 1838.2)"/>
<ellipse cx="185.4" cy="1836.7" rx="4.4" ry="2.1" fill="#c2cedf" stroke="#7f90b0" stroke-width="0.6" transform="rotate(-7.9 185.4 1836.7)"/>
<ellipse cx="194.3" cy="1835.9" rx="4.4" ry="2.1" fill="#8a6a14" stroke="#5e4a0e" stroke-width="0.6" transform="rotate(-3.2 194.3 1835.9)"/>
<ellipse cx="203.3" cy="1835.7" rx="4.4" ry="2.1" fill="#c2cedf" stroke="#7f90b0" stroke-width="0.6" transform="rotate(-0.2 203.3 1835.7)"/>
<ellipse cx="212.3" cy="1836.3" rx="4.4" ry="2.1" fill="#8a6a14" stroke="#5e4a0e" stroke-width="0.6" transform="rotate(10 212.3 1836.3)"/>
<ellipse cx="220.8" cy="1839.1" rx="4.4" ry="2.1" fill="#c2cedf" stroke="#7f90b0" stroke-width="0.6" transform="rotate(33.7 220.8 1839.1)"/>
<ellipse cx="227.2" cy="1845.3" rx="4.4" ry="2.1" fill="#8a6a14" stroke="#5e4a0e" stroke-width="0.6" transform="rotate(52.2 227.2 1845.3)"/>
<ellipse cx="232.1" cy="1852.8" rx="4.4" ry="2.1" fill="#c2cedf" stroke="#7f90b0" stroke-width="0.6" transform="rotate(59.1 232.1 1852.8)"/>
<ellipse cx="237" cy="1860.4" rx="4.4" ry="2.1" fill="#8a6a14" stroke="#5e4a0e" stroke-width="0.6" transform="rotate(56.7 237 1860.4)"/>
<ellipse cx="241.5" cy="1868.2" rx="4.4" ry="2.1" fill="#c2cedf" stroke="#7f90b0" stroke-width="0.6" transform="rotate(60.1 241.5 1868.2)"/>
<ellipse cx="128.1" cy="1875.9" rx="4.4" ry="2.1" fill="#8a6a14" stroke="#5e4a0e" stroke-width="0.6" transform="rotate(-13 128.1 1875.9)"/>
<ellipse cx="136.9" cy="1873.9" rx="4.4" ry="2.1" fill="#c2cedf" stroke="#7f90b0" stroke-width="0.6" transform="rotate(-13.1 136.9 1873.9)"/>
<ellipse cx="145.6" cy="1871.9" rx="4.4" ry="2.1" fill="#8a6a14" stroke="#5e4a0e" stroke-width="0.6" transform="rotate(-12.5 145.6 1871.9)"/>
<ellipse cx="154.5" cy="1870.1" rx="4.4" ry="2.1" fill="#c2cedf" stroke="#7f90b0" stroke-width="0.6" transform="rotate(-11.3 154.5 1870.1)"/>
<ellipse cx="163.3" cy="1868.6" rx="4.4" ry="2.1" fill="#8a6a14" stroke="#5e4a0e" stroke-width="0.6" transform="rotate(-8.8 163.3 1868.6)"/>
<ellipse cx="172.2" cy="1867.4" rx="4.4" ry="2.1" fill="#c2cedf" stroke="#7f90b0" stroke-width="0.6" transform="rotate(-6.4 172.2 1867.4)"/>
<ellipse cx="181.2" cy="1866.5" rx="4.4" ry="2.1" fill="#8a6a14" stroke="#5e4a0e" stroke-width="0.6" transform="rotate(-4.6 181.2 1866.5)"/>
<ellipse cx="190.2" cy="1866" rx="4.4" ry="2.1" fill="#c2cedf" stroke="#7f90b0" stroke-width="0.6" transform="rotate(-0.2 190.2 1866)"/>
<ellipse cx="199.2" cy="1866.4" rx="4.4" ry="2.1" fill="#8a6a14" stroke="#5e4a0e" stroke-width="0.6" transform="rotate(4.7 199.2 1866.4)"/>
<ellipse cx="207.7" cy="1869" rx="4.4" ry="2.1" fill="#c2cedf" stroke="#7f90b0" stroke-width="0.6" transform="rotate(27.5 207.7 1869)"/>
<ellipse cx="215.6" cy="1873.4" rx="4.4" ry="2.1" fill="#8a6a14" stroke="#5e4a0e" stroke-width="0.6" transform="rotate(25 215.6 1873.4)"/>
<ellipse cx="224.3" cy="1874.8" rx="4.4" ry="2.1" fill="#c2cedf" stroke="#7f90b0" stroke-width="0.6" transform="rotate(-3.9 224.3 1874.8)"/>
<ellipse cx="233.2" cy="1873.3" rx="4.4" ry="2.1" fill="#8a6a14" stroke="#5e4a0e" stroke-width="0.6" transform="rotate(-12.7 233.2 1873.3)"/>
<ellipse cx="241.9" cy="1871" rx="4.4" ry="2.1" fill="#c2cedf" stroke="#7f90b0" stroke-width="0.6" transform="rotate(-14.6 241.9 1871)"/>
<ellipse cx="175.5" cy="1920.2" rx="4.4" ry="2.1" fill="#8a6a14" stroke="#5e4a0e" stroke-width="0.6" transform="rotate(-42 175.5 1920.2)"/>
<ellipse cx="182.1" cy="1914.1" rx="4.4" ry="2.1" fill="#c2cedf" stroke="#7f90b0" stroke-width="0.6" transform="rotate(-44.8 182.1 1914.1)"/>
<ellipse cx="188.2" cy="1907.5" rx="4.4" ry="2.1" fill="#8a6a14" stroke="#5e4a0e" stroke-width="0.6" transform="rotate(-52.1 188.2 1907.5)"/>
<ellipse cx="192.5" cy="1899.6" rx="4.4" ry="2.1" fill="#c2cedf" stroke="#7f90b0" stroke-width="0.6" transform="rotate(-68.9 192.5 1899.6)"/>
<ellipse cx="195.8" cy="1891.3" rx="4.4" ry="2.1" fill="#8a6a14" stroke="#5e4a0e" stroke-width="0.6" transform="rotate(-66.9 195.8 1891.3)"/>
<ellipse cx="201" cy="1884" rx="4.4" ry="2.1" fill="#c2cedf" stroke="#7f90b0" stroke-width="0.6" transform="rotate(-43.1 201 1884)"/>
<ellipse cx="208.4" cy="1879" rx="4.4" ry="2.1" fill="#8a6a14" stroke="#5e4a0e" stroke-width="0.6" transform="rotate(-28.6 208.4 1879)"/>
<ellipse cx="216.4" cy="1874.9" rx="4.4" ry="2.1" fill="#c2cedf" stroke="#7f90b0" stroke-width="0.6" transform="rotate(-26.1 216.4 1874.9)"/>
<ellipse cx="230.4" cy="1933.6" rx="4.4" ry="2.1" fill="#8a6a14" stroke="#5e4a0e" stroke-width="0.6" transform="rotate(-99.9 230.4 1933.6)"/>
<ellipse cx="228.9" cy="1924.7" rx="4.4" ry="2.1" fill="#c2cedf" stroke="#7f90b0" stroke-width="0.6" transform="rotate(-99 228.9 1924.7)"/>
<ellipse cx="227.6" cy="1915.8" rx="4.4" ry="2.1" fill="#8a6a14" stroke="#5e4a0e" stroke-width="0.6" transform="rotate(-97.2 227.6 1915.8)"/>
<ellipse cx="226.9" cy="1906.8" rx="4.4" ry="2.1" fill="#c2cedf" stroke="#7f90b0" stroke-width="0.6" transform="rotate(-91.9 226.9 1906.8)"/>
<ellipse cx="226.8" cy="1897.8" rx="4.4" ry="2.1" fill="#8a6a14" stroke="#5e4a0e" stroke-width="0.6" transform="rotate(-89 226.8 1897.8)"/>
<ellipse cx="227.6" cy="1888.9" rx="4.4" ry="2.1" fill="#c2cedf" stroke="#7f90b0" stroke-width="0.6" transform="rotate(-80.3 227.6 1888.9)"/>
<ellipse cx="230.4" cy="1880.4" rx="4.4" ry="2.1" fill="#8a6a14" stroke="#5e4a0e" stroke-width="0.6" transform="rotate(-60.8 230.4 1880.4)"/>
<ellipse cx="235.6" cy="1873.1" rx="4.4" ry="2.1" fill="#c2cedf" stroke="#7f90b0" stroke-width="0.6" transform="rotate(-48.3 235.6 1873.1)"/>
<ellipse cx="241.7" cy="1866.4" rx="4.4" ry="2.1" fill="#8a6a14" stroke="#5e4a0e" stroke-width="0.6" transform="rotate(-50.4 241.7 1866.4)"/>
<ellipse cx="311.6" cy="1935.6" rx="4.4" ry="2.1" fill="#8a6a14" stroke="#5e4a0e" stroke-width="0.6" transform="rotate(-147.8 311.6 1935.6)"/>
<ellipse cx="304" cy="1930.8" rx="4.4" ry="2.1" fill="#c2cedf" stroke="#7f90b0" stroke-width="0.6" transform="rotate(-147 304 1930.8)"/>
<ellipse cx="296.5" cy="1925.8" rx="4.4" ry="2.1" fill="#8a6a14" stroke="#5e4a0e" stroke-width="0.6" transform="rotate(-145.6 296.5 1925.8)"/>
<ellipse cx="289.2" cy="1920.5" rx="4.4" ry="2.1" fill="#c2cedf" stroke="#7f90b0" stroke-width="0.6" transform="rotate(-141.9 289.2 1920.5)"/>
<ellipse cx="282.2" cy="1914.9" rx="4.4" ry="2.1" fill="#8a6a14" stroke="#5e4a0e" stroke-width="0.6" transform="rotate(-140.5 282.2 1914.9)"/>
<ellipse cx="275.4" cy="1909" rx="4.4" ry="2.1" fill="#c2cedf" stroke="#7f90b0" stroke-width="0.6" transform="rotate(-138.3 275.4 1909)"/>
<ellipse cx="269" cy="1902.6" rx="4.4" ry="2.1" fill="#8a6a14" stroke="#5e4a0e" stroke-width="0.6" transform="rotate(-132.2 269 1902.6)"/>
<ellipse cx="264" cy="1895.2" rx="4.4" ry="2.1" fill="#c2cedf" stroke="#7f90b0" stroke-width="0.6" transform="rotate(-115.2 264 1895.2)"/>
<ellipse cx="260.6" cy="1886.9" rx="4.4" ry="2.1" fill="#8a6a14" stroke="#5e4a0e" stroke-width="0.6" transform="rotate(-109.4 260.6 1886.9)"/>
<ellipse cx="257.3" cy="1878.5" rx="4.4" ry="2.1" fill="#c2cedf" stroke="#7f90b0" stroke-width="0.6" transform="rotate(-118.8 257.3 1878.5)"/>
<ellipse cx="251.8" cy="1871.4" rx="4.4" ry="2.1" fill="#8a6a14" stroke="#5e4a0e" stroke-width="0.6" transform="rotate(-135.4 251.8 1871.4)"/>
<ellipse cx="407.8" cy="1841.5" rx="4.4" ry="2.1" fill="#8a6a14" stroke="#5e4a0e" stroke-width="0.6" transform="rotate(175.8 407.8 1841.5)"/>
<ellipse cx="398.8" cy="1842.2" rx="4.4" ry="2.1" fill="#c2cedf" stroke="#7f90b0" stroke-width="0.6" transform="rotate(175.1 398.8 1842.2)"/>
<ellipse cx="389.9" cy="1843.3" rx="4.4" ry="2.1" fill="#8a6a14" stroke="#5e4a0e" stroke-width="0.6" transform="rotate(170.7 389.9 1843.3)"/>
<ellipse cx="381.1" cy="1845.2" rx="4.4" ry="2.1" fill="#c2cedf" stroke="#7f90b0" stroke-width="0.6" transform="rotate(163.7 381.1 1845.2)"/>
<ellipse cx="373.3" cy="1849.6" rx="4.4" ry="2.1" fill="#8a6a14" stroke="#5e4a0e" stroke-width="0.6" transform="rotate(141 373.3 1849.6)"/>
<ellipse cx="366.4" cy="1855.3" rx="4.4" ry="2.1" fill="#c2cedf" stroke="#7f90b0" stroke-width="0.6" transform="rotate(142.3 366.4 1855.3)"/>
<ellipse cx="358.6" cy="1859.7" rx="4.4" ry="2.1" fill="#8a6a14" stroke="#5e4a0e" stroke-width="0.6" transform="rotate(160.1 358.6 1859.7)"/>
<ellipse cx="349.8" cy="1861.4" rx="4.4" ry="2.1" fill="#c2cedf" stroke="#7f90b0" stroke-width="0.6" transform="rotate(174.9 349.8 1861.4)"/>
<ellipse cx="340.8" cy="1861.8" rx="4.4" ry="2.1" fill="#8a6a14" stroke="#5e4a0e" stroke-width="0.6" transform="rotate(179.9 340.8 1861.8)"/>
<ellipse cx="331.8" cy="1861.8" rx="4.4" ry="2.1" fill="#c2cedf" stroke="#7f90b0" stroke-width="0.6" transform="rotate(179.5 331.8 1861.8)"/>
<ellipse cx="322.8" cy="1862.1" rx="4.4" ry="2.1" fill="#8a6a14" stroke="#5e4a0e" stroke-width="0.6" transform="rotate(176.5 322.8 1862.1)"/>
<ellipse cx="313.8" cy="1862.9" rx="4.4" ry="2.1" fill="#c2cedf" stroke="#7f90b0" stroke-width="0.6" transform="rotate(175 313.8 1862.9)"/>
<ellipse cx="304.9" cy="1863.7" rx="4.4" ry="2.1" fill="#8a6a14" stroke="#5e4a0e" stroke-width="0.6" transform="rotate(174.5 304.9 1863.7)"/>
<ellipse cx="295.9" cy="1864.6" rx="4.4" ry="2.1" fill="#c2cedf" stroke="#7f90b0" stroke-width="0.6" transform="rotate(174.2 295.9 1864.6)"/>
<ellipse cx="287" cy="1865.6" rx="4.4" ry="2.1" fill="#8a6a14" stroke="#5e4a0e" stroke-width="0.6" transform="rotate(173.6 287 1865.6)"/>
<ellipse cx="278" cy="1866.6" rx="4.4" ry="2.1" fill="#c2cedf" stroke="#7f90b0" stroke-width="0.6" transform="rotate(173 278 1866.6)"/>
<ellipse cx="269.1" cy="1867.8" rx="4.4" ry="2.1" fill="#8a6a14" stroke="#5e4a0e" stroke-width="0.6" transform="rotate(172.1 269.1 1867.8)"/>
<ellipse cx="260.2" cy="1869.1" rx="4.4" ry="2.1" fill="#c2cedf" stroke="#7f90b0" stroke-width="0.6" transform="rotate(171.4 260.2 1869.1)"/>
<ellipse cx="251.3" cy="1870.4" rx="4.4" ry="2.1" fill="#8a6a14" stroke="#5e4a0e" stroke-width="0.6" transform="rotate(171.6 251.3 1870.4)"/>
<ellipse cx="401.5" cy="1869.6" rx="4.4" ry="2.1" fill="#8a6a14" stroke="#5e4a0e" stroke-width="0.6" transform="rotate(179.8 401.5 1869.6)"/>
<ellipse cx="392.5" cy="1869.6" rx="4.4" ry="2.1" fill="#c2cedf" stroke="#7f90b0" stroke-width="0.6" transform="rotate(179.8 392.5 1869.6)"/>
<ellipse cx="383.5" cy="1869.6" rx="4.4" ry="2.1" fill="#8a6a14" stroke="#5e4a0e" stroke-width="0.6" transform="rotate(179.9 383.5 1869.6)"/>
<ellipse cx="374.5" cy="1869.6" rx="4.4" ry="2.1" fill="#c2cedf" stroke="#7f90b0" stroke-width="0.6" transform="rotate(-179.9 374.5 1869.6)"/>
<ellipse cx="365.5" cy="1869.6" rx="4.4" ry="2.1" fill="#8a6a14" stroke="#5e4a0e" stroke-width="0.6" transform="rotate(-179.4 365.5 1869.6)"/>
<ellipse cx="356.5" cy="1869.4" rx="4.4" ry="2.1" fill="#c2cedf" stroke="#7f90b0" stroke-width="0.6" transform="rotate(-178.7 356.5 1869.4)"/>
<ellipse cx="347.5" cy="1869.2" rx="4.4" ry="2.1" fill="#8a6a14" stroke="#5e4a0e" stroke-width="0.6" transform="rotate(-178.3 347.5 1869.2)"/>
<ellipse cx="338.5" cy="1868.9" rx="4.4" ry="2.1" fill="#c2cedf" stroke="#7f90b0" stroke-width="0.6" transform="rotate(-178.3 338.5 1868.9)"/>
<ellipse cx="329.5" cy="1868.6" rx="4.4" ry="2.1" fill="#8a6a14" stroke="#5e4a0e" stroke-width="0.6" transform="rotate(-178.7 329.5 1868.6)"/>
<ellipse cx="320.5" cy="1868.5" rx="4.4" ry="2.1" fill="#c2cedf" stroke="#7f90b0" stroke-width="0.6" transform="rotate(-179.3 320.5 1868.5)"/>
<ellipse cx="311.5" cy="1868.4" rx="4.4" ry="2.1" fill="#8a6a14" stroke="#5e4a0e" stroke-width="0.6" transform="rotate(-179.5 311.5 1868.4)"/>
<ellipse cx="302.5" cy="1868.3" rx="4.4" ry="2.1" fill="#c2cedf" stroke="#7f90b0" stroke-width="0.6" transform="rotate(-179.7 302.5 1868.3)"/>
<ellipse cx="293.5" cy="1868.3" rx="4.4" ry="2.1" fill="#8a6a14" stroke="#5e4a0e" stroke-width="0.6" transform="rotate(179.8 293.5 1868.3)"/>
<ellipse cx="284.5" cy="1868.4" rx="4.4" ry="2.1" fill="#c2cedf" stroke="#7f90b0" stroke-width="0.6" transform="rotate(179.1 284.5 1868.4)"/>
<ellipse cx="275.5" cy="1868.7" rx="4.4" ry="2.1" fill="#8a6a14" stroke="#5e4a0e" stroke-width="0.6" transform="rotate(176.7 275.5 1868.7)"/>
<ellipse cx="266.5" cy="1869.3" rx="4.4" ry="2.1" fill="#c2cedf" stroke="#7f90b0" stroke-width="0.6" transform="rotate(174.5 266.5 1869.3)"/>
<ellipse cx="257.6" cy="1870.3" rx="4.4" ry="2.1" fill="#8a6a14" stroke="#5e4a0e" stroke-width="0.6" transform="rotate(173.7 257.6 1870.3)"/>
<ellipse cx="365.8" cy="1828.4" rx="4.4" ry="2.1" fill="#8a6a14" stroke="#5e4a0e" stroke-width="0.6" transform="rotate(166.8 365.8 1828.4)"/>
<ellipse cx="357" cy="1830.5" rx="4.4" ry="2.1" fill="#c2cedf" stroke="#7f90b0" stroke-width="0.6" transform="rotate(167.1 357 1830.5)"/>
<ellipse cx="348.2" cy="1832.4" rx="4.4" ry="2.1" fill="#8a6a14" stroke="#5e4a0e" stroke-width="0.6" transform="rotate(168.8 348.2 1832.4)"/>
<ellipse cx="339.4" cy="1834" rx="4.4" ry="2.1" fill="#c2cedf" stroke="#7f90b0" stroke-width="0.6" transform="rotate(172.3 339.4 1834)"/>
<ellipse cx="330.4" cy="1834.8" rx="4.4" ry="2.1" fill="#8a6a14" stroke="#5e4a0e" stroke-width="0.6" transform="rotate(179.2 330.4 1834.8)"/>
<ellipse cx="321.4" cy="1834.3" rx="4.4" ry="2.1" fill="#c2cedf" stroke="#7f90b0" stroke-width="0.6" transform="rotate(-172.3 321.4 1834.3)"/>
<ellipse cx="312.6" cy="1832.8" rx="4.4" ry="2.1" fill="#8a6a14" stroke="#5e4a0e" stroke-width="0.6" transform="rotate(-169.3 312.6 1832.8)"/>
<ellipse cx="303.7" cy="1831.1" rx="4.4" ry="2.1" fill="#c2cedf" stroke="#7f90b0" stroke-width="0.6" transform="rotate(-169.3 303.7 1831.1)"/>
<ellipse cx="294.9" cy="1829.6" rx="4.4" ry="2.1" fill="#8a6a14" stroke="#5e4a0e" stroke-width="0.6" transform="rotate(-168.5 294.9 1829.6)"/>
<ellipse cx="286.1" cy="1827.7" rx="4.4" ry="2.1" fill="#c2cedf" stroke="#7f90b0" stroke-width="0.6" transform="rotate(-168.7 286.1 1827.7)"/>
<ellipse cx="277.2" cy="1826.4" rx="4.4" ry="2.1" fill="#8a6a14" stroke="#5e4a0e" stroke-width="0.6" transform="rotate(-177.9 277.2 1826.4)"/>
<ellipse cx="268.2" cy="1827.4" rx="4.4" ry="2.1" fill="#c2cedf" stroke="#7f90b0" stroke-width="0.6" transform="rotate(165.5 268.2 1827.4)"/>
<ellipse cx="259.7" cy="1830.2" rx="4.4" ry="2.1" fill="#8a6a14" stroke="#5e4a0e" stroke-width="0.6" transform="rotate(160.6 259.7 1830.2)"/>
<rect x="233" y="1761" width="59" height="9.5" fill="#000"/>
<rect x="231" y="1943.3" width="59" height="9" fill="#000"/>
<line x1="260.6" y1="1778" x2="260.6" y2="1914.6" stroke="#c00000" stroke-width="3.2" />
<polygon points="254.3,1912.6 266.9,1912.6 260.6,1930.6" fill="#c00000" stroke="none" stroke-width="0" stroke-linejoin="miter" />
<circle cx="297.5" cy="1855.9" r="19" fill="#c00000" stroke="#5a0000" stroke-width="1"/>
<text x="294.5" y="1865.9" font-family="'Liberation Sans', sans-serif" font-size="31" font-weight="bold" fill="#000" text-anchor="middle" >e</text>
<line x1="306.5" y1="1847.4" x2="312.5" y2="1847.4" stroke="#000" stroke-width="2.4" />
<text x="100" y="2004" font-family="'Liberation Serif', serif" font-size="32" font-weight="bold" fill="#000" text-anchor="start" textLength="293" lengthAdjust="spacingAndGlyphs" >Amorphous structure</text>
<polygon points="459.5,1814.8 488,1772.7 794.4,1772.7 767,1814.8" fill="#eaf2e3" stroke="#dde4d5" stroke-width="1.5"/>
<polygon points="767,1814.8 794.4,1772.7 794.4,1900 767,1941.2" fill="#bcc4b3" stroke="#dde4d5" stroke-width="0.8"/>
<rect x="459.5" y="1814.8" width="307.5" height="126.4" fill="#e9f1e1" stroke="#dde4d5" stroke-width="1.5"/>
<ellipse cx="525.3" cy="1796" rx="6.8" ry="4.4" fill="#8a6a14" stroke="#5e4a0e" stroke-width="0.6" transform="rotate(-19.6 525.3 1796)"/>
<ellipse cx="537" cy="1792.7" rx="6.8" ry="4.4" fill="#c2cedf" stroke="#7f90b0" stroke-width="0.6" transform="rotate(-7.7 537 1792.7)"/>
<ellipse cx="548.9" cy="1794.2" rx="6.8" ry="4.4" fill="#8a6a14" stroke="#5e4a0e" stroke-width="0.6" transform="rotate(24.9 548.9 1794.2)"/>
<ellipse cx="559.1" cy="1800.8" rx="6.8" ry="4.4" fill="#c2cedf" stroke="#7f90b0" stroke-width="0.6" transform="rotate(36.9 559.1 1800.8)"/>
<ellipse cx="569.1" cy="1807.8" rx="6.8" ry="4.4" fill="#8a6a14" stroke="#5e4a0e" stroke-width="0.6" transform="rotate(32.5 569.1 1807.8)"/>
<ellipse cx="580" cy="1813.2" rx="6.8" ry="4.4" fill="#c2cedf" stroke="#7f90b0" stroke-width="0.6" transform="rotate(24.5 580 1813.2)"/>
<ellipse cx="591.4" cy="1817.6" rx="6.8" ry="4.4" fill="#8a6a14" stroke="#5e4a0e" stroke-width="0.6" transform="rotate(18 591.4 1817.6)"/>
<ellipse cx="603.3" cy="1820.2" rx="6.8" ry="4.4" fill="#c2cedf" stroke="#7f90b0" stroke-width="0.6" transform="rotate(6 603.3 1820.2)"/>
<ellipse cx="615.5" cy="1820.3" rx="6.8" ry="4.4" fill="#8a6a14" stroke="#5e4a0e" stroke-width="0.6" transform="rotate(-3.2 615.5 1820.3)"/>
<ellipse cx="627.6" cy="1819.5" rx="6.8" ry="4.4" fill="#c2cedf" stroke="#7f90b0" stroke-width="0.6" transform="rotate(-2.8 627.6 1819.5)"/>
<ellipse cx="639.8" cy="1820.1" rx="6.8" ry="4.4" fill="#8a6a14" stroke="#5e4a0e" stroke-width="0.6" transform="rotate(12.8 639.8 1820.1)"/>
<ellipse cx="651.4" cy="1823.8" rx="6.8" ry="4.4" fill="#c2cedf" stroke="#7f90b0" stroke-width="0.6" transform="rotate(22.5 651.4 1823.8)"/>
<ellipse cx="662.2" cy="1829.5" rx="6.8" ry="4.4" fill="#8a6a14" stroke="#5e4a0e" stroke-width="0.6" transform="rotate(31.4 662.2 1829.5)"/>
<ellipse cx="671.7" cy="1837" rx="6.8" ry="4.4" fill="#c2cedf" stroke="#7f90b0" stroke-width="0.6" transform="rotate(48.7 671.7 1837)"/>
<ellipse cx="679" cy="1846.8" rx="6.8" ry="4.4" fill="#8a6a14" stroke="#5e4a0e" stroke-width="0.6" transform="rotate(48.1 679 1846.8)"/>
<ellipse cx="688.9" cy="1853.8" rx="6.8" ry="4.4" fill="#c2cedf" stroke="#7f90b0" stroke-width="0.6" transform="rotate(26.2 688.9 1853.8)"/>
<ellipse cx="468.7" cy="1855.5" rx="6.8" ry="4.4" fill="#8a6a14" stroke="#5e4a0e" stroke-width="0.6" transform="rotate(-1.5 468.7 1855.5)"/>
<ellipse cx="480.9" cy="1854.7" rx="6.8" ry="4.4" fill="#c2cedf" stroke="#7f90b0" stroke-width="0.6" transform="rotate(-7.6 480.9 1854.7)"/>
<ellipse cx="492.6" cy="1851.4" rx="6.8" ry="4.4" fill="#8a6a14" stroke="#5e4a0e" stroke-width="0.6" transform="rotate(-30.5 492.6 1851.4)"/>
<ellipse cx="502" cy="1843.8" rx="6.8" ry="4.4" fill="#c2cedf" stroke="#7f90b0" stroke-width="0.6" transform="rotate(-45.3 502 1843.8)"/>
<ellipse cx="510.6" cy="1835.1" rx="6.8" ry="4.4" fill="#8a6a14" stroke="#5e4a0e" stroke-width="0.6" transform="rotate(-43.5 510.6 1835.1)"/>
<ellipse cx="520.4" cy="1828" rx="6.8" ry="4.4" fill="#c2cedf" stroke="#7f90b0" stroke-width="0.6" transform="rotate(-26.2 520.4 1828)"/>
<ellipse cx="532.3" cy="1825.2" rx="6.8" ry="4.4" fill="#8a6a14" stroke="#5e4a0e" stroke-width="0.6" transform="rotate(-5.8 532.3 1825.2)"/>
<ellipse cx="544.4" cy="1824.9" rx="6.8" ry="4.4" fill="#c2cedf" stroke="#7f90b0" stroke-width="0.6" transform="rotate(0.7 544.4 1824.9)"/>
<ellipse cx="556.6" cy="1824.8" rx="6.8" ry="4.4" fill="#8a6a14" stroke="#5e4a0e" stroke-width="0.6" transform="rotate(-3.4 556.6 1824.8)"/>
<ellipse cx="568.4" cy="1821.9" rx="6.8" ry="4.4" fill="#c2cedf" stroke="#7f90b0" stroke-width="0.6" transform="rotate(-27.6 568.4 1821.9)"/>
<ellipse cx="579" cy="1815.8" rx="6.8" ry="4.4" fill="#8a6a14" stroke="#5e4a0e" stroke-width="0.6" transform="rotate(-25.7 579 1815.8)"/>
<ellipse cx="590.4" cy="1816.7" rx="6.8" ry="4.4" fill="#c2cedf" stroke="#7f90b0" stroke-width="0.6" transform="rotate(37 590.4 1816.7)"/>
<ellipse cx="598.5" cy="1825.8" rx="6.8" ry="4.4" fill="#8a6a14" stroke="#5e4a0e" stroke-width="0.6" transform="rotate(53.6 598.5 1825.8)"/>
<ellipse cx="606.1" cy="1835.3" rx="6.8" ry="4.4" fill="#c2cedf" stroke="#7f90b0" stroke-width="0.6" transform="rotate(46.6 606.1 1835.3)"/>
<ellipse cx="615.7" cy="1842.8" rx="6.8" ry="4.4" fill="#8a6a14" stroke="#5e4a0e" stroke-width="0.6" transform="rotate(32.5 615.7 1842.8)"/>
<ellipse cx="626.3" cy="1848.8" rx="6.8" ry="4.4" fill="#c2cedf" stroke="#7f90b0" stroke-width="0.6" transform="rotate(27.9 626.3 1848.8)"/>
<ellipse cx="637.1" cy="1854.4" rx="6.8" ry="4.4" fill="#8a6a14" stroke="#5e4a0e" stroke-width="0.6" transform="rotate(27.2 637.1 1854.4)"/>
<ellipse cx="647.8" cy="1860.3" rx="6.8" ry="4.4" fill="#c2cedf" stroke="#7f90b0" stroke-width="0.6" transform="rotate(31.1 647.8 1860.3)"/>
<ellipse cx="658.1" cy="1866.8" rx="6.8" ry="4.4" fill="#8a6a14" stroke="#5e4a0e" stroke-width="0.6" transform="rotate(33.1 658.1 1866.8)"/>
<ellipse cx="479.2" cy="1871.1" rx="6.8" ry="4.4" fill="#8a6a14" stroke="#5e4a0e" stroke-width="0.6" transform="rotate(5.9 479.2 1871.1)"/>
<ellipse cx="491.4" cy="1871.6" rx="6.8" ry="4.4" fill="#c2cedf" stroke="#7f90b0" stroke-width="0.6" transform="rotate(-6.1 491.4 1871.6)"/>
<ellipse cx="503.1" cy="1868.3" rx="6.8" ry="4.4" fill="#8a6a14" stroke="#5e4a0e" stroke-width="0.6" transform="rotate(-27.2 503.1 1868.3)"/>
<ellipse cx="512.8" cy="1860.9" rx="6.8" ry="4.4" fill="#c2cedf" stroke="#7f90b0" stroke-width="0.6" transform="rotate(-40.7 512.8 1860.9)"/>
<ellipse cx="522" cy="1852.9" rx="6.8" ry="4.4" fill="#8a6a14" stroke="#5e4a0e" stroke-width="0.6" transform="rotate(-39.3 522 1852.9)"/>
<ellipse cx="532.1" cy="1846.2" rx="6.8" ry="4.4" fill="#c2cedf" stroke="#7f90b0" stroke-width="0.6" transform="rotate(-23.3 532.1 1846.2)"/>
<ellipse cx="544" cy="1844.1" rx="6.8" ry="4.4" fill="#8a6a14" stroke="#5e4a0e" stroke-width="0.6" transform="rotate(0.2 544 1844.1)"/>
<ellipse cx="556.1" cy="1845.4" rx="6.8" ry="4.4" fill="#c2cedf" stroke="#7f90b0" stroke-width="0.6" transform="rotate(8.7 556.1 1845.4)"/>
<ellipse cx="568.3" cy="1846.5" rx="6.8" ry="4.4" fill="#8a6a14" stroke="#5e4a0e" stroke-width="0.6" transform="rotate(-2.9 568.3 1846.5)"/>
<ellipse cx="580" cy="1843.3" rx="6.8" ry="4.4" fill="#c2cedf" stroke="#7f90b0" stroke-width="0.6" transform="rotate(-24.4 580 1843.3)"/>
<ellipse cx="591.2" cy="1838.7" rx="6.8" ry="4.4" fill="#8a6a14" stroke="#5e4a0e" stroke-width="0.6" transform="rotate(-16.7 591.2 1838.7)"/>
<ellipse cx="603.2" cy="1839" rx="6.8" ry="4.4" fill="#c2cedf" stroke="#7f90b0" stroke-width="0.6" transform="rotate(14.1 603.2 1839)"/>
<ellipse cx="614.6" cy="1843.4" rx="6.8" ry="4.4" fill="#8a6a14" stroke="#5e4a0e" stroke-width="0.6" transform="rotate(24 614.6 1843.4)"/>
<ellipse cx="625.9" cy="1848.1" rx="6.8" ry="4.4" fill="#c2cedf" stroke="#7f90b0" stroke-width="0.6" transform="rotate(18.5 625.9 1848.1)"/>
<ellipse cx="637.8" cy="1850.3" rx="6.8" ry="4.4" fill="#8a6a14" stroke="#5e4a0e" stroke-width="0.6" transform="rotate(2.1 637.8 1850.3)"/>
<ellipse cx="650" cy="1850" rx="6.8" ry="4.4" fill="#c2cedf" stroke="#7f90b0" stroke-width="0.6" transform="rotate(-3.8 650 1850)"/>
<ellipse cx="662.2" cy="1849.5" rx="6.8" ry="4.4" fill="#8a6a14" stroke="#5e4a0e" stroke-width="0.6" transform="rotate(0.4 662.2 1849.5)"/>
<ellipse cx="674.4" cy="1849.8" rx="6.8" ry="4.4" fill="#c2cedf" stroke="#7f90b0" stroke-width="0.6" transform="rotate(1.1 674.4 1849.8)"/>
<ellipse cx="686.6" cy="1849.8" rx="6.8" ry="4.4" fill="#8a6a14" stroke="#5e4a0e" stroke-width="0.6" transform="rotate(-1.7 686.6 1849.8)"/>
<ellipse cx="698.8" cy="1849.1" rx="6.8" ry="4.4" fill="#c2cedf" stroke="#7f90b0" stroke-width="0.6" transform="rotate(-4.1 698.8 1849.1)"/>
<ellipse cx="710.9" cy="1848" rx="6.8" ry="4.4" fill="#8a6a14" stroke="#5e4a0e" stroke-width="0.6" transform="rotate(-5.7 710.9 1848)"/>
<ellipse cx="723" cy="1846.5" rx="6.8" ry="4.4" fill="#c2cedf" stroke="#7f90b0" stroke-width="0.6" transform="rotate(-8 723 1846.5)"/>
<ellipse cx="735" cy="1844.2" rx="6.8" ry="4.4" fill="#8a6a14" stroke="#5e4a0e" stroke-width="0.6" transform="rotate(-15.1 735 1844.2)"/>
<ellipse cx="746.6" cy="1840.3" rx="6.8" ry="4.4" fill="#c2cedf" stroke="#7f90b0" stroke-width="0.6" transform="rotate(-20.8 746.6 1840.3)"/>
<ellipse cx="479.9" cy="1902.5" rx="6.8" ry="4.4" fill="#8a6a14" stroke="#5e4a0e" stroke-width="0.6" transform="rotate(-41.2 479.9 1902.5)"/>
<ellipse cx="489.3" cy="1894.7" rx="6.8" ry="4.4" fill="#c2cedf" stroke="#7f90b0" stroke-width="0.6" transform="rotate(-37.2 489.3 1894.7)"/>
<ellipse cx="499.5" cy="1888" rx="6.8" ry="4.4" fill="#8a6a14" stroke="#5e4a0e" stroke-width="0.6" transform="rotate(-28.1 499.5 1888)"/>
<ellipse cx="510.6" cy="1882.9" rx="6.8" ry="4.4" fill="#c2cedf" stroke="#7f90b0" stroke-width="0.6" transform="rotate(-23.4 510.6 1882.9)"/>
<ellipse cx="522" cy="1878.6" rx="6.8" ry="4.4" fill="#8a6a14" stroke="#5e4a0e" stroke-width="0.6" transform="rotate(-17.8 522 1878.6)"/>
<ellipse cx="533.9" cy="1876.1" rx="6.8" ry="4.4" fill="#c2cedf" stroke="#7f90b0" stroke-width="0.6" transform="rotate(-7.1 533.9 1876.1)"/>
<ellipse cx="545.9" cy="1877.3" rx="6.8" ry="4.4" fill="#8a6a14" stroke="#5e4a0e" stroke-width="0.6" transform="rotate(20.5 545.9 1877.3)"/>
<ellipse cx="557" cy="1882.4" rx="6.8" ry="4.4" fill="#c2cedf" stroke="#7f90b0" stroke-width="0.6" transform="rotate(28.7 557 1882.4)"/>
<ellipse cx="567.8" cy="1888" rx="6.8" ry="4.4" fill="#8a6a14" stroke="#5e4a0e" stroke-width="0.6" transform="rotate(23.6 567.8 1888)"/>
<ellipse cx="579.6" cy="1891" rx="6.8" ry="4.4" fill="#c2cedf" stroke="#7f90b0" stroke-width="0.6" transform="rotate(8.5 579.6 1891)"/>
<ellipse cx="591.8" cy="1891.3" rx="6.8" ry="4.4" fill="#8a6a14" stroke="#5e4a0e" stroke-width="0.6" transform="rotate(-4.5 591.8 1891.3)"/>
<ellipse cx="603.7" cy="1888.8" rx="6.8" ry="4.4" fill="#c2cedf" stroke="#7f90b0" stroke-width="0.6" transform="rotate(-21.7 603.7 1888.8)"/>
<ellipse cx="614.8" cy="1883.7" rx="6.8" ry="4.4" fill="#8a6a14" stroke="#5e4a0e" stroke-width="0.6" transform="rotate(-24.2 614.8 1883.7)"/>
<ellipse cx="626.5" cy="1880.5" rx="6.8" ry="4.4" fill="#c2cedf" stroke="#7f90b0" stroke-width="0.6" transform="rotate(-10.3 626.5 1880.5)"/>
<ellipse cx="638.6" cy="1878.9" rx="6.8" ry="4.4" fill="#8a6a14" stroke="#5e4a0e" stroke-width="0.6" transform="rotate(-2 638.6 1878.9)"/>
<ellipse cx="650.3" cy="1881.3" rx="6.8" ry="4.4" fill="#c2cedf" stroke="#7f90b0" stroke-width="0.6" transform="rotate(38.9 650.3 1881.3)"/>
<ellipse cx="657" cy="1891.3" rx="6.8" ry="4.4" fill="#8a6a14" stroke="#5e4a0e" stroke-width="0.6" transform="rotate(67.5 657 1891.3)"/>
<ellipse cx="661.9" cy="1902.5" rx="6.8" ry="4.4" fill="#c2cedf" stroke="#7f90b0" stroke-width="0.6" transform="rotate(58.3 661.9 1902.5)"/>
<ellipse cx="670.5" cy="1911" rx="6.8" ry="4.4" fill="#8a6a14" stroke="#5e4a0e" stroke-width="0.6" transform="rotate(31.4 670.5 1911)"/>
<ellipse cx="681.7" cy="1915.7" rx="6.8" ry="4.4" fill="#c2cedf" stroke="#7f90b0" stroke-width="0.6" transform="rotate(15.4 681.7 1915.7)"/>
<ellipse cx="693.7" cy="1917.6" rx="6.8" ry="4.4" fill="#8a6a14" stroke="#5e4a0e" stroke-width="0.6" transform="rotate(4.6 693.7 1917.6)"/>
<ellipse cx="705.9" cy="1918.1" rx="6.8" ry="4.4" fill="#c2cedf" stroke="#7f90b0" stroke-width="0.6" transform="rotate(0.3 705.9 1918.1)"/>
<ellipse cx="718.1" cy="1918.1" rx="6.8" ry="4.4" fill="#8a6a14" stroke="#5e4a0e" stroke-width="0.6" transform="rotate(-0.6 718.1 1918.1)"/>
<ellipse cx="730.3" cy="1918" rx="6.8" ry="4.4" fill="#c2cedf" stroke="#7f90b0" stroke-width="0.6" transform="rotate(0.3 730.3 1918)"/>
<ellipse cx="742.5" cy="1918.1" rx="6.8" ry="4.4" fill="#8a6a14" stroke="#5e4a0e" stroke-width="0.6" transform="rotate(0.2 742.5 1918.1)"/>
<ellipse cx="754.7" cy="1918.1" rx="6.8" ry="4.4" fill="#c2cedf" stroke="#7f90b0" stroke-width="0.6" transform="rotate(-0.3 754.7 1918.1)"/>
<ellipse cx="687.8" cy="1848.5" rx="6.8" ry="4.4" fill="#8a6a14" stroke="#5e4a0e" stroke-width="0.6" transform="rotate(1.4 687.8 1848.5)"/>
<ellipse cx="700" cy="1848.6" rx="6.8" ry="4.4" fill="#c2cedf" stroke="#7f90b0" stroke-width="0.6" transform="rotate(-1.7 700 1848.6)"/>
<ellipse cx="712.2" cy="1847.6" rx="6.8" ry="4.4" fill="#8a6a14" stroke="#5e4a0e" stroke-width="0.6" transform="rotate(-8.1 712.2 1847.6)"/>
<ellipse cx="722.9" cy="1842.5" rx="6.8" ry="4.4" fill="#c2cedf" stroke="#7f90b0" stroke-width="0.6" transform="rotate(-49.2 722.9 1842.5)"/>
<ellipse cx="728.8" cy="1831.9" rx="6.8" ry="4.4" fill="#8a6a14" stroke="#5e4a0e" stroke-width="0.6" transform="rotate(-67.4 728.8 1831.9)"/>
<ellipse cx="733.9" cy="1820.9" rx="6.8" ry="4.4" fill="#c2cedf" stroke="#7f90b0" stroke-width="0.6" transform="rotate(-56.9 733.9 1820.9)"/>
<ellipse cx="743.9" cy="1814.4" rx="6.8" ry="4.4" fill="#8a6a14" stroke="#5e4a0e" stroke-width="0.6" transform="rotate(-18.1 743.9 1814.4)"/>
<ellipse cx="755.9" cy="1812.4" rx="6.8" ry="4.4" fill="#c2cedf" stroke="#7f90b0" stroke-width="0.6" transform="rotate(-5.8 755.9 1812.4)"/>
<ellipse cx="657.7" cy="1860.7" rx="6.8" ry="4.4" fill="#8a6a14" stroke="#5e4a0e" stroke-width="0.6" transform="rotate(27.5 657.7 1860.7)"/>
<ellipse cx="668.5" cy="1866.3" rx="6.8" ry="4.4" fill="#c2cedf" stroke="#7f90b0" stroke-width="0.6" transform="rotate(26.3 668.5 1866.3)"/>
<ellipse cx="679.5" cy="1871.5" rx="6.8" ry="4.4" fill="#8a6a14" stroke="#5e4a0e" stroke-width="0.6" transform="rotate(24.1 679.5 1871.5)"/>
<ellipse cx="691" cy="1875.7" rx="6.8" ry="4.4" fill="#c2cedf" stroke="#7f90b0" stroke-width="0.6" transform="rotate(17.6 691 1875.7)"/>
<ellipse cx="702.7" cy="1879" rx="6.8" ry="4.4" fill="#8a6a14" stroke="#5e4a0e" stroke-width="0.6" transform="rotate(12.1 702.7 1879)"/>
<ellipse cx="714.8" cy="1880.8" rx="6.8" ry="4.4" fill="#c2cedf" stroke="#7f90b0" stroke-width="0.6" transform="rotate(5.2 714.8 1880.8)"/>
<ellipse cx="727" cy="1880.9" rx="6.8" ry="4.4" fill="#8a6a14" stroke="#5e4a0e" stroke-width="0.6" transform="rotate(-3.9 727 1880.9)"/>
<ellipse cx="739" cy="1879.1" rx="6.8" ry="4.4" fill="#c2cedf" stroke="#7f90b0" stroke-width="0.6" transform="rotate(-11.5 739 1879.1)"/>
<ellipse cx="750.9" cy="1876.4" rx="6.8" ry="4.4" fill="#8a6a14" stroke="#5e4a0e" stroke-width="0.6" transform="rotate(-13.6 750.9 1876.4)"/>
<ellipse cx="762.8" cy="1873.4" rx="6.8" ry="4.4" fill="#c2cedf" stroke="#7f90b0" stroke-width="0.6" transform="rotate(-13.9 762.8 1873.4)"/>
<rect x="597.5" y="1763" width="62.1" height="9.7" fill="#000"/>
<rect x="597.5" y="1938" width="62.1" height="9.5" fill="#000"/>
<line x1="629.5" y1="1777" x2="629.5" y2="1912.5" stroke="#c00000" stroke-width="3.2" />
<polygon points="623.2,1910.5 635.8,1910.5 629.5,1928.5" fill="#c00000" stroke="none" stroke-width="0" stroke-linejoin="miter" />
<circle cx="664.9" cy="1851.6" r="19" fill="#c00000" stroke="#5a0000" stroke-width="1"/>
<text x="661.9" y="1861.6" font-family="'Liberation Sans', sans-serif" font-size="31" font-weight="bold" fill="#000" text-anchor="middle" >e</text>
<line x1="673.9" y1="1843.1" x2="679.9" y2="1843.1" stroke="#000" stroke-width="2.4" />
<text x="519.6" y="2006" font-family="'Liberation Serif', serif" font-size="32" font-weight="bold" fill="#000" text-anchor="start" textLength="196.4" lengthAdjust="spacingAndGlyphs" >1D orientation</text>
<polygon points="841.6,1814.8 889,1773.7 1176.5,1773.7 1130.2,1814.8" fill="#eaf2e3" stroke="#dde4d5" stroke-width="1.5"/>
<polygon points="1130.2,1814.8 1176.5,1773.7 1176.5,1899 1130.2,1941.2" fill="#bcc4b3" stroke="#dde4d5" stroke-width="0.8"/>
<rect x="841.6" y="1814.8" width="288.6" height="126.4" fill="#e9f1e1" stroke="#dde4d5" stroke-width="1.5"/>
<polygon points="860.5,1850.6 1117,1850.6 1102.8,1932.7 845.8,1932.7" fill="#e2ecd9" stroke="#7aa86a" stroke-width="1"/>
<ellipse cx="869.9" cy="1916.2" rx="4.4" ry="2.1" fill="#8a6a14" stroke="#5e4a0e" stroke-width="0.6" transform="rotate(-24.7 869.9 1916.2)"/>
<ellipse cx="878.1" cy="1912.4" rx="4.4" ry="2.1" fill="#c2cedf" stroke="#7f90b0" stroke-width="0.6" transform="rotate(-24.1 878.1 1912.4)"/>
<ellipse cx="886.5" cy="1909.1" rx="4.4" ry="2.1" fill="#8a6a14" stroke="#5e4a0e" stroke-width="0.6" transform="rotate(-17.7 886.5 1909.1)"/>
<ellipse cx="895.1" cy="1906.8" rx="4.4" ry="2.1" fill="#c2cedf" stroke="#7f90b0" stroke-width="0.6" transform="rotate(-9.3 895.1 1906.8)"/>
<ellipse cx="904.1" cy="1906.2" rx="4.4" ry="2.1" fill="#8a6a14" stroke="#5e4a0e" stroke-width="0.6" transform="rotate(0.3 904.1 1906.2)"/>
<ellipse cx="913.1" cy="1906.8" rx="4.4" ry="2.1" fill="#c2cedf" stroke="#7f90b0" stroke-width="0.6" transform="rotate(5.4 913.1 1906.8)"/>
<ellipse cx="922" cy="1907.8" rx="4.4" ry="2.1" fill="#8a6a14" stroke="#5e4a0e" stroke-width="0.6" transform="rotate(7.4 922 1907.8)"/>
<ellipse cx="930.9" cy="1908.9" rx="4.4" ry="2.1" fill="#c2cedf" stroke="#7f90b0" stroke-width="0.6" transform="rotate(6.6 930.9 1908.9)"/>
<ellipse cx="939.9" cy="1909.6" rx="4.4" ry="2.1" fill="#8a6a14" stroke="#5e4a0e" stroke-width="0.6" transform="rotate(1 939.9 1909.6)"/>
<ellipse cx="948.9" cy="1909.6" rx="4.4" ry="2.1" fill="#c2cedf" stroke="#7f90b0" stroke-width="0.6" transform="rotate(-0.7 948.9 1909.6)"/>
<ellipse cx="957.9" cy="1909.4" rx="4.4" ry="2.1" fill="#8a6a14" stroke="#5e4a0e" stroke-width="0.6" transform="rotate(-1.9 957.9 1909.4)"/>
<ellipse cx="966.9" cy="1909.1" rx="4.4" ry="2.1" fill="#c2cedf" stroke="#7f90b0" stroke-width="0.6" transform="rotate(-2.6 966.9 1909.1)"/>
<ellipse cx="975.9" cy="1908.6" rx="4.4" ry="2.1" fill="#8a6a14" stroke="#5e4a0e" stroke-width="0.6" transform="rotate(-3.1 975.9 1908.6)"/>
<ellipse cx="984.8" cy="1907.7" rx="4.4" ry="2.1" fill="#c2cedf" stroke="#7f90b0" stroke-width="0.6" transform="rotate(-8.7 984.8 1907.7)"/>
<ellipse cx="993.7" cy="1906.3" rx="4.4" ry="2.1" fill="#8a6a14" stroke="#5e4a0e" stroke-width="0.6" transform="rotate(-4.1 993.7 1906.3)"/>
<ellipse cx="1002.5" cy="1907.7" rx="4.4" ry="2.1" fill="#c2cedf" stroke="#7f90b0" stroke-width="0.6" transform="rotate(26.3 1002.5 1907.7)"/>
<ellipse cx="1009.9" cy="1912.7" rx="4.4" ry="2.1" fill="#8a6a14" stroke="#5e4a0e" stroke-width="0.6" transform="rotate(35.8 1009.9 1912.7)"/>
<ellipse cx="1017.6" cy="1917.5" rx="4.4" ry="2.1" fill="#c2cedf" stroke="#7f90b0" stroke-width="0.6" transform="rotate(34.1 1017.6 1917.5)"/>
<ellipse cx="1025.4" cy="1922" rx="4.4" ry="2.1" fill="#8a6a14" stroke="#5e4a0e" stroke-width="0.6" transform="rotate(22.3 1025.4 1922)"/>
<ellipse cx="1034.2" cy="1923.7" rx="4.4" ry="2.1" fill="#c2cedf" stroke="#7f90b0" stroke-width="0.6" transform="rotate(4.1 1034.2 1923.7)"/>
<ellipse cx="1043.2" cy="1923.8" rx="4.4" ry="2.1" fill="#8a6a14" stroke="#5e4a0e" stroke-width="0.6" transform="rotate(-1.4 1043.2 1923.8)"/>
<ellipse cx="1052.2" cy="1923.5" rx="4.4" ry="2.1" fill="#c2cedf" stroke="#7f90b0" stroke-width="0.6" transform="rotate(-2.2 1052.2 1923.5)"/>
<ellipse cx="1061.1" cy="1923.3" rx="4.4" ry="2.1" fill="#8a6a14" stroke="#5e4a0e" stroke-width="0.6" transform="rotate(-0.6 1061.1 1923.3)"/>
<ellipse cx="1070.1" cy="1923.3" rx="4.4" ry="2.1" fill="#c2cedf" stroke="#7f90b0" stroke-width="0.6" transform="rotate(0 1070.1 1923.3)"/>
<ellipse cx="1079.1" cy="1923.3" rx="4.4" ry="2.1" fill="#8a6a14" stroke="#5e4a0e" stroke-width="0.6" transform="rotate(0 1079.1 1923.3)"/>
<ellipse cx="1088.1" cy="1923.3" rx="4.4" ry="2.1" fill="#c2cedf" stroke="#7f90b0" stroke-width="0.6" transform="rotate(0 1088.1 1923.3)"/>
<ellipse cx="1097.1" cy="1923.3" rx="4.4" ry="2.1" fill="#8a6a14" stroke="#5e4a0e" stroke-width="0.6" transform="rotate(0 1097.1 1923.3)"/>
<ellipse cx="1045.1" cy="1906.7" rx="4.4" ry="2.1" fill="#8a6a14" stroke="#5e4a0e" stroke-width="0.6" transform="rotate(4 1045.1 1906.7)"/>
<ellipse cx="1054.1" cy="1907.3" rx="4.4" ry="2.1" fill="#c2cedf" stroke="#7f90b0" stroke-width="0.6" transform="rotate(2.9 1054.1 1907.3)"/>
<ellipse cx="1063.1" cy="1907.5" rx="4.4" ry="2.1" fill="#8a6a14" stroke="#5e4a0e" stroke-width="0.6" transform="rotate(-0.5 1063.1 1907.5)"/>
<ellipse cx="1072.1" cy="1907.2" rx="4.4" ry="2.1" fill="#c2cedf" stroke="#7f90b0" stroke-width="0.6" transform="rotate(-2.3 1072.1 1907.2)"/>
<ellipse cx="1081.1" cy="1906.8" rx="4.4" ry="2.1" fill="#8a6a14" stroke="#5e4a0e" stroke-width="0.6" transform="rotate(-2.8 1081.1 1906.8)"/>
<polygon points="871,1823.2 1127.4,1823.2 1114.4,1905.4 857.4,1905.4" fill="#e4eddb" fill-opacity="0.85" stroke="#7aa86a" stroke-width="1"/>
<ellipse cx="920.7" cy="1834.6" rx="4.4" ry="2.1" fill="#8a6a14" stroke="#5e4a0e" stroke-width="0.6" transform="rotate(-17.7 920.7 1834.6)"/>
<ellipse cx="929.4" cy="1832.5" rx="4.4" ry="2.1" fill="#c2cedf" stroke="#7f90b0" stroke-width="0.6" transform="rotate(-5.5 929.4 1832.5)"/>
<ellipse cx="938.2" cy="1833.7" rx="4.4" ry="2.1" fill="#8a6a14" stroke="#5e4a0e" stroke-width="0.6" transform="rotate(24.7 938.2 1833.7)"/>
<ellipse cx="946" cy="1838.2" rx="4.4" ry="2.1" fill="#c2cedf" stroke="#7f90b0" stroke-width="0.6" transform="rotate(33.3 946 1838.2)"/>
<ellipse cx="953.7" cy="1842.8" rx="4.4" ry="2.1" fill="#8a6a14" stroke="#5e4a0e" stroke-width="0.6" transform="rotate(27 953.7 1842.8)"/>
<ellipse cx="962.2" cy="1845.6" rx="4.4" ry="2.1" fill="#c2cedf" stroke="#7f90b0" stroke-width="0.6" transform="rotate(9.7 962.2 1845.6)"/>
<ellipse cx="971.2" cy="1846.5" rx="4.4" ry="2.1" fill="#8a6a14" stroke="#5e4a0e" stroke-width="0.6" transform="rotate(3.1 971.2 1846.5)"/>
<ellipse cx="980.2" cy="1846.6" rx="4.4" ry="2.1" fill="#c2cedf" stroke="#7f90b0" stroke-width="0.6" transform="rotate(-0.9 980.2 1846.6)"/>
<ellipse cx="989.2" cy="1846.4" rx="4.4" ry="2.1" fill="#8a6a14" stroke="#5e4a0e" stroke-width="0.6" transform="rotate(-1.1 989.2 1846.4)"/>
<ellipse cx="998.2" cy="1846.4" rx="4.4" ry="2.1" fill="#c2cedf" stroke="#7f90b0" stroke-width="0.6" transform="rotate(1 998.2 1846.4)"/>
<ellipse cx="1007.2" cy="1846.5" rx="4.4" ry="2.1" fill="#8a6a14" stroke="#5e4a0e" stroke-width="0.6" transform="rotate(0.5 1007.2 1846.5)"/>
<ellipse cx="1016.2" cy="1846.9" rx="4.4" ry="2.1" fill="#c2cedf" stroke="#7f90b0" stroke-width="0.6" transform="rotate(7.2 1016.2 1846.9)"/>
<ellipse cx="1024.9" cy="1848.8" rx="4.4" ry="2.1" fill="#8a6a14" stroke="#5e4a0e" stroke-width="0.6" transform="rotate(19.2 1024.9 1848.8)"/>
<ellipse cx="1033.2" cy="1852.3" rx="4.4" ry="2.1" fill="#c2cedf" stroke="#7f90b0" stroke-width="0.6" transform="rotate(24.6 1033.2 1852.3)"/>
<ellipse cx="1041.4" cy="1856.1" rx="4.4" ry="2.1" fill="#8a6a14" stroke="#5e4a0e" stroke-width="0.6" transform="rotate(26.2 1041.4 1856.1)"/>
<ellipse cx="1049.4" cy="1860.1" rx="4.4" ry="2.1" fill="#c2cedf" stroke="#7f90b0" stroke-width="0.6" transform="rotate(26.9 1049.4 1860.1)"/>
<ellipse cx="1057.4" cy="1864.2" rx="4.4" ry="2.1" fill="#8a6a14" stroke="#5e4a0e" stroke-width="0.6" transform="rotate(27.2 1057.4 1864.2)"/>
<ellipse cx="875.6" cy="1862" rx="4.4" ry="2.1" fill="#8a6a14" stroke="#5e4a0e" stroke-width="0.6" transform="rotate(-1.3 875.6 1862)"/>
<ellipse cx="884.6" cy="1861.5" rx="4.4" ry="2.1" fill="#c2cedf" stroke="#7f90b0" stroke-width="0.6" transform="rotate(-5.1 884.6 1861.5)"/>
<ellipse cx="893.4" cy="1860" rx="4.4" ry="2.1" fill="#8a6a14" stroke="#5e4a0e" stroke-width="0.6" transform="rotate(-17.3 893.4 1860)"/>
<ellipse cx="901.8" cy="1856.7" rx="4.4" ry="2.1" fill="#c2cedf" stroke="#7f90b0" stroke-width="0.6" transform="rotate(-25.2 901.8 1856.7)"/>
<ellipse cx="909.9" cy="1852.9" rx="4.4" ry="2.1" fill="#8a6a14" stroke="#5e4a0e" stroke-width="0.6" transform="rotate(-23.5 909.9 1852.9)"/>
<ellipse cx="918.3" cy="1849.7" rx="4.4" ry="2.1" fill="#c2cedf" stroke="#7f90b0" stroke-width="0.6" transform="rotate(-18.3 918.3 1849.7)"/>
<ellipse cx="927.1" cy="1847.5" rx="4.4" ry="2.1" fill="#8a6a14" stroke="#5e4a0e" stroke-width="0.6" transform="rotate(-12.1 927.1 1847.5)"/>
<ellipse cx="935.9" cy="1845.7" rx="4.4" ry="2.1" fill="#c2cedf" stroke="#7f90b0" stroke-width="0.6" transform="rotate(-10.3 935.9 1845.7)"/>
<ellipse cx="944.8" cy="1844.2" rx="4.4" ry="2.1" fill="#8a6a14" stroke="#5e4a0e" stroke-width="0.6" transform="rotate(-7.5 944.8 1844.2)"/>
<ellipse cx="953.7" cy="1843.2" rx="4.4" ry="2.1" fill="#c2cedf" stroke="#7f90b0" stroke-width="0.6" transform="rotate(-5.5 953.7 1843.2)"/>
<ellipse cx="962.7" cy="1842.9" rx="4.4" ry="2.1" fill="#8a6a14" stroke="#5e4a0e" stroke-width="0.6" transform="rotate(0.2 962.7 1842.9)"/>
<ellipse cx="971.6" cy="1844.2" rx="4.4" ry="2.1" fill="#c2cedf" stroke="#7f90b0" stroke-width="0.6" transform="rotate(17.4 971.6 1844.2)"/>
<ellipse cx="979.8" cy="1847.7" rx="4.4" ry="2.1" fill="#8a6a14" stroke="#5e4a0e" stroke-width="0.6" transform="rotate(27.4 979.8 1847.7)"/>
<ellipse cx="987.6" cy="1852.3" rx="4.4" ry="2.1" fill="#c2cedf" stroke="#7f90b0" stroke-width="0.6" transform="rotate(31.6 987.6 1852.3)"/>
<ellipse cx="995.4" cy="1856.7" rx="4.4" ry="2.1" fill="#8a6a14" stroke="#5e4a0e" stroke-width="0.6" transform="rotate(22.3 995.4 1856.7)"/>
<ellipse cx="1003.9" cy="1859.7" rx="4.4" ry="2.1" fill="#c2cedf" stroke="#7f90b0" stroke-width="0.6" transform="rotate(16.4 1003.9 1859.7)"/>
<ellipse cx="1012.6" cy="1862" rx="4.4" ry="2.1" fill="#8a6a14" stroke="#5e4a0e" stroke-width="0.6" transform="rotate(13.9 1012.6 1862)"/>
<ellipse cx="1021.4" cy="1864" rx="4.4" ry="2.1" fill="#c2cedf" stroke="#7f90b0" stroke-width="0.6" transform="rotate(12.3 1021.4 1864)"/>
<ellipse cx="1030.2" cy="1865.9" rx="4.4" ry="2.1" fill="#8a6a14" stroke="#5e4a0e" stroke-width="0.6" transform="rotate(12.4 1030.2 1865.9)"/>
<ellipse cx="882.9" cy="1868.7" rx="4.4" ry="2.1" fill="#8a6a14" stroke="#5e4a0e" stroke-width="0.6" transform="rotate(-10.9 882.9 1868.7)"/>
<ellipse cx="891.7" cy="1867" rx="4.4" ry="2.1" fill="#c2cedf" stroke="#7f90b0" stroke-width="0.6" transform="rotate(-10.9 891.7 1867)"/>
<ellipse cx="900.5" cy="1865.3" rx="4.4" ry="2.1" fill="#8a6a14" stroke="#5e4a0e" stroke-width="0.6" transform="rotate(-10.8 900.5 1865.3)"/>
<ellipse cx="909.4" cy="1863.6" rx="4.4" ry="2.1" fill="#c2cedf" stroke="#7f90b0" stroke-width="0.6" transform="rotate(-11.3 909.4 1863.6)"/>
<ellipse cx="918.2" cy="1861.8" rx="4.4" ry="2.1" fill="#8a6a14" stroke="#5e4a0e" stroke-width="0.6" transform="rotate(-11.4 918.2 1861.8)"/>
<ellipse cx="927" cy="1860.1" rx="4.4" ry="2.1" fill="#c2cedf" stroke="#7f90b0" stroke-width="0.6" transform="rotate(-10.7 927 1860.1)"/>
<ellipse cx="935.9" cy="1858.5" rx="4.4" ry="2.1" fill="#8a6a14" stroke="#5e4a0e" stroke-width="0.6" transform="rotate(-9.5 935.9 1858.5)"/>
<ellipse cx="944.8" cy="1857.1" rx="4.4" ry="2.1" fill="#c2cedf" stroke="#7f90b0" stroke-width="0.6" transform="rotate(-10.4 944.8 1857.1)"/>
<ellipse cx="953.6" cy="1855.4" rx="4.4" ry="2.1" fill="#8a6a14" stroke="#5e4a0e" stroke-width="0.6" transform="rotate(-10.7 953.6 1855.4)"/>
<ellipse cx="962.5" cy="1854" rx="4.4" ry="2.1" fill="#c2cedf" stroke="#7f90b0" stroke-width="0.6" transform="rotate(-6.1 962.5 1854)"/>
<ellipse cx="971.5" cy="1853.4" rx="4.4" ry="2.1" fill="#8a6a14" stroke="#5e4a0e" stroke-width="0.6" transform="rotate(0.7 971.5 1853.4)"/>
<ellipse cx="980.4" cy="1854.4" rx="4.4" ry="2.1" fill="#c2cedf" stroke="#7f90b0" stroke-width="0.6" transform="rotate(12.4 980.4 1854.4)"/>
<ellipse cx="988.7" cy="1857.7" rx="4.4" ry="2.1" fill="#8a6a14" stroke="#5e4a0e" stroke-width="0.6" transform="rotate(27.4 988.7 1857.7)"/>
<ellipse cx="996.6" cy="1862" rx="4.4" ry="2.1" fill="#c2cedf" stroke="#7f90b0" stroke-width="0.6" transform="rotate(29.7 996.6 1862)"/>
<ellipse cx="1004.6" cy="1866.2" rx="4.4" ry="2.1" fill="#8a6a14" stroke="#5e4a0e" stroke-width="0.6" transform="rotate(26.2 1004.6 1866.2)"/>
<ellipse cx="1013.2" cy="1868.8" rx="4.4" ry="2.1" fill="#c2cedf" stroke="#7f90b0" stroke-width="0.6" transform="rotate(8.1 1013.2 1868.8)"/>
<ellipse cx="1022.2" cy="1869" rx="4.4" ry="2.1" fill="#8a6a14" stroke="#5e4a0e" stroke-width="0.6" transform="rotate(-4.5 1022.2 1869)"/>
<ellipse cx="1031.1" cy="1867.9" rx="4.4" ry="2.1" fill="#c2cedf" stroke="#7f90b0" stroke-width="0.6" transform="rotate(-8.5 1031.1 1867.9)"/>
<ellipse cx="1040" cy="1866.5" rx="4.4" ry="2.1" fill="#8a6a14" stroke="#5e4a0e" stroke-width="0.6" transform="rotate(-6.6 1040 1866.5)"/>
<ellipse cx="884.7" cy="1883.6" rx="4.4" ry="2.1" fill="#8a6a14" stroke="#5e4a0e" stroke-width="0.6" transform="rotate(-24.4 884.7 1883.6)"/>
<ellipse cx="892.9" cy="1880" rx="4.4" ry="2.1" fill="#c2cedf" stroke="#7f90b0" stroke-width="0.6" transform="rotate(-23.3 892.9 1880)"/>
<ellipse cx="901.4" cy="1876.8" rx="4.4" ry="2.1" fill="#8a6a14" stroke="#5e4a0e" stroke-width="0.6" transform="rotate(-17.5 901.4 1876.8)"/>
<ellipse cx="910.1" cy="1874.8" rx="4.4" ry="2.1" fill="#c2cedf" stroke="#7f90b0" stroke-width="0.6" transform="rotate(-4.8 910.1 1874.8)"/>
<ellipse cx="919.1" cy="1874.5" rx="4.4" ry="2.1" fill="#8a6a14" stroke="#5e4a0e" stroke-width="0.6" transform="rotate(1.9 919.1 1874.5)"/>
<ellipse cx="928.1" cy="1875.2" rx="4.4" ry="2.1" fill="#c2cedf" stroke="#7f90b0" stroke-width="0.6" transform="rotate(5.2 928.1 1875.2)"/>
<ellipse cx="937" cy="1876.1" rx="4.4" ry="2.1" fill="#8a6a14" stroke="#5e4a0e" stroke-width="0.6" transform="rotate(5.7 937 1876.1)"/>
<ellipse cx="946" cy="1876.8" rx="4.4" ry="2.1" fill="#c2cedf" stroke="#7f90b0" stroke-width="0.6" transform="rotate(2.9 946 1876.8)"/>
<ellipse cx="955" cy="1877.1" rx="4.4" ry="2.1" fill="#8a6a14" stroke="#5e4a0e" stroke-width="0.6" transform="rotate(1.7 955 1877.1)"/>
<ellipse cx="964" cy="1877.4" rx="4.4" ry="2.1" fill="#c2cedf" stroke="#7f90b0" stroke-width="0.6" transform="rotate(1 964 1877.4)"/>
<ellipse cx="973" cy="1877.3" rx="4.4" ry="2.1" fill="#8a6a14" stroke="#5e4a0e" stroke-width="0.6" transform="rotate(-1.4 973 1877.3)"/>
<ellipse cx="982" cy="1876.9" rx="4.4" ry="2.1" fill="#c2cedf" stroke="#7f90b0" stroke-width="0.6" transform="rotate(-6.8 982 1876.9)"/>
<ellipse cx="990.9" cy="1875.4" rx="4.4" ry="2.1" fill="#8a6a14" stroke="#5e4a0e" stroke-width="0.6" transform="rotate(-12.5 990.9 1875.4)"/>
<ellipse cx="999.6" cy="1873.3" rx="4.4" ry="2.1" fill="#c2cedf" stroke="#7f90b0" stroke-width="0.6" transform="rotate(-12.8 999.6 1873.3)"/>
<ellipse cx="1008.4" cy="1871.6" rx="4.4" ry="2.1" fill="#8a6a14" stroke="#5e4a0e" stroke-width="0.6" transform="rotate(-7.2 1008.4 1871.6)"/>
<ellipse cx="1017.3" cy="1872.3" rx="4.4" ry="2.1" fill="#c2cedf" stroke="#7f90b0" stroke-width="0.6" transform="rotate(19.4 1017.3 1872.3)"/>
<ellipse cx="1022.9" cy="1879.2" rx="4.4" ry="2.1" fill="#8a6a14" stroke="#5e4a0e" stroke-width="0.6" transform="rotate(60.7 1022.9 1879.2)"/>
<ellipse cx="1028.7" cy="1885.9" rx="4.4" ry="2.1" fill="#c2cedf" stroke="#7f90b0" stroke-width="0.6" transform="rotate(34.2 1028.7 1885.9)"/>
<ellipse cx="1037.2" cy="1888.6" rx="4.4" ry="2.1" fill="#8a6a14" stroke="#5e4a0e" stroke-width="0.6" transform="rotate(9.5 1037.2 1888.6)"/>
<ellipse cx="1046.1" cy="1889.8" rx="4.4" ry="2.1" fill="#c2cedf" stroke="#7f90b0" stroke-width="0.6" transform="rotate(5.1 1046.1 1889.8)"/>
<ellipse cx="1055.1" cy="1890.5" rx="4.4" ry="2.1" fill="#8a6a14" stroke="#5e4a0e" stroke-width="0.6" transform="rotate(3.9 1055.1 1890.5)"/>
<ellipse cx="1064.1" cy="1891" rx="4.4" ry="2.1" fill="#c2cedf" stroke="#7f90b0" stroke-width="0.6" transform="rotate(2.4 1064.1 1891)"/>
<ellipse cx="1073.1" cy="1891.3" rx="4.4" ry="2.1" fill="#8a6a14" stroke="#5e4a0e" stroke-width="0.6" transform="rotate(2 1073.1 1891.3)"/>
<ellipse cx="1082.1" cy="1891.6" rx="4.4" ry="2.1" fill="#c2cedf" stroke="#7f90b0" stroke-width="0.6" transform="rotate(2.1 1082.1 1891.6)"/>
<ellipse cx="1091.1" cy="1891.8" rx="4.4" ry="2.1" fill="#8a6a14" stroke="#5e4a0e" stroke-width="0.6" transform="rotate(-1.1 1091.1 1891.8)"/>
<ellipse cx="1100.1" cy="1891.4" rx="4.4" ry="2.1" fill="#c2cedf" stroke="#7f90b0" stroke-width="0.6" transform="rotate(-3.1 1100.1 1891.4)"/>
<ellipse cx="1109" cy="1890.8" rx="4.4" ry="2.1" fill="#8a6a14" stroke="#5e4a0e" stroke-width="0.6" transform="rotate(-4 1109 1890.8)"/>
<ellipse cx="1082.1" cy="1848.8" rx="4.4" ry="2.1" fill="#8a6a14" stroke="#5e4a0e" stroke-width="0.6" transform="rotate(-39.7 1082.1 1848.8)"/>
<ellipse cx="1089.5" cy="1843.8" rx="4.4" ry="2.1" fill="#c2cedf" stroke="#7f90b0" stroke-width="0.6" transform="rotate(-26.2 1089.5 1843.8)"/>
<ellipse cx="1098.3" cy="1842.3" rx="4.4" ry="2.1" fill="#8a6a14" stroke="#5e4a0e" stroke-width="0.6" transform="rotate(-2.9 1098.3 1842.3)"/>
<ellipse cx="1107.3" cy="1842.2" rx="4.4" ry="2.1" fill="#c2cedf" stroke="#7f90b0" stroke-width="0.6" transform="rotate(0.6 1107.3 1842.2)"/>
<ellipse cx="1080.9" cy="1857.1" rx="4.4" ry="2.1" fill="#8a6a14" stroke="#5e4a0e" stroke-width="0.6" transform="rotate(-11.5 1080.9 1857.1)"/>
<ellipse cx="1089.7" cy="1855.4" rx="4.4" ry="2.1" fill="#c2cedf" stroke="#7f90b0" stroke-width="0.6" transform="rotate(-10.2 1089.7 1855.4)"/>
<ellipse cx="1098.6" cy="1854.3" rx="4.4" ry="2.1" fill="#8a6a14" stroke="#5e4a0e" stroke-width="0.6" transform="rotate(-4 1098.6 1854.3)"/>
<ellipse cx="1107.6" cy="1853.8" rx="4.4" ry="2.1" fill="#c2cedf" stroke="#7f90b0" stroke-width="0.6" transform="rotate(-3.5 1107.6 1853.8)"/>
<ellipse cx="1076.7" cy="1872.8" rx="4.4" ry="2.1" fill="#8a6a14" stroke="#5e4a0e" stroke-width="0.6" transform="rotate(1 1076.7 1872.8)"/>
<ellipse cx="1085.7" cy="1872.9" rx="4.4" ry="2.1" fill="#c2cedf" stroke="#7f90b0" stroke-width="0.6" transform="rotate(0.1 1085.7 1872.9)"/>
<ellipse cx="1094.7" cy="1872.6" rx="4.4" ry="2.1" fill="#8a6a14" stroke="#5e4a0e" stroke-width="0.6" transform="rotate(-3.5 1094.7 1872.6)"/>
<ellipse cx="1103.7" cy="1871.8" rx="4.4" ry="2.1" fill="#c2cedf" stroke="#7f90b0" stroke-width="0.6" transform="rotate(-6.2 1103.7 1871.8)"/>
<ellipse cx="1112.6" cy="1870.8" rx="4.4" ry="2.1" fill="#8a6a14" stroke="#5e4a0e" stroke-width="0.6" transform="rotate(-6.6 1112.6 1870.8)"/>
<rect x="980.6" y="1768.4" width="62.4" height="8.5" fill="#000"/>
<rect x="980" y="1938.4" width="62.8" height="8.5" fill="#000"/>
<line x1="1013.3" y1="1783" x2="1013.3" y2="1906.2" stroke="#c00000" stroke-width="3.2" />
<polygon points="1007,1904.2 1019.6,1904.2 1013.3,1922.2" fill="#c00000" stroke="none" stroke-width="0" stroke-linejoin="miter" />
<circle cx="1059.2" cy="1859.6" r="19" fill="#c00000" stroke="#5a0000" stroke-width="1"/>
<text x="1056.2" y="1869.6" font-family="'Liberation Sans', sans-serif" font-size="31" font-weight="bold" fill="#000" text-anchor="middle" >e</text>
<line x1="1068.2" y1="1851.1" x2="1074.2" y2="1851.1" stroke="#000" stroke-width="2.4" />
<text x="879" y="2006" font-family="'Liberation Serif', serif" font-size="32" font-weight="bold" fill="#000" text-anchor="start" textLength="196.4" lengthAdjust="spacingAndGlyphs" >2D orientation</text>
<polygon points="1231,1812.7 1260.6,1769.5 1566,1769.5 1538.6,1812.7" fill="#eaf2e3" stroke="#dde4d5" stroke-width="1.5"/>
<polygon points="1538.6,1812.7 1566,1769.5 1566,1899 1538.6,1943.3" fill="#bcc4b3" stroke="#dde4d5" stroke-width="0.8"/>
<rect x="1231" y="1812.7" width="307.6" height="130.6" fill="#e9f1e1" stroke="#dde4d5" stroke-width="1.5"/>
<ellipse cx="1252.8" cy="1824.8" rx="6.8" ry="4.2" fill="#c4cfe0" stroke="#7f90b0" stroke-width="0.7" transform="rotate(4.7 1252.8 1824.8)"/>
<ellipse cx="1266.7" cy="1826" rx="6.8" ry="4.0" fill="#8a6a14" stroke="#5e4a0e" stroke-width="0.7" transform="rotate(4.8 1266.7 1826)"/>
<ellipse cx="1280.7" cy="1827.2" rx="6.8" ry="4.2" fill="#c4cfe0" stroke="#7f90b0" stroke-width="0.7" transform="rotate(5.1 1280.7 1827.2)"/>
<rect x="1288.1" y="1825.1" width="20" height="7.6" fill="#a8552a" stroke="#6a3a1a" stroke-width="0.7" transform="rotate(5.9 1298.1 1828.9)"/>
<ellipse cx="1315.5" cy="1830.8" rx="6.8" ry="4.2" fill="#c4cfe0" stroke="#7f90b0" stroke-width="0.7" transform="rotate(6.6 1315.5 1830.8)"/>
<ellipse cx="1329.4" cy="1832.4" rx="6.8" ry="4.0" fill="#8a6a14" stroke="#5e4a0e" stroke-width="0.7" transform="rotate(6.8 1329.4 1832.4)"/>
<ellipse cx="1343.3" cy="1834.1" rx="6.8" ry="4.2" fill="#c4cfe0" stroke="#7f90b0" stroke-width="0.7" transform="rotate(7 1343.3 1834.1)"/>
<rect x="1350.6" y="1832.7" width="20" height="7.6" fill="#a8552a" stroke="#6a3a1a" stroke-width="0.7" transform="rotate(7.7 1360.6 1836.5)"/>
<ellipse cx="1378.1" cy="1837.8" rx="6.8" ry="4.2" fill="#c4cfe0" stroke="#7f90b0" stroke-width="0.7" transform="rotate(-4.1 1378.1 1837.8)"/>
<ellipse cx="1390.7" cy="1832.3" rx="6.8" ry="4.0" fill="#8a6a14" stroke="#5e4a0e" stroke-width="0.7" transform="rotate(-12 1390.7 1832.3)"/>
<ellipse cx="1404.5" cy="1830.5" rx="6.8" ry="4.2" fill="#c4cfe0" stroke="#7f90b0" stroke-width="0.7" transform="rotate(-5 1404.5 1830.5)"/>
<rect x="1412" y="1825.6" width="20" height="7.6" fill="#a8552a" stroke="#6a3a1a" stroke-width="0.7" transform="rotate(-6.5 1422 1829.4)"/>
<ellipse cx="1439.3" cy="1827.1" rx="6.8" ry="4.2" fill="#c4cfe0" stroke="#7f90b0" stroke-width="0.7" transform="rotate(-7.9 1439.3 1827.1)"/>
<ellipse cx="1453.2" cy="1825.2" rx="6.8" ry="4.0" fill="#8a6a14" stroke="#5e4a0e" stroke-width="0.7" transform="rotate(-7.6 1453.2 1825.2)"/>
<ellipse cx="1467.1" cy="1823.3" rx="6.8" ry="4.2" fill="#c4cfe0" stroke="#7f90b0" stroke-width="0.7" transform="rotate(-7.6 1467.1 1823.3)"/>
<rect x="1474.4" y="1817.2" width="20" height="7.6" fill="#a8552a" stroke="#6a3a1a" stroke-width="0.7" transform="rotate(-7.6 1484.4 1821)"/>
<ellipse cx="1501.8" cy="1818.7" rx="6.8" ry="4.2" fill="#c4cfe0" stroke="#7f90b0" stroke-width="0.7" transform="rotate(-7.6 1501.8 1818.7)"/>
<ellipse cx="1515.7" cy="1816.9" rx="6.8" ry="4.0" fill="#8a6a14" stroke="#5e4a0e" stroke-width="0.7" transform="rotate(-7.4 1515.7 1816.9)"/>
<ellipse cx="1529.6" cy="1815.1" rx="6.8" ry="4.2" fill="#c4cfe0" stroke="#7f90b0" stroke-width="0.7" transform="rotate(-6.9 1529.6 1815.1)"/>
<ellipse cx="1265.4" cy="1849.3" rx="6.8" ry="4.2" fill="#c4cfe0" stroke="#7f90b0" stroke-width="0.7" transform="rotate(6.3 1265.4 1849.3)"/>
<ellipse cx="1279.3" cy="1850.8" rx="6.8" ry="4.0" fill="#8a6a14" stroke="#5e4a0e" stroke-width="0.7" transform="rotate(6.4 1279.3 1850.8)"/>
<ellipse cx="1293.2" cy="1852.4" rx="6.8" ry="4.2" fill="#c4cfe0" stroke="#7f90b0" stroke-width="0.7" transform="rotate(6.6 1293.2 1852.4)"/>
<rect x="1300.6" y="1850.7" width="20" height="7.6" fill="#a8552a" stroke="#6a3a1a" stroke-width="0.7" transform="rotate(7.6 1310.6 1854.5)"/>
<ellipse cx="1327.9" cy="1856.9" rx="6.8" ry="4.2" fill="#c4cfe0" stroke="#7f90b0" stroke-width="0.7" transform="rotate(8 1327.9 1856.9)"/>
<ellipse cx="1341.8" cy="1858.7" rx="6.8" ry="4.0" fill="#8a6a14" stroke="#5e4a0e" stroke-width="0.7" transform="rotate(6.1 1341.8 1858.7)"/>
<ellipse cx="1355.8" cy="1860.1" rx="6.8" ry="4.2" fill="#c4cfe0" stroke="#7f90b0" stroke-width="0.7" transform="rotate(5.2 1355.8 1860.1)"/>
<rect x="1363.2" y="1857.7" width="20" height="7.6" fill="#a8552a" stroke="#6a3a1a" stroke-width="0.7" transform="rotate(3.7 1373.2 1861.5)"/>
<ellipse cx="1390.7" cy="1862.2" rx="6.8" ry="4.2" fill="#c4cfe0" stroke="#7f90b0" stroke-width="0.7" transform="rotate(0.3 1390.7 1862.2)"/>
<ellipse cx="1404.7" cy="1861.7" rx="6.8" ry="4.0" fill="#8a6a14" stroke="#5e4a0e" stroke-width="0.7" transform="rotate(-4 1404.7 1861.7)"/>
<ellipse cx="1418.6" cy="1860.3" rx="6.8" ry="4.2" fill="#c4cfe0" stroke="#7f90b0" stroke-width="0.7" transform="rotate(-6.7 1418.6 1860.3)"/>
<rect x="1425.9" y="1853.9" width="20" height="7.6" fill="#a8552a" stroke="#6a3a1a" stroke-width="0.7" transform="rotate(-10.3 1435.9 1857.7)"/>
<ellipse cx="1453.1" cy="1854.7" rx="6.8" ry="4.2" fill="#c4cfe0" stroke="#7f90b0" stroke-width="0.7" transform="rotate(-8.4 1453.1 1854.7)"/>
<ellipse cx="1467" cy="1852.8" rx="6.8" ry="4.0" fill="#8a6a14" stroke="#5e4a0e" stroke-width="0.7" transform="rotate(-7.5 1467 1852.8)"/>
<ellipse cx="1480.9" cy="1851" rx="6.8" ry="4.2" fill="#c4cfe0" stroke="#7f90b0" stroke-width="0.7" transform="rotate(-7.3 1480.9 1851)"/>
<rect x="1488.2" y="1845" width="20" height="7.6" fill="#a8552a" stroke="#6a3a1a" stroke-width="0.7" transform="rotate(-7 1498.2 1848.8)"/>
<ellipse cx="1515.6" cy="1846.6" rx="6.8" ry="4.2" fill="#c4cfe0" stroke="#7f90b0" stroke-width="0.7" transform="rotate(-7.3 1515.6 1846.6)"/>
<ellipse cx="1529.5" cy="1844.7" rx="6.8" ry="4.0" fill="#8a6a14" stroke="#5e4a0e" stroke-width="0.7" transform="rotate(-8.6 1529.5 1844.7)"/>
<ellipse cx="1259.1" cy="1878.8" rx="6.8" ry="4.2" fill="#c4cfe0" stroke="#7f90b0" stroke-width="0.7" transform="rotate(6.5 1259.1 1878.8)"/>
<ellipse cx="1273" cy="1880.3" rx="6.8" ry="4.0" fill="#8a6a14" stroke="#5e4a0e" stroke-width="0.7" transform="rotate(6.5 1273 1880.3)"/>
<ellipse cx="1286.9" cy="1881.9" rx="6.8" ry="4.2" fill="#c4cfe0" stroke="#7f90b0" stroke-width="0.7" transform="rotate(6.5 1286.9 1881.9)"/>
<rect x="1294.3" y="1880.1" width="20" height="7.6" fill="#a8552a" stroke="#6a3a1a" stroke-width="0.7" transform="rotate(6.8 1304.3 1883.9)"/>
<ellipse cx="1321.7" cy="1886" rx="6.8" ry="4.2" fill="#c4cfe0" stroke="#7f90b0" stroke-width="0.7" transform="rotate(6.9 1321.7 1886)"/>
<ellipse cx="1335.6" cy="1887.6" rx="6.8" ry="4.0" fill="#8a6a14" stroke="#5e4a0e" stroke-width="0.7" transform="rotate(6.2 1335.6 1887.6)"/>
<ellipse cx="1349.5" cy="1889" rx="6.8" ry="4.2" fill="#c4cfe0" stroke="#7f90b0" stroke-width="0.7" transform="rotate(6.3 1349.5 1889)"/>
<rect x="1356.9" y="1886.9" width="20" height="7.6" fill="#a8552a" stroke="#6a3a1a" stroke-width="0.7" transform="rotate(1.2 1366.9 1890.7)"/>
<ellipse cx="1382.3" cy="1884.6" rx="6.8" ry="4.2" fill="#c4cfe0" stroke="#7f90b0" stroke-width="0.7" transform="rotate(-55.5 1382.3 1884.6)"/>
<ellipse cx="1389.3" cy="1872.4" rx="6.8" ry="4.0" fill="#8a6a14" stroke="#5e4a0e" stroke-width="0.7" transform="rotate(-48.8 1389.3 1872.4)"/>
<ellipse cx="1399.8" cy="1864.4" rx="6.8" ry="4.2" fill="#c4cfe0" stroke="#7f90b0" stroke-width="0.7" transform="rotate(27.5 1399.8 1864.4)"/>
<rect x="1400.6" y="1874.1" width="20" height="7.6" fill="#a8552a" stroke="#6a3a1a" stroke-width="0.7" transform="rotate(45.2 1410.6 1877.9)"/>
<ellipse cx="1427.5" cy="1879.2" rx="6.8" ry="4.2" fill="#c4cfe0" stroke="#7f90b0" stroke-width="0.7" transform="rotate(-6.7 1427.5 1879.2)"/>
<ellipse cx="1441.4" cy="1877.3" rx="6.8" ry="4.0" fill="#8a6a14" stroke="#5e4a0e" stroke-width="0.7" transform="rotate(-9.1 1441.4 1877.3)"/>
<ellipse cx="1455.2" cy="1875" rx="6.8" ry="4.2" fill="#c4cfe0" stroke="#7f90b0" stroke-width="0.7" transform="rotate(-9.4 1455.2 1875)"/>
<rect x="1462.5" y="1868.6" width="20" height="7.6" fill="#a8552a" stroke="#6a3a1a" stroke-width="0.7" transform="rotate(-7.6 1472.5 1872.4)"/>
<ellipse cx="1489.8" cy="1870.1" rx="6.8" ry="4.2" fill="#c4cfe0" stroke="#7f90b0" stroke-width="0.7" transform="rotate(-7.4 1489.8 1870.1)"/>
<ellipse cx="1503.7" cy="1868.3" rx="6.8" ry="4.0" fill="#8a6a14" stroke="#5e4a0e" stroke-width="0.7" transform="rotate(-7.7 1503.7 1868.3)"/>
<ellipse cx="1517.6" cy="1866.4" rx="6.8" ry="4.2" fill="#c4cfe0" stroke="#7f90b0" stroke-width="0.7" transform="rotate(-7.5 1517.6 1866.4)"/>
<rect x="1524.9" y="1860.5" width="20" height="7.6" fill="#a8552a" stroke="#6a3a1a" stroke-width="0.7" transform="rotate(-6.3 1534.9 1864.3)"/>
<ellipse cx="1263.3" cy="1908.1" rx="6.8" ry="4.2" fill="#c4cfe0" stroke="#7f90b0" stroke-width="0.7" transform="rotate(5 1263.3 1908.1)"/>
<ellipse cx="1277.3" cy="1909.3" rx="6.8" ry="4.0" fill="#8a6a14" stroke="#5e4a0e" stroke-width="0.7" transform="rotate(5.1 1277.3 1909.3)"/>
<ellipse cx="1291.2" cy="1910.6" rx="6.8" ry="4.2" fill="#c4cfe0" stroke="#7f90b0" stroke-width="0.7" transform="rotate(5.3 1291.2 1910.6)"/>
<rect x="1298.6" y="1908.5" width="20" height="7.6" fill="#a8552a" stroke="#6a3a1a" stroke-width="0.7" transform="rotate(6.2 1308.6 1912.3)"/>
<ellipse cx="1326" cy="1914.3" rx="6.8" ry="4.2" fill="#c4cfe0" stroke="#7f90b0" stroke-width="0.7" transform="rotate(6.6 1326 1914.3)"/>
<ellipse cx="1339.9" cy="1915.9" rx="6.8" ry="4.0" fill="#8a6a14" stroke="#5e4a0e" stroke-width="0.7" transform="rotate(6.7 1339.9 1915.9)"/>
<ellipse cx="1353.8" cy="1917.6" rx="6.8" ry="4.2" fill="#c4cfe0" stroke="#7f90b0" stroke-width="0.7" transform="rotate(7.9 1353.8 1917.6)"/>
<rect x="1361.1" y="1916.3" width="20" height="7.6" fill="#a8552a" stroke="#6a3a1a" stroke-width="0.7" transform="rotate(7.9 1371.1 1920.1)"/>
<ellipse cx="1388.5" cy="1920.6" rx="6.8" ry="4.2" fill="#c4cfe0" stroke="#7f90b0" stroke-width="0.7" transform="rotate(-13.2 1388.5 1920.6)"/>
<ellipse cx="1401" cy="1914.6" rx="6.8" ry="4.0" fill="#8a6a14" stroke="#5e4a0e" stroke-width="0.7" transform="rotate(-9.7 1401 1914.6)"/>
<ellipse cx="1415" cy="1914.2" rx="6.8" ry="4.2" fill="#c4cfe0" stroke="#7f90b0" stroke-width="0.7" transform="rotate(-1.5 1415 1914.2)"/>
<rect x="1422.4" y="1908.6" width="20" height="7.6" fill="#a8552a" stroke="#6a3a1a" stroke-width="0.7" transform="rotate(-7.4 1432.4 1912.4)"/>
<ellipse cx="1449.7" cy="1910.1" rx="6.8" ry="4.2" fill="#c4cfe0" stroke="#7f90b0" stroke-width="0.7" transform="rotate(-7.3 1449.7 1910.1)"/>
<ellipse cx="1463.6" cy="1908.4" rx="6.8" ry="4.0" fill="#8a6a14" stroke="#5e4a0e" stroke-width="0.7" transform="rotate(-6.1 1463.6 1908.4)"/>
<ellipse cx="1477.5" cy="1907.1" rx="6.8" ry="4.2" fill="#c4cfe0" stroke="#7f90b0" stroke-width="0.7" transform="rotate(-5.2 1477.5 1907.1)"/>
<rect x="1485" y="1901.6" width="20" height="7.6" fill="#a8552a" stroke="#6a3a1a" stroke-width="0.7" transform="rotate(-5.8 1495 1905.4)"/>
<ellipse cx="1512.3" cy="1903.3" rx="6.8" ry="4.2" fill="#c4cfe0" stroke="#7f90b0" stroke-width="0.7" transform="rotate(-8.3 1512.3 1903.3)"/>
<ellipse cx="1526.2" cy="1901.1" rx="6.8" ry="4.0" fill="#8a6a14" stroke="#5e4a0e" stroke-width="0.7" transform="rotate(-9.3 1526.2 1901.1)"/>
<ellipse cx="1540" cy="1898.8" rx="6.8" ry="4.2" fill="#c4cfe0" stroke="#7f90b0" stroke-width="0.7" transform="rotate(-9.5 1540 1898.8)"/>
<rect x="1374.3" y="1761" width="63.7" height="9" fill="#000"/>
<rect x="1370" y="1940" width="63.7" height="9" fill="#000"/>
<line x1="1408.6" y1="1774.8" x2="1408.6" y2="1916.7" stroke="#c00000" stroke-width="3.2" />
<polygon points="1402.3,1914.7 1414.9,1914.7 1408.6,1932.7" fill="#c00000" stroke="none" stroke-width="0" stroke-linejoin="miter" />
<circle cx="1443.4" cy="1859.6" r="19" fill="#c00000" stroke="#5a0000" stroke-width="1"/>
<text x="1440.4" y="1869.6" font-family="'Liberation Sans', sans-serif" font-size="31" font-weight="bold" fill="#000" text-anchor="middle" >e</text>
<line x1="1452.4" y1="1851.1" x2="1458.4" y2="1851.1" stroke="#000" stroke-width="2.4" />
<text x="1205" y="2006" font-family="'Liberation Serif', serif" font-size="32" font-weight="bold" fill="#000" text-anchor="start" textLength="382" lengthAdjust="spacingAndGlyphs" >Liquid crystal like structure</text>
</svg>
</body></html>
